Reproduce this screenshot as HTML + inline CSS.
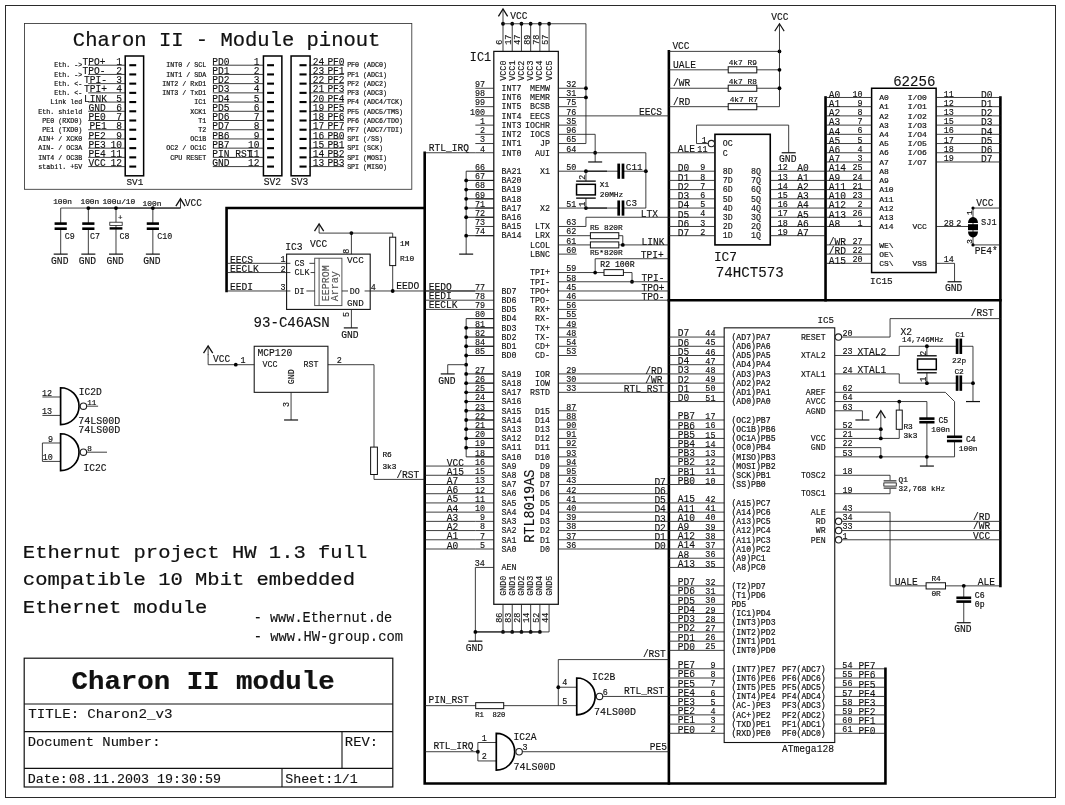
<!DOCTYPE html>
<html><head><meta charset="utf-8"><title>Charon II module</title>
<style>
html,body{margin:0;padding:0;background:#fff}
body{width:1065px;height:805px;overflow:hidden}
svg{display:block;will-change:transform}
svg text{font-family:"Liberation Mono","DejaVu Sans Mono",monospace;fill:#111;white-space:pre;stroke:#111;stroke-width:0.14px}
svg text.b{stroke-width:0.22px}
svg text.m{stroke-width:0.12px}
svg text.t{stroke-width:0.2px}
</style></head><body>
<svg width="1065" height="805" viewBox="0 0 1065 805">
<rect width="1065" height="805" fill="#fff"/>
<rect x="5.5" y="5.5" width="1050" height="792" fill="none" stroke="#2a2a2a" stroke-width="1.0"/>
<rect x="24.5" y="23.5" width="387.3" height="165.8" fill="none" stroke="#333" stroke-width="0.85"/>
<text x="72.89" y="45.7" font-size="20.03" textLength="307.5" lengthAdjust="spacingAndGlyphs" class="b">Charon II - Module pinout</text>
<rect x="125.2" y="56" width="18.43" height="119.8" fill="none" stroke="#000" stroke-width="1.5"/>
<line x1="88.2" y1="65.21" x2="125.2" y2="65.21" stroke="#1c1c1c" stroke-width="0.85" stroke-linecap="butt"/>
<line x1="129.3" y1="65.21" x2="136.2" y2="65.21" stroke="#000" stroke-width="2.1" stroke-linecap="butt"/>
<text x="82.58" y="64.81" font-size="10.09" textLength="23" lengthAdjust="spacingAndGlyphs">TPO+</text>
<text x="122.12" y="64.81" font-size="10.09" textLength="5.75" lengthAdjust="spacingAndGlyphs" text-anchor="end">1</text>
<text x="82.16" y="67.49" font-size="6.9" textLength="28" lengthAdjust="spacingAndGlyphs" text-anchor="end" class="t">Eth. -&gt;</text>
<line x1="88.2" y1="74.43" x2="125.2" y2="74.43" stroke="#1c1c1c" stroke-width="0.85" stroke-linecap="butt"/>
<line x1="129.3" y1="74.43" x2="136.2" y2="74.43" stroke="#000" stroke-width="2.1" stroke-linecap="butt"/>
<text x="82.58" y="74.03" font-size="10.09" textLength="23" lengthAdjust="spacingAndGlyphs">TPO-</text>
<text x="122.12" y="74.03" font-size="10.09" textLength="5.75" lengthAdjust="spacingAndGlyphs" text-anchor="end">2</text>
<text x="82.16" y="76.7" font-size="6.9" textLength="28" lengthAdjust="spacingAndGlyphs" text-anchor="end" class="t">Eth. -&gt;</text>
<line x1="88.2" y1="83.64" x2="125.2" y2="83.64" stroke="#1c1c1c" stroke-width="0.85" stroke-linecap="butt"/>
<line x1="129.3" y1="83.64" x2="136.2" y2="83.64" stroke="#000" stroke-width="2.1" stroke-linecap="butt"/>
<text x="83.98" y="83.24" font-size="10.09" textLength="23" lengthAdjust="spacingAndGlyphs">TPI-</text>
<text x="122.12" y="83.24" font-size="10.09" textLength="5.75" lengthAdjust="spacingAndGlyphs" text-anchor="end">3</text>
<text x="82.16" y="85.92" font-size="6.9" textLength="28" lengthAdjust="spacingAndGlyphs" text-anchor="end" class="t">Eth. &lt;-</text>
<line x1="88.2" y1="92.86" x2="125.2" y2="92.86" stroke="#1c1c1c" stroke-width="0.85" stroke-linecap="butt"/>
<line x1="129.3" y1="92.86" x2="136.2" y2="92.86" stroke="#000" stroke-width="2.1" stroke-linecap="butt"/>
<text x="83.98" y="92.46" font-size="10.09" textLength="23" lengthAdjust="spacingAndGlyphs">TPI+</text>
<text x="122.12" y="92.46" font-size="10.09" textLength="5.75" lengthAdjust="spacingAndGlyphs" text-anchor="end">4</text>
<text x="82.16" y="95.13" font-size="6.9" textLength="28" lengthAdjust="spacingAndGlyphs" text-anchor="end" class="t">Eth. &lt;-</text>
<line x1="88.2" y1="102.07" x2="125.2" y2="102.07" stroke="#1c1c1c" stroke-width="0.85" stroke-linecap="butt"/>
<line x1="129.3" y1="102.07" x2="136.2" y2="102.07" stroke="#000" stroke-width="2.1" stroke-linecap="butt"/>
<text x="83.98" y="101.67" font-size="10.09" textLength="23" lengthAdjust="spacingAndGlyphs">LINK</text>
<text x="122.12" y="101.67" font-size="10.09" textLength="5.75" lengthAdjust="spacingAndGlyphs" text-anchor="end">5</text>
<text x="82.16" y="104.35" font-size="6.9" textLength="32" lengthAdjust="spacingAndGlyphs" text-anchor="end" class="t">Link led</text>
<line x1="88.2" y1="111.29" x2="125.2" y2="111.29" stroke="#1c1c1c" stroke-width="0.85" stroke-linecap="butt"/>
<line x1="129.3" y1="111.29" x2="136.2" y2="111.29" stroke="#000" stroke-width="2.1" stroke-linecap="butt"/>
<text x="88.48" y="110.89" font-size="10.09" textLength="17.25" lengthAdjust="spacingAndGlyphs">GND</text>
<text x="122.12" y="110.89" font-size="10.09" textLength="5.75" lengthAdjust="spacingAndGlyphs" text-anchor="end">6</text>
<text x="82.16" y="113.56" font-size="6.9" textLength="44" lengthAdjust="spacingAndGlyphs" text-anchor="end" class="t">Eth. shield</text>
<line x1="88.2" y1="120.5" x2="125.2" y2="120.5" stroke="#1c1c1c" stroke-width="0.85" stroke-linecap="butt"/>
<line x1="129.3" y1="120.5" x2="136.2" y2="120.5" stroke="#000" stroke-width="2.1" stroke-linecap="butt"/>
<text x="88.48" y="120.1" font-size="10.09" textLength="17.25" lengthAdjust="spacingAndGlyphs">PE0</text>
<text x="122.12" y="120.1" font-size="10.09" textLength="5.75" lengthAdjust="spacingAndGlyphs" text-anchor="end">7</text>
<text x="82.16" y="122.78" font-size="6.9" textLength="40" lengthAdjust="spacingAndGlyphs" text-anchor="end" class="t">PE0 (RXD0)</text>
<line x1="88.2" y1="129.72" x2="125.2" y2="129.72" stroke="#1c1c1c" stroke-width="0.85" stroke-linecap="butt"/>
<line x1="129.3" y1="129.72" x2="136.2" y2="129.72" stroke="#000" stroke-width="2.1" stroke-linecap="butt"/>
<text x="89.48" y="129.32" font-size="10.09" textLength="17.25" lengthAdjust="spacingAndGlyphs">PE1</text>
<text x="122.12" y="129.32" font-size="10.09" textLength="5.75" lengthAdjust="spacingAndGlyphs" text-anchor="end">8</text>
<text x="82.16" y="131.99" font-size="6.9" textLength="40" lengthAdjust="spacingAndGlyphs" text-anchor="end" class="t">PE1 (TXD0)</text>
<line x1="88.2" y1="138.93" x2="125.2" y2="138.93" stroke="#1c1c1c" stroke-width="0.85" stroke-linecap="butt"/>
<line x1="129.3" y1="138.93" x2="136.2" y2="138.93" stroke="#000" stroke-width="2.1" stroke-linecap="butt"/>
<text x="88.48" y="138.53" font-size="10.09" textLength="17.25" lengthAdjust="spacingAndGlyphs">PE2</text>
<text x="122.12" y="138.53" font-size="10.09" textLength="5.75" lengthAdjust="spacingAndGlyphs" text-anchor="end">9</text>
<text x="82.16" y="141.21" font-size="6.9" textLength="44" lengthAdjust="spacingAndGlyphs" text-anchor="end" class="t">AIN+ / XCK0</text>
<line x1="88.2" y1="148.15" x2="125.2" y2="148.15" stroke="#1c1c1c" stroke-width="0.85" stroke-linecap="butt"/>
<line x1="129.3" y1="148.15" x2="136.2" y2="148.15" stroke="#000" stroke-width="2.1" stroke-linecap="butt"/>
<text x="88.48" y="147.75" font-size="10.09" textLength="17.25" lengthAdjust="spacingAndGlyphs">PE3</text>
<text x="122.12" y="147.75" font-size="10.09" textLength="11.5" lengthAdjust="spacingAndGlyphs" text-anchor="end">10</text>
<text x="82.16" y="150.42" font-size="6.9" textLength="44" lengthAdjust="spacingAndGlyphs" text-anchor="end" class="t">AIN- / OC3A</text>
<line x1="88.2" y1="157.36" x2="125.2" y2="157.36" stroke="#1c1c1c" stroke-width="0.85" stroke-linecap="butt"/>
<line x1="129.3" y1="157.36" x2="136.2" y2="157.36" stroke="#000" stroke-width="2.1" stroke-linecap="butt"/>
<text x="88.48" y="156.96" font-size="10.09" textLength="17.25" lengthAdjust="spacingAndGlyphs">PE4</text>
<text x="122.12" y="156.96" font-size="10.09" textLength="11.5" lengthAdjust="spacingAndGlyphs" text-anchor="end">11</text>
<text x="82.16" y="159.64" font-size="6.9" textLength="44" lengthAdjust="spacingAndGlyphs" text-anchor="end" class="t">INT4 / OC3B</text>
<line x1="88.2" y1="166.58" x2="125.2" y2="166.58" stroke="#1c1c1c" stroke-width="0.85" stroke-linecap="butt"/>
<line x1="129.3" y1="166.58" x2="136.2" y2="166.58" stroke="#000" stroke-width="2.1" stroke-linecap="butt"/>
<text x="88.48" y="166.18" font-size="10.09" textLength="17.25" lengthAdjust="spacingAndGlyphs">VCC</text>
<text x="122.12" y="166.18" font-size="10.09" textLength="11.5" lengthAdjust="spacingAndGlyphs" text-anchor="end">12</text>
<text x="82.16" y="168.85" font-size="6.9" textLength="44" lengthAdjust="spacingAndGlyphs" text-anchor="end" class="t">stabil. +5V</text>
<text x="126.5" y="185.4" font-size="9.86" textLength="16.8" lengthAdjust="spacingAndGlyphs">SV1</text>
<rect x="263.43" y="56" width="18.43" height="119.8" fill="none" stroke="#000" stroke-width="1.5"/>
<line x1="212.8" y1="65.21" x2="263.43" y2="65.21" stroke="#1c1c1c" stroke-width="0.85" stroke-linecap="butt"/>
<line x1="267.1" y1="65.21" x2="274" y2="65.21" stroke="#000" stroke-width="2.1" stroke-linecap="butt"/>
<text x="212.28" y="64.81" font-size="10.09" textLength="17.25" lengthAdjust="spacingAndGlyphs">PD0</text>
<text x="259.52" y="64.81" font-size="10.09" textLength="5.75" lengthAdjust="spacingAndGlyphs" text-anchor="end">1</text>
<text x="206.16" y="67.49" font-size="6.9" textLength="40" lengthAdjust="spacingAndGlyphs" text-anchor="end" class="t">INT0 / SCL</text>
<line x1="212.8" y1="74.43" x2="263.43" y2="74.43" stroke="#1c1c1c" stroke-width="0.85" stroke-linecap="butt"/>
<line x1="267.1" y1="74.43" x2="274" y2="74.43" stroke="#000" stroke-width="2.1" stroke-linecap="butt"/>
<text x="212.28" y="74.03" font-size="10.09" textLength="17.25" lengthAdjust="spacingAndGlyphs">PD1</text>
<text x="259.52" y="74.03" font-size="10.09" textLength="5.75" lengthAdjust="spacingAndGlyphs" text-anchor="end">2</text>
<text x="206.16" y="76.7" font-size="6.9" textLength="40" lengthAdjust="spacingAndGlyphs" text-anchor="end" class="t">INT1 / SDA</text>
<line x1="212.8" y1="83.64" x2="263.43" y2="83.64" stroke="#1c1c1c" stroke-width="0.85" stroke-linecap="butt"/>
<line x1="267.1" y1="83.64" x2="274" y2="83.64" stroke="#000" stroke-width="2.1" stroke-linecap="butt"/>
<text x="212.28" y="83.24" font-size="10.09" textLength="17.25" lengthAdjust="spacingAndGlyphs">PD2</text>
<text x="259.52" y="83.24" font-size="10.09" textLength="5.75" lengthAdjust="spacingAndGlyphs" text-anchor="end">3</text>
<text x="206.16" y="85.92" font-size="6.9" textLength="44" lengthAdjust="spacingAndGlyphs" text-anchor="end" class="t">INT2 / RxD1</text>
<line x1="212.8" y1="92.86" x2="263.43" y2="92.86" stroke="#1c1c1c" stroke-width="0.85" stroke-linecap="butt"/>
<line x1="267.1" y1="92.86" x2="274" y2="92.86" stroke="#000" stroke-width="2.1" stroke-linecap="butt"/>
<text x="212.28" y="92.46" font-size="10.09" textLength="17.25" lengthAdjust="spacingAndGlyphs">PD3</text>
<text x="259.52" y="92.46" font-size="10.09" textLength="5.75" lengthAdjust="spacingAndGlyphs" text-anchor="end">4</text>
<text x="206.16" y="95.13" font-size="6.9" textLength="44" lengthAdjust="spacingAndGlyphs" text-anchor="end" class="t">INT3 / TxD1</text>
<line x1="212.8" y1="102.07" x2="263.43" y2="102.07" stroke="#1c1c1c" stroke-width="0.85" stroke-linecap="butt"/>
<line x1="267.1" y1="102.07" x2="274" y2="102.07" stroke="#000" stroke-width="2.1" stroke-linecap="butt"/>
<text x="212.28" y="101.67" font-size="10.09" textLength="17.25" lengthAdjust="spacingAndGlyphs">PD4</text>
<text x="259.52" y="101.67" font-size="10.09" textLength="5.75" lengthAdjust="spacingAndGlyphs" text-anchor="end">5</text>
<text x="206.16" y="104.35" font-size="6.9" textLength="12" lengthAdjust="spacingAndGlyphs" text-anchor="end" class="t">IC1</text>
<line x1="212.8" y1="111.29" x2="263.43" y2="111.29" stroke="#1c1c1c" stroke-width="0.85" stroke-linecap="butt"/>
<line x1="267.1" y1="111.29" x2="274" y2="111.29" stroke="#000" stroke-width="2.1" stroke-linecap="butt"/>
<text x="212.28" y="110.89" font-size="10.09" textLength="17.25" lengthAdjust="spacingAndGlyphs">PD5</text>
<text x="259.52" y="110.89" font-size="10.09" textLength="5.75" lengthAdjust="spacingAndGlyphs" text-anchor="end">6</text>
<text x="206.16" y="113.56" font-size="6.9" textLength="16" lengthAdjust="spacingAndGlyphs" text-anchor="end" class="t">XCK1</text>
<line x1="212.8" y1="120.5" x2="263.43" y2="120.5" stroke="#1c1c1c" stroke-width="0.85" stroke-linecap="butt"/>
<line x1="267.1" y1="120.5" x2="274" y2="120.5" stroke="#000" stroke-width="2.1" stroke-linecap="butt"/>
<text x="212.28" y="120.1" font-size="10.09" textLength="17.25" lengthAdjust="spacingAndGlyphs">PD6</text>
<text x="259.52" y="120.1" font-size="10.09" textLength="5.75" lengthAdjust="spacingAndGlyphs" text-anchor="end">7</text>
<text x="206.16" y="122.78" font-size="6.9" textLength="8" lengthAdjust="spacingAndGlyphs" text-anchor="end" class="t">T1</text>
<line x1="212.8" y1="129.72" x2="263.43" y2="129.72" stroke="#1c1c1c" stroke-width="0.85" stroke-linecap="butt"/>
<line x1="267.1" y1="129.72" x2="274" y2="129.72" stroke="#000" stroke-width="2.1" stroke-linecap="butt"/>
<text x="212.28" y="129.32" font-size="10.09" textLength="17.25" lengthAdjust="spacingAndGlyphs">PD7</text>
<text x="259.52" y="129.32" font-size="10.09" textLength="5.75" lengthAdjust="spacingAndGlyphs" text-anchor="end">8</text>
<text x="206.16" y="131.99" font-size="6.9" textLength="8" lengthAdjust="spacingAndGlyphs" text-anchor="end" class="t">T2</text>
<line x1="212.8" y1="138.93" x2="263.43" y2="138.93" stroke="#1c1c1c" stroke-width="0.85" stroke-linecap="butt"/>
<line x1="267.1" y1="138.93" x2="274" y2="138.93" stroke="#000" stroke-width="2.1" stroke-linecap="butt"/>
<text x="212.28" y="138.53" font-size="10.09" textLength="17.25" lengthAdjust="spacingAndGlyphs">PB6</text>
<text x="259.52" y="138.53" font-size="10.09" textLength="5.75" lengthAdjust="spacingAndGlyphs" text-anchor="end">9</text>
<text x="206.16" y="141.21" font-size="6.9" textLength="16" lengthAdjust="spacingAndGlyphs" text-anchor="end" class="t">OC1B</text>
<line x1="212.8" y1="148.15" x2="263.43" y2="148.15" stroke="#1c1c1c" stroke-width="0.85" stroke-linecap="butt"/>
<line x1="267.1" y1="148.15" x2="274" y2="148.15" stroke="#000" stroke-width="2.1" stroke-linecap="butt"/>
<text x="212.28" y="147.75" font-size="10.09" textLength="17.25" lengthAdjust="spacingAndGlyphs">PB7</text>
<text x="259.52" y="147.75" font-size="10.09" textLength="11.5" lengthAdjust="spacingAndGlyphs" text-anchor="end">10</text>
<text x="206.16" y="150.42" font-size="6.9" textLength="40" lengthAdjust="spacingAndGlyphs" text-anchor="end" class="t">OC2 / OC1C</text>
<line x1="212.8" y1="157.36" x2="263.43" y2="157.36" stroke="#1c1c1c" stroke-width="0.85" stroke-linecap="butt"/>
<line x1="267.1" y1="157.36" x2="274" y2="157.36" stroke="#000" stroke-width="2.1" stroke-linecap="butt"/>
<text x="212.28" y="156.96" font-size="10.09" textLength="40.25" lengthAdjust="spacingAndGlyphs">PIN_RST</text>
<text x="259.52" y="156.96" font-size="10.09" textLength="11.5" lengthAdjust="spacingAndGlyphs" text-anchor="end">11</text>
<text x="206.16" y="159.64" font-size="6.9" textLength="36" lengthAdjust="spacingAndGlyphs" text-anchor="end" class="t">CPU RESET</text>
<line x1="212.8" y1="166.58" x2="263.43" y2="166.58" stroke="#1c1c1c" stroke-width="0.85" stroke-linecap="butt"/>
<line x1="267.1" y1="166.58" x2="274" y2="166.58" stroke="#000" stroke-width="2.1" stroke-linecap="butt"/>
<text x="212.28" y="166.18" font-size="10.09" textLength="17.25" lengthAdjust="spacingAndGlyphs">GND</text>
<text x="259.52" y="166.18" font-size="10.09" textLength="11.5" lengthAdjust="spacingAndGlyphs" text-anchor="end">12</text>
<text x="263.68" y="185.4" font-size="10.17" textLength="17.4" lengthAdjust="spacingAndGlyphs">SV2</text>
<rect x="291.07" y="56" width="19.03" height="119.8" fill="none" stroke="#000" stroke-width="1.5"/>
<line x1="309.5" y1="65.21" x2="344" y2="65.21" stroke="#1c1c1c" stroke-width="0.85" stroke-linecap="butt"/>
<line x1="299.5" y1="65.21" x2="306.6" y2="65.21" stroke="#000" stroke-width="2.1" stroke-linecap="butt"/>
<text x="312.78" y="64.81" font-size="10.09" textLength="11.5" lengthAdjust="spacingAndGlyphs">24</text>
<text x="327.38" y="64.81" font-size="10.09" textLength="17.25" lengthAdjust="spacingAndGlyphs">PF0</text>
<text x="347.14" y="67.49" font-size="6.9" textLength="40" lengthAdjust="spacingAndGlyphs" class="t">PF0 (ADC0)</text>
<line x1="309.5" y1="74.43" x2="344" y2="74.43" stroke="#1c1c1c" stroke-width="0.85" stroke-linecap="butt"/>
<line x1="299.5" y1="74.43" x2="306.6" y2="74.43" stroke="#000" stroke-width="2.1" stroke-linecap="butt"/>
<text x="312.78" y="74.03" font-size="10.09" textLength="11.5" lengthAdjust="spacingAndGlyphs">23</text>
<text x="327.38" y="74.03" font-size="10.09" textLength="17.25" lengthAdjust="spacingAndGlyphs">PF1</text>
<text x="347.14" y="76.7" font-size="6.9" textLength="40" lengthAdjust="spacingAndGlyphs" class="t">PF1 (ADC1)</text>
<line x1="309.5" y1="83.64" x2="344" y2="83.64" stroke="#1c1c1c" stroke-width="0.85" stroke-linecap="butt"/>
<line x1="299.5" y1="83.64" x2="306.6" y2="83.64" stroke="#000" stroke-width="2.1" stroke-linecap="butt"/>
<text x="312.78" y="83.24" font-size="10.09" textLength="11.5" lengthAdjust="spacingAndGlyphs">22</text>
<text x="327.38" y="83.24" font-size="10.09" textLength="17.25" lengthAdjust="spacingAndGlyphs">PF2</text>
<text x="347.14" y="85.92" font-size="6.9" textLength="40" lengthAdjust="spacingAndGlyphs" class="t">PF2 (ADC2)</text>
<line x1="309.5" y1="92.86" x2="344" y2="92.86" stroke="#1c1c1c" stroke-width="0.85" stroke-linecap="butt"/>
<line x1="299.5" y1="92.86" x2="306.6" y2="92.86" stroke="#000" stroke-width="2.1" stroke-linecap="butt"/>
<text x="312.78" y="92.46" font-size="10.09" textLength="11.5" lengthAdjust="spacingAndGlyphs">21</text>
<text x="327.38" y="92.46" font-size="10.09" textLength="17.25" lengthAdjust="spacingAndGlyphs">PF3</text>
<text x="347.14" y="95.13" font-size="6.9" textLength="40" lengthAdjust="spacingAndGlyphs" class="t">PF3 (ADC3)</text>
<line x1="309.5" y1="102.07" x2="344" y2="102.07" stroke="#1c1c1c" stroke-width="0.85" stroke-linecap="butt"/>
<line x1="299.5" y1="102.07" x2="306.6" y2="102.07" stroke="#000" stroke-width="2.1" stroke-linecap="butt"/>
<text x="312.78" y="101.67" font-size="10.09" textLength="11.5" lengthAdjust="spacingAndGlyphs">20</text>
<text x="327.38" y="101.67" font-size="10.09" textLength="17.25" lengthAdjust="spacingAndGlyphs">PF4</text>
<text x="347.14" y="104.35" font-size="6.9" textLength="56" lengthAdjust="spacingAndGlyphs" class="t">PF4 (ADC4/TCK)</text>
<line x1="309.5" y1="111.29" x2="344" y2="111.29" stroke="#1c1c1c" stroke-width="0.85" stroke-linecap="butt"/>
<line x1="299.5" y1="111.29" x2="306.6" y2="111.29" stroke="#000" stroke-width="2.1" stroke-linecap="butt"/>
<text x="312.78" y="110.89" font-size="10.09" textLength="11.5" lengthAdjust="spacingAndGlyphs">19</text>
<text x="327.38" y="110.89" font-size="10.09" textLength="17.25" lengthAdjust="spacingAndGlyphs">PF5</text>
<text x="347.14" y="113.56" font-size="6.9" textLength="56" lengthAdjust="spacingAndGlyphs" class="t">PF5 (ADC5/TMS)</text>
<line x1="309.5" y1="120.5" x2="344" y2="120.5" stroke="#1c1c1c" stroke-width="0.85" stroke-linecap="butt"/>
<line x1="299.5" y1="120.5" x2="306.6" y2="120.5" stroke="#000" stroke-width="2.1" stroke-linecap="butt"/>
<text x="312.78" y="120.1" font-size="10.09" textLength="11.5" lengthAdjust="spacingAndGlyphs">18</text>
<text x="327.38" y="120.1" font-size="10.09" textLength="17.25" lengthAdjust="spacingAndGlyphs">PF6</text>
<text x="347.14" y="122.78" font-size="6.9" textLength="56" lengthAdjust="spacingAndGlyphs" class="t">PF6 (ADC6/TDO)</text>
<line x1="309.5" y1="129.72" x2="344" y2="129.72" stroke="#1c1c1c" stroke-width="0.85" stroke-linecap="butt"/>
<line x1="299.5" y1="129.72" x2="306.6" y2="129.72" stroke="#000" stroke-width="2.1" stroke-linecap="butt"/>
<text x="312.78" y="129.32" font-size="10.09" textLength="11.5" lengthAdjust="spacingAndGlyphs">17</text>
<text x="327.38" y="129.32" font-size="10.09" textLength="17.25" lengthAdjust="spacingAndGlyphs">PF7</text>
<text x="347.14" y="131.99" font-size="6.9" textLength="56" lengthAdjust="spacingAndGlyphs" class="t">PF7 (ADC7/TDI)</text>
<line x1="309.5" y1="138.93" x2="344" y2="138.93" stroke="#1c1c1c" stroke-width="0.85" stroke-linecap="butt"/>
<line x1="299.5" y1="138.93" x2="306.6" y2="138.93" stroke="#000" stroke-width="2.1" stroke-linecap="butt"/>
<text x="312.78" y="138.53" font-size="10.09" textLength="11.5" lengthAdjust="spacingAndGlyphs">16</text>
<text x="327.38" y="138.53" font-size="10.09" textLength="17.25" lengthAdjust="spacingAndGlyphs">PB0</text>
<text x="347.14" y="141.21" font-size="6.9" textLength="36" lengthAdjust="spacingAndGlyphs" class="t">SPI (/SS)</text>
<line x1="309.5" y1="148.15" x2="344" y2="148.15" stroke="#1c1c1c" stroke-width="0.85" stroke-linecap="butt"/>
<line x1="299.5" y1="148.15" x2="306.6" y2="148.15" stroke="#000" stroke-width="2.1" stroke-linecap="butt"/>
<text x="312.78" y="147.75" font-size="10.09" textLength="11.5" lengthAdjust="spacingAndGlyphs">15</text>
<text x="327.38" y="147.75" font-size="10.09" textLength="17.25" lengthAdjust="spacingAndGlyphs">PB1</text>
<text x="347.14" y="150.42" font-size="6.9" textLength="36" lengthAdjust="spacingAndGlyphs" class="t">SPI (SCK)</text>
<line x1="309.5" y1="157.36" x2="344" y2="157.36" stroke="#1c1c1c" stroke-width="0.85" stroke-linecap="butt"/>
<line x1="299.5" y1="157.36" x2="306.6" y2="157.36" stroke="#000" stroke-width="2.1" stroke-linecap="butt"/>
<text x="312.78" y="156.96" font-size="10.09" textLength="11.5" lengthAdjust="spacingAndGlyphs">14</text>
<text x="327.38" y="156.96" font-size="10.09" textLength="17.25" lengthAdjust="spacingAndGlyphs">PB2</text>
<text x="347.14" y="159.64" font-size="6.9" textLength="40" lengthAdjust="spacingAndGlyphs" class="t">SPI (MOSI)</text>
<line x1="309.5" y1="166.58" x2="344" y2="166.58" stroke="#1c1c1c" stroke-width="0.85" stroke-linecap="butt"/>
<line x1="299.5" y1="166.58" x2="306.6" y2="166.58" stroke="#000" stroke-width="2.1" stroke-linecap="butt"/>
<text x="312.78" y="166.18" font-size="10.09" textLength="11.5" lengthAdjust="spacingAndGlyphs">13</text>
<text x="327.38" y="166.18" font-size="10.09" textLength="17.25" lengthAdjust="spacingAndGlyphs">PB3</text>
<text x="347.14" y="168.85" font-size="6.9" textLength="40" lengthAdjust="spacingAndGlyphs" class="t">SPI (MISO)</text>
<text x="290.98" y="185.4" font-size="10.17" textLength="17.4" lengthAdjust="spacingAndGlyphs">SV3</text>
<line x1="60.69" y1="208.05" x2="180.49" y2="208.05" stroke="#1c1c1c" stroke-width="0.85" stroke-linecap="butt"/>
<line x1="88.34" y1="208.05" x2="180.49" y2="208.05" stroke="#1c1c1c" stroke-width="1.0" stroke-linecap="butt"/>
<line x1="60.69" y1="208.05" x2="60.69" y2="254.12" stroke="#1c1c1c" stroke-width="0.85" stroke-linecap="butt"/>
<rect x="58.69" y="223.6" width="4" height="5.1" fill="#fff" stroke="#1c1c1c" stroke-width="0"/>
<rect x="54.59" y="222.3" width="12.2" height="2.6" fill="#000" stroke="#1c1c1c" stroke-width="0"/>
<rect x="54.59" y="227.4" width="12.2" height="2.6" fill="#000" stroke="#1c1c1c" stroke-width="0"/>
<line x1="53.69" y1="254.12" x2="67.69" y2="254.12" stroke="#111" stroke-width="1.2" stroke-linecap="butt"/>
<text x="59.79" y="263.72" font-size="10.17" textLength="17.4" lengthAdjust="spacingAndGlyphs" text-anchor="middle">GND</text>
<text x="53.18" y="203.9" font-size="7.97" textLength="18.8" lengthAdjust="spacingAndGlyphs" class="t">100n</text>
<text x="64.85" y="239" font-size="8.42" textLength="10" lengthAdjust="spacingAndGlyphs">C9</text>
<line x1="88.34" y1="208.05" x2="88.34" y2="254.12" stroke="#1c1c1c" stroke-width="0.85" stroke-linecap="butt"/>
<rect x="86.34" y="223.6" width="4" height="5.1" fill="#fff" stroke="#1c1c1c" stroke-width="0"/>
<rect x="82.24" y="222.3" width="12.2" height="2.6" fill="#000" stroke="#1c1c1c" stroke-width="0"/>
<rect x="82.24" y="227.4" width="12.2" height="2.6" fill="#000" stroke="#1c1c1c" stroke-width="0"/>
<line x1="81.34" y1="254.12" x2="95.34" y2="254.12" stroke="#111" stroke-width="1.2" stroke-linecap="butt"/>
<text x="87.44" y="263.72" font-size="10.17" textLength="17.4" lengthAdjust="spacingAndGlyphs" text-anchor="middle">GND</text>
<text x="80.48" y="203.9" font-size="7.97" textLength="18.8" lengthAdjust="spacingAndGlyphs" class="t">100n</text>
<text x="90.05" y="239" font-size="8.42" textLength="10" lengthAdjust="spacingAndGlyphs">C7</text>
<circle cx="88.34" cy="208.05" r="1.9" fill="#000"/>
<line x1="115.99" y1="208.05" x2="115.99" y2="254.12" stroke="#1c1c1c" stroke-width="0.85" stroke-linecap="butt"/>
<rect x="109.79" y="222.2" width="12.4" height="3.2" fill="#fff" stroke="#1c1c1c" stroke-width="0.8"/>
<rect x="109.59" y="227.2" width="12.8" height="2.4" fill="#000" stroke="#1c1c1c" stroke-width="0"/>
<text x="118.09" y="219.5" font-size="7.66" textLength="4.5" lengthAdjust="spacingAndGlyphs" class="t">+</text>
<line x1="108.99" y1="254.12" x2="122.99" y2="254.12" stroke="#111" stroke-width="1.2" stroke-linecap="butt"/>
<text x="115.09" y="263.72" font-size="10.17" textLength="17.4" lengthAdjust="spacingAndGlyphs" text-anchor="middle">GND</text>
<text x="102.38" y="203.9" font-size="7.97" textLength="32.9" lengthAdjust="spacingAndGlyphs" class="t">100u/10</text>
<text x="119.55" y="239" font-size="8.42" textLength="10" lengthAdjust="spacingAndGlyphs">C8</text>
<circle cx="115.99" cy="208.05" r="1.9" fill="#000"/>
<line x1="152.85" y1="208.05" x2="152.85" y2="254.12" stroke="#1c1c1c" stroke-width="0.85" stroke-linecap="butt"/>
<rect x="150.85" y="223.6" width="4" height="5.1" fill="#fff" stroke="#1c1c1c" stroke-width="0"/>
<rect x="146.75" y="222.3" width="12.2" height="2.6" fill="#000" stroke="#1c1c1c" stroke-width="0"/>
<rect x="146.75" y="227.4" width="12.2" height="2.6" fill="#000" stroke="#1c1c1c" stroke-width="0"/>
<line x1="145.85" y1="254.12" x2="159.85" y2="254.12" stroke="#111" stroke-width="1.2" stroke-linecap="butt"/>
<text x="151.95" y="263.72" font-size="10.17" textLength="17.4" lengthAdjust="spacingAndGlyphs" text-anchor="middle">GND</text>
<text x="142.58" y="205.7" font-size="7.97" textLength="18.8" lengthAdjust="spacingAndGlyphs" class="t">100n</text>
<text x="157.15" y="239" font-size="8.42" textLength="15" lengthAdjust="spacingAndGlyphs">C10</text>
<circle cx="152.85" cy="208.05" r="1.9" fill="#000"/>
<line x1="180.49" y1="198.83" x2="180.49" y2="208.04" stroke="#1c1c1c" stroke-width="0.85" stroke-linecap="butt"/>
<polyline points="175.89,206.13 180.49,198.83 185.09,206.13" fill="none" stroke="#111" stroke-width="1.3" stroke-linejoin="miter" stroke-linecap="butt"/>
<text x="184.68" y="205.7" font-size="10.09" textLength="17.25" lengthAdjust="spacingAndGlyphs">VCC</text>
<polyline points="226.56,290.98 226.56,208.05 424.69,208.05" fill="none" stroke="#000" stroke-width="2.6" stroke-linejoin="miter" stroke-linecap="square"/>
<polyline points="424.69,152.75 424.69,783.5 885.44,783.5 885.44,668.79" fill="none" stroke="#000" stroke-width="2.6" stroke-linejoin="miter" stroke-linecap="square"/>
<polyline points="668.88,51.39 668.88,783.5" fill="none" stroke="#000" stroke-width="2.6" stroke-linejoin="miter" stroke-linecap="square"/>
<polyline points="668.88,300.19 1000.4,300.19" fill="none" stroke="#000" stroke-width="2.6" stroke-linejoin="miter" stroke-linecap="square"/>
<polyline points="825.54,97.47 825.54,300.19" fill="none" stroke="#000" stroke-width="2.6" stroke-linejoin="miter" stroke-linecap="square"/>
<polyline points="1000.4,97.47 1000.4,585.86" fill="none" stroke="#000" stroke-width="2.6" stroke-linejoin="miter" stroke-linecap="square"/>
<rect x="286.6" y="254.12" width="83.6" height="55.29" fill="none" stroke="#111" stroke-width="1.1"/>
<line x1="226.56" y1="263.34" x2="290.4" y2="263.34" stroke="#1c1c1c" stroke-width="0.85" stroke-linecap="butt"/>
<text x="230.08" y="262.74" font-size="10.09" textLength="23" lengthAdjust="spacingAndGlyphs">EECS</text>
<text x="280.55" y="262.34" font-size="8.5" textLength="5.05" lengthAdjust="spacingAndGlyphs">1</text>
<line x1="226.56" y1="272.55" x2="290.4" y2="272.55" stroke="#1c1c1c" stroke-width="0.85" stroke-linecap="butt"/>
<text x="230.08" y="271.95" font-size="10.09" textLength="28.75" lengthAdjust="spacingAndGlyphs">EECLK</text>
<text x="280.55" y="271.55" font-size="8.5" textLength="5.05" lengthAdjust="spacingAndGlyphs">2</text>
<line x1="226.56" y1="290.98" x2="290.4" y2="290.98" stroke="#1c1c1c" stroke-width="0.85" stroke-linecap="butt"/>
<text x="230.08" y="290.38" font-size="10.09" textLength="23" lengthAdjust="spacingAndGlyphs">EEDI</text>
<text x="280.55" y="289.98" font-size="8.5" textLength="5.05" lengthAdjust="spacingAndGlyphs">3</text>
<text x="294.55" y="266.11" font-size="8.42" textLength="10" lengthAdjust="spacingAndGlyphs">CS</text>
<text x="294.55" y="275.32" font-size="8.42" textLength="15" lengthAdjust="spacingAndGlyphs">CLK</text>
<text x="294.55" y="293.75" font-size="8.42" textLength="10" lengthAdjust="spacingAndGlyphs">DI</text>
<text x="349.75" y="293.75" font-size="8.42" textLength="10" lengthAdjust="spacingAndGlyphs">DO</text>
<text x="347" y="263.3" font-size="9.86" textLength="16.8" lengthAdjust="spacingAndGlyphs">VCC</text>
<text x="347" y="306.2" font-size="9.86" textLength="16.8" lengthAdjust="spacingAndGlyphs">GND</text>
<rect x="314.7" y="258.2" width="27.2" height="47.4" fill="none" stroke="#444" stroke-width="0.9"/>
<line x1="319.1" y1="258.2" x2="319.1" y2="305.6" stroke="#444" stroke-width="0.9" stroke-linecap="butt"/>
<line x1="309.4" y1="263.34" x2="314.7" y2="263.34" stroke="#1c1c1c" stroke-width="0.85" stroke-linecap="butt"/>
<line x1="310.6" y1="272.55" x2="314.7" y2="272.55" stroke="#1c1c1c" stroke-width="0.85" stroke-linecap="butt"/>
<line x1="306.4" y1="290.98" x2="314.7" y2="290.98" stroke="#1c1c1c" stroke-width="0.85" stroke-linecap="butt"/>
<line x1="341.9" y1="290.98" x2="348" y2="290.98" stroke="#1c1c1c" stroke-width="0.85" stroke-linecap="butt"/>
<text x="328.46" y="300.6" font-size="10.47" textLength="36" lengthAdjust="spacingAndGlyphs" style="fill:#555;stroke:#555" transform="rotate(-90 329 300.6)">EEPROM</text>
<text x="337.26" y="300.6" font-size="10.47" textLength="30" lengthAdjust="spacingAndGlyphs" style="fill:#555;stroke:#555" transform="rotate(-90 337.8 300.6)">Array</text>
<text x="285.28" y="249.9" font-size="10.17" textLength="17.4" lengthAdjust="spacingAndGlyphs">IC3</text>
<text x="310.08" y="247.4" font-size="10.09" textLength="17.25" lengthAdjust="spacingAndGlyphs">VCC</text>
<text x="253.54" y="327" font-size="14.2" textLength="76.14" lengthAdjust="spacingAndGlyphs" class="m">93-C46ASN</text>
<line x1="351.4" y1="254.12" x2="351.4" y2="233.1" stroke="#1c1c1c" stroke-width="0.85" stroke-linecap="butt"/>
<circle cx="351.4" cy="233.1" r="1.9" fill="#000"/>
<line x1="319.1" y1="233.1" x2="392.7" y2="233.1" stroke="#1c1c1c" stroke-width="0.85" stroke-linecap="butt"/>
<line x1="319.1" y1="223.88" x2="319.1" y2="233.1" stroke="#1c1c1c" stroke-width="0.85" stroke-linecap="butt"/>
<polyline points="314.5,231.19 319.1,223.88 323.7,231.19" fill="none" stroke="#111" stroke-width="1.3" stroke-linejoin="miter" stroke-linecap="butt"/>
<line x1="392.7" y1="233.1" x2="392.7" y2="290.98" stroke="#1c1c1c" stroke-width="0.85" stroke-linecap="butt"/>
<rect x="389.7" y="237.2" width="6" height="28.4" fill="#fff" stroke="#111" stroke-width="1.0"/>
<text x="400.08" y="245.9" font-size="7.97" textLength="9.4" lengthAdjust="spacingAndGlyphs" class="t">1M</text>
<text x="400.08" y="261.1" font-size="7.97" textLength="14.1" lengthAdjust="spacingAndGlyphs" class="t">R10</text>
<text x="348.95" y="253.2" font-size="8.5" textLength="5.05" lengthAdjust="spacingAndGlyphs" transform="rotate(-90 349.4 253.2)">8</text>
<line x1="364.6" y1="290.98" x2="475.37" y2="290.98" stroke="#1c1c1c" stroke-width="0.85" stroke-linecap="butt"/>
<circle cx="392.7" cy="290.98" r="1.9" fill="#000"/>
<text x="370.75" y="289.98" font-size="8.5" textLength="5.05" lengthAdjust="spacingAndGlyphs">4</text>
<text x="396.18" y="289.38" font-size="10.09" textLength="23" lengthAdjust="spacingAndGlyphs">EEDO</text>
<line x1="351.4" y1="309.41" x2="351.4" y2="327.9" stroke="#1c1c1c" stroke-width="0.85" stroke-linecap="butt"/>
<line x1="343.8" y1="327.9" x2="357.8" y2="327.9" stroke="#111" stroke-width="1.2" stroke-linecap="butt"/>
<text x="349.9" y="337.5" font-size="10.17" textLength="17.4" lengthAdjust="spacingAndGlyphs" text-anchor="middle">GND</text>
<text x="348.95" y="316.5" font-size="8.5" textLength="5.05" lengthAdjust="spacingAndGlyphs" transform="rotate(-90 349.4 316.5)">5</text>
<rect x="254.21" y="346.27" width="73.72" height="46.07" fill="none" stroke="#1c1c1c" stroke-width="1.1"/>
<line x1="208.13" y1="345.87" x2="208.13" y2="355.08" stroke="#1c1c1c" stroke-width="0.85" stroke-linecap="butt"/>
<polyline points="203.53,353.17 208.13,345.87 212.73,353.17" fill="none" stroke="#111" stroke-width="1.3" stroke-linejoin="miter" stroke-linecap="butt"/>
<line x1="208.13" y1="354.49" x2="208.13" y2="364.7" stroke="#1c1c1c" stroke-width="0.85" stroke-linecap="butt"/>
<line x1="208.13" y1="364.7" x2="254.21" y2="364.7" stroke="#1c1c1c" stroke-width="0.85" stroke-linecap="butt"/>
<circle cx="235.78" cy="364.7" r="1.9" fill="#000"/>
<text x="213.08" y="361.8" font-size="10.09" textLength="17.25" lengthAdjust="spacingAndGlyphs">VCC</text>
<text x="240.55" y="362.5" font-size="8.5" textLength="5.05" lengthAdjust="spacingAndGlyphs">1</text>
<text x="257.48" y="355.6" font-size="10.17" textLength="34.8" lengthAdjust="spacingAndGlyphs">MCP120</text>
<text x="262.55" y="367.47" font-size="8.42" textLength="15" lengthAdjust="spacingAndGlyphs">VCC</text>
<text x="303.45" y="367.47" font-size="8.42" textLength="15" lengthAdjust="spacingAndGlyphs">RST</text>
<text x="293.75" y="383.7" font-size="8.42" textLength="15" lengthAdjust="spacingAndGlyphs" transform="rotate(-90 294.2 383.7)">GND</text>
<line x1="291.07" y1="392.34" x2="291.07" y2="419.99" stroke="#1c1c1c" stroke-width="0.85" stroke-linecap="butt"/>
<line x1="284.07" y1="419.99" x2="298.07" y2="419.99" stroke="#111" stroke-width="1.2" stroke-linecap="butt"/>
<text x="288.95" y="406.6" font-size="8.5" textLength="5.05" lengthAdjust="spacingAndGlyphs" transform="rotate(-90 289.4 406.6)">3</text>
<line x1="327.93" y1="364.7" x2="374" y2="364.7" stroke="#1c1c1c" stroke-width="0.85" stroke-linecap="butt"/>
<text x="336.65" y="362.5" font-size="8.5" textLength="5.05" lengthAdjust="spacingAndGlyphs">2</text>
<line x1="374" y1="364.7" x2="374" y2="479.4" stroke="#1c1c1c" stroke-width="0.85" stroke-linecap="butt"/>
<line x1="374" y1="479.4" x2="424.69" y2="479.4" stroke="#1c1c1c" stroke-width="0.85" stroke-linecap="butt"/>
<rect x="370.61" y="447.1" width="6.8" height="27.4" fill="#fff" stroke="#111" stroke-width="1.0"/>
<text x="382.38" y="457.2" font-size="7.97" textLength="9.4" lengthAdjust="spacingAndGlyphs" class="t">R6</text>
<text x="382.38" y="469.3" font-size="7.97" textLength="14.1" lengthAdjust="spacingAndGlyphs" class="t">3k3</text>
<text x="396.38" y="477.6" font-size="10.09" textLength="23" lengthAdjust="spacingAndGlyphs">/RST</text>
<line x1="42.4" y1="396.99" x2="60.6" y2="396.99" stroke="#1c1c1c" stroke-width="0.85" stroke-linecap="butt"/>
<line x1="42.4" y1="415.41" x2="60.6" y2="415.41" stroke="#1c1c1c" stroke-width="0.85" stroke-linecap="butt"/>
<path d="M60.6,387.77 A18.43,18.43 0 0 1 60.6,424.63 Z" fill="#fff" stroke="#000" stroke-width="1.7" stroke-linejoin="miter"/>
<circle cx="83.43" cy="406.2" r="3.2" fill="#fff" stroke="#222" stroke-width="1.1"/>
<line x1="86.53" y1="406.2" x2="98.1" y2="406.2" stroke="#1c1c1c" stroke-width="0.85" stroke-linecap="butt"/>
<text x="78.68" y="394.8" font-size="10.17" textLength="23.2" lengthAdjust="spacingAndGlyphs">IC2D</text>
<text x="78.16" y="424" font-size="10.47" textLength="42" lengthAdjust="spacingAndGlyphs">74LS00D</text>
<text x="41.95" y="395.99" font-size="8.5" textLength="10.1" lengthAdjust="spacingAndGlyphs">12</text>
<text x="41.95" y="414.41" font-size="8.5" textLength="10.1" lengthAdjust="spacingAndGlyphs">13</text>
<text x="87.19" y="404.8" font-size="7.81" textLength="9.2" lengthAdjust="spacingAndGlyphs" class="t">11</text>
<polyline points="60.6,442.99 42.4,442.99 42.4,461.41 60.6,461.41" fill="none" stroke="#1c1c1c" stroke-width="0.85" stroke-linejoin="miter" stroke-linecap="butt"/>
<path d="M60.6,433.77 A18.43,18.43 0 0 1 60.6,470.63 Z" fill="#fff" stroke="#000" stroke-width="1.7" stroke-linejoin="miter"/>
<circle cx="83.43" cy="452.2" r="3.2" fill="#fff" stroke="#222" stroke-width="1.1"/>
<line x1="86.53" y1="452.2" x2="107" y2="452.2" stroke="#1c1c1c" stroke-width="0.85" stroke-linecap="butt"/>
<text x="83.38" y="470.6" font-size="10.17" textLength="23.2" lengthAdjust="spacingAndGlyphs">IC2C</text>
<text x="78.16" y="433.2" font-size="10.47" textLength="42" lengthAdjust="spacingAndGlyphs">74LS00D</text>
<text x="48.05" y="441.99" font-size="8.5" textLength="5.05" lengthAdjust="spacingAndGlyphs">9</text>
<text x="42.75" y="460.41" font-size="8.5" textLength="10.1" lengthAdjust="spacingAndGlyphs">10</text>
<text x="87.19" y="450.8" font-size="7.81" textLength="4.6" lengthAdjust="spacingAndGlyphs" class="t">8</text>
<text x="22.89" y="557.8" font-size="19.27" textLength="344.4" lengthAdjust="spacingAndGlyphs" class="b">Ethernut project HW 1.3 full</text>
<text x="22.89" y="585.3" font-size="19.27" textLength="332.1" lengthAdjust="spacingAndGlyphs" class="b">compatible 10 Mbit embedded</text>
<text x="22.89" y="612.8" font-size="19.27" textLength="184.5" lengthAdjust="spacingAndGlyphs" class="b">Ethernet module</text>
<text x="253.67" y="622.2" font-size="13.73" textLength="138.55" lengthAdjust="spacingAndGlyphs" class="m">- www.Ethernut.de</text>
<text x="253.65" y="641.2" font-size="13.96" textLength="149.4" lengthAdjust="spacingAndGlyphs" class="m">- www.HW-group.com</text>
<rect x="24.2" y="658.2" width="368.6" height="128.8" fill="none" stroke="#111" stroke-width="1.2"/>
<line x1="24.2" y1="704" x2="392.8" y2="704" stroke="#111" stroke-width="1.1" stroke-linecap="butt"/>
<line x1="24.2" y1="731.6" x2="392.8" y2="731.6" stroke="#111" stroke-width="1.1" stroke-linecap="butt"/>
<line x1="24.2" y1="768.4" x2="392.8" y2="768.4" stroke="#111" stroke-width="1.1" stroke-linecap="butt"/>
<line x1="342" y1="731.6" x2="342" y2="768.4" stroke="#111" stroke-width="1.1" stroke-linecap="butt"/>
<line x1="282" y1="768.4" x2="282" y2="787" stroke="#111" stroke-width="1.1" stroke-linecap="butt"/>
<text x="71.52" y="688.6" font-size="25.19" textLength="263.2" lengthAdjust="spacingAndGlyphs" font-weight="bold" class="b">Charon II module</text>
<text x="28.23" y="718.2" font-size="13.35" textLength="51" lengthAdjust="spacingAndGlyphs" class="m">TITLE:</text>
<text x="87.23" y="718.2" font-size="13.35" textLength="85.3" lengthAdjust="spacingAndGlyphs" class="m">Charon2_v3</text>
<text x="27.65" y="745.5" font-size="13.35" textLength="132.8" lengthAdjust="spacingAndGlyphs" class="m">Document Number:</text>
<text x="344.85" y="745.5" font-size="13.35" textLength="33.2" lengthAdjust="spacingAndGlyphs" class="m">REV:</text>
<text x="27.68" y="782.5" font-size="13.05" textLength="40" lengthAdjust="spacingAndGlyphs" class="m">Date:</text>
<text x="69.08" y="782.5" font-size="13.05" textLength="152" lengthAdjust="spacingAndGlyphs" class="m">08.11.2003 19:30:59</text>
<text x="285.28" y="782.5" font-size="13.05" textLength="48" lengthAdjust="spacingAndGlyphs" class="m">Sheet:</text>
<text x="333.88" y="782.5" font-size="13.05" textLength="24" lengthAdjust="spacingAndGlyphs" class="m">1/1</text>
<rect x="493.8" y="51.39" width="64.51" height="552.9" fill="none" stroke="#111" stroke-width="1.25"/>
<text x="469.86" y="60.9" font-size="12.14" textLength="21.3" lengthAdjust="spacingAndGlyphs" class="m">IC1</text>
<text x="533.27" y="542.1" font-size="13.73" textLength="73.35" lengthAdjust="spacingAndGlyphs" class="m" transform="rotate(-90 534 542.1)">RTL8019AS</text>
<line x1="475.37" y1="88.25" x2="493.8" y2="88.25" stroke="#1c1c1c" stroke-width="0.85" stroke-linecap="butt"/>
<text x="485.15" y="87.05" font-size="8.5" textLength="10.1" lengthAdjust="spacingAndGlyphs" text-anchor="end">97</text>
<text x="501.55" y="91.03" font-size="8.42" textLength="20" lengthAdjust="spacingAndGlyphs">INT7</text>
<line x1="475.37" y1="97.47" x2="493.8" y2="97.47" stroke="#1c1c1c" stroke-width="0.85" stroke-linecap="butt"/>
<text x="485.15" y="96.27" font-size="8.5" textLength="10.1" lengthAdjust="spacingAndGlyphs" text-anchor="end">98</text>
<text x="501.55" y="100.24" font-size="8.42" textLength="20" lengthAdjust="spacingAndGlyphs">INT6</text>
<line x1="475.37" y1="106.68" x2="493.8" y2="106.68" stroke="#1c1c1c" stroke-width="0.85" stroke-linecap="butt"/>
<text x="485.15" y="105.48" font-size="8.5" textLength="10.1" lengthAdjust="spacingAndGlyphs" text-anchor="end">99</text>
<text x="501.55" y="109.46" font-size="8.42" textLength="20" lengthAdjust="spacingAndGlyphs">INT5</text>
<line x1="475.37" y1="115.89" x2="493.8" y2="115.89" stroke="#1c1c1c" stroke-width="0.85" stroke-linecap="butt"/>
<text x="485.15" y="114.69" font-size="8.5" textLength="15.15" lengthAdjust="spacingAndGlyphs" text-anchor="end">100</text>
<text x="501.55" y="118.67" font-size="8.42" textLength="20" lengthAdjust="spacingAndGlyphs">INT4</text>
<line x1="475.37" y1="125.11" x2="493.8" y2="125.11" stroke="#1c1c1c" stroke-width="0.85" stroke-linecap="butt"/>
<text x="485.15" y="123.91" font-size="8.5" textLength="5.05" lengthAdjust="spacingAndGlyphs" text-anchor="end">1</text>
<text x="501.55" y="127.89" font-size="8.42" textLength="20" lengthAdjust="spacingAndGlyphs">INT3</text>
<line x1="475.37" y1="134.32" x2="493.8" y2="134.32" stroke="#1c1c1c" stroke-width="0.85" stroke-linecap="butt"/>
<text x="485.15" y="133.12" font-size="8.5" textLength="5.05" lengthAdjust="spacingAndGlyphs" text-anchor="end">2</text>
<text x="501.55" y="137.1" font-size="8.42" textLength="20" lengthAdjust="spacingAndGlyphs">INT2</text>
<line x1="475.37" y1="143.54" x2="493.8" y2="143.54" stroke="#1c1c1c" stroke-width="0.85" stroke-linecap="butt"/>
<text x="485.15" y="142.34" font-size="8.5" textLength="5.05" lengthAdjust="spacingAndGlyphs" text-anchor="end">3</text>
<text x="501.55" y="146.31" font-size="8.42" textLength="20" lengthAdjust="spacingAndGlyphs">INT1</text>
<line x1="475.37" y1="152.75" x2="493.8" y2="152.75" stroke="#1c1c1c" stroke-width="0.85" stroke-linecap="butt"/>
<text x="485.15" y="151.56" font-size="8.5" textLength="5.05" lengthAdjust="spacingAndGlyphs" text-anchor="end">4</text>
<text x="501.55" y="155.53" font-size="8.42" textLength="20" lengthAdjust="spacingAndGlyphs">INT0</text>
<line x1="475.37" y1="171.19" x2="493.8" y2="171.19" stroke="#1c1c1c" stroke-width="0.85" stroke-linecap="butt"/>
<text x="485.15" y="169.99" font-size="8.5" textLength="10.1" lengthAdjust="spacingAndGlyphs" text-anchor="end">66</text>
<text x="501.55" y="173.96" font-size="8.42" textLength="20" lengthAdjust="spacingAndGlyphs">BA21</text>
<line x1="475.37" y1="180.4" x2="493.8" y2="180.4" stroke="#1c1c1c" stroke-width="0.85" stroke-linecap="butt"/>
<text x="485.15" y="179.2" font-size="8.5" textLength="10.1" lengthAdjust="spacingAndGlyphs" text-anchor="end">67</text>
<text x="501.55" y="183.18" font-size="8.42" textLength="20" lengthAdjust="spacingAndGlyphs">BA20</text>
<line x1="475.37" y1="189.62" x2="493.8" y2="189.62" stroke="#1c1c1c" stroke-width="0.85" stroke-linecap="butt"/>
<text x="485.15" y="188.42" font-size="8.5" textLength="10.1" lengthAdjust="spacingAndGlyphs" text-anchor="end">68</text>
<text x="501.55" y="192.39" font-size="8.42" textLength="20" lengthAdjust="spacingAndGlyphs">BA19</text>
<line x1="475.37" y1="198.83" x2="493.8" y2="198.83" stroke="#1c1c1c" stroke-width="0.85" stroke-linecap="butt"/>
<text x="485.15" y="197.63" font-size="8.5" textLength="10.1" lengthAdjust="spacingAndGlyphs" text-anchor="end">69</text>
<text x="501.55" y="201.6" font-size="8.42" textLength="20" lengthAdjust="spacingAndGlyphs">BA18</text>
<line x1="475.37" y1="208.05" x2="493.8" y2="208.05" stroke="#1c1c1c" stroke-width="0.85" stroke-linecap="butt"/>
<text x="485.15" y="206.85" font-size="8.5" textLength="10.1" lengthAdjust="spacingAndGlyphs" text-anchor="end">71</text>
<text x="501.55" y="210.82" font-size="8.42" textLength="20" lengthAdjust="spacingAndGlyphs">BA17</text>
<line x1="475.37" y1="217.26" x2="493.8" y2="217.26" stroke="#1c1c1c" stroke-width="0.85" stroke-linecap="butt"/>
<text x="485.15" y="216.06" font-size="8.5" textLength="10.1" lengthAdjust="spacingAndGlyphs" text-anchor="end">72</text>
<text x="501.55" y="220.03" font-size="8.42" textLength="20" lengthAdjust="spacingAndGlyphs">BA16</text>
<line x1="475.37" y1="226.47" x2="493.8" y2="226.47" stroke="#1c1c1c" stroke-width="0.85" stroke-linecap="butt"/>
<text x="485.15" y="225.28" font-size="8.5" textLength="10.1" lengthAdjust="spacingAndGlyphs" text-anchor="end">73</text>
<text x="501.55" y="229.25" font-size="8.42" textLength="20" lengthAdjust="spacingAndGlyphs">BA15</text>
<line x1="475.37" y1="235.69" x2="493.8" y2="235.69" stroke="#1c1c1c" stroke-width="0.85" stroke-linecap="butt"/>
<text x="485.15" y="234.49" font-size="8.5" textLength="10.1" lengthAdjust="spacingAndGlyphs" text-anchor="end">74</text>
<text x="501.55" y="238.47" font-size="8.42" textLength="20" lengthAdjust="spacingAndGlyphs">BA14</text>
<line x1="475.37" y1="290.98" x2="493.8" y2="290.98" stroke="#1c1c1c" stroke-width="0.85" stroke-linecap="butt"/>
<text x="485.15" y="289.78" font-size="8.5" textLength="10.1" lengthAdjust="spacingAndGlyphs" text-anchor="end">77</text>
<text x="501.55" y="293.75" font-size="8.42" textLength="15" lengthAdjust="spacingAndGlyphs">BD7</text>
<line x1="475.37" y1="300.19" x2="493.8" y2="300.19" stroke="#1c1c1c" stroke-width="0.85" stroke-linecap="butt"/>
<text x="485.15" y="299" font-size="8.5" textLength="10.1" lengthAdjust="spacingAndGlyphs" text-anchor="end">78</text>
<text x="501.55" y="302.97" font-size="8.42" textLength="15" lengthAdjust="spacingAndGlyphs">BD6</text>
<line x1="475.37" y1="309.41" x2="493.8" y2="309.41" stroke="#1c1c1c" stroke-width="0.85" stroke-linecap="butt"/>
<text x="485.15" y="308.21" font-size="8.5" textLength="10.1" lengthAdjust="spacingAndGlyphs" text-anchor="end">79</text>
<text x="501.55" y="312.18" font-size="8.42" textLength="15" lengthAdjust="spacingAndGlyphs">BD5</text>
<line x1="475.37" y1="318.62" x2="493.8" y2="318.62" stroke="#1c1c1c" stroke-width="0.85" stroke-linecap="butt"/>
<text x="485.15" y="317.43" font-size="8.5" textLength="10.1" lengthAdjust="spacingAndGlyphs" text-anchor="end">80</text>
<text x="501.55" y="321.4" font-size="8.42" textLength="15" lengthAdjust="spacingAndGlyphs">BD4</text>
<line x1="475.37" y1="327.84" x2="493.8" y2="327.84" stroke="#1c1c1c" stroke-width="0.85" stroke-linecap="butt"/>
<text x="485.15" y="326.64" font-size="8.5" textLength="10.1" lengthAdjust="spacingAndGlyphs" text-anchor="end">81</text>
<text x="501.55" y="330.62" font-size="8.42" textLength="15" lengthAdjust="spacingAndGlyphs">BD3</text>
<line x1="475.37" y1="337.06" x2="493.8" y2="337.06" stroke="#1c1c1c" stroke-width="0.85" stroke-linecap="butt"/>
<text x="485.15" y="335.86" font-size="8.5" textLength="10.1" lengthAdjust="spacingAndGlyphs" text-anchor="end">82</text>
<text x="501.55" y="339.83" font-size="8.42" textLength="15" lengthAdjust="spacingAndGlyphs">BD2</text>
<line x1="475.37" y1="346.27" x2="493.8" y2="346.27" stroke="#1c1c1c" stroke-width="0.85" stroke-linecap="butt"/>
<text x="485.15" y="345.07" font-size="8.5" textLength="10.1" lengthAdjust="spacingAndGlyphs" text-anchor="end">84</text>
<text x="501.55" y="349.04" font-size="8.42" textLength="15" lengthAdjust="spacingAndGlyphs">BD1</text>
<line x1="475.37" y1="355.49" x2="493.8" y2="355.49" stroke="#1c1c1c" stroke-width="0.85" stroke-linecap="butt"/>
<text x="485.15" y="354.29" font-size="8.5" textLength="10.1" lengthAdjust="spacingAndGlyphs" text-anchor="end">85</text>
<text x="501.55" y="358.26" font-size="8.42" textLength="15" lengthAdjust="spacingAndGlyphs">BD0</text>
<line x1="475.37" y1="373.92" x2="493.8" y2="373.92" stroke="#1c1c1c" stroke-width="0.85" stroke-linecap="butt"/>
<text x="485.15" y="372.72" font-size="8.5" textLength="10.1" lengthAdjust="spacingAndGlyphs" text-anchor="end">27</text>
<text x="501.55" y="376.69" font-size="8.42" textLength="20" lengthAdjust="spacingAndGlyphs">SA19</text>
<line x1="475.37" y1="383.13" x2="493.8" y2="383.13" stroke="#1c1c1c" stroke-width="0.85" stroke-linecap="butt"/>
<text x="485.15" y="381.93" font-size="8.5" textLength="10.1" lengthAdjust="spacingAndGlyphs" text-anchor="end">26</text>
<text x="501.55" y="385.9" font-size="8.42" textLength="20" lengthAdjust="spacingAndGlyphs">SA18</text>
<line x1="475.37" y1="392.34" x2="493.8" y2="392.34" stroke="#1c1c1c" stroke-width="0.85" stroke-linecap="butt"/>
<text x="485.15" y="391.14" font-size="8.5" textLength="10.1" lengthAdjust="spacingAndGlyphs" text-anchor="end">25</text>
<text x="501.55" y="395.12" font-size="8.42" textLength="20" lengthAdjust="spacingAndGlyphs">SA17</text>
<line x1="475.37" y1="401.56" x2="493.8" y2="401.56" stroke="#1c1c1c" stroke-width="0.85" stroke-linecap="butt"/>
<text x="485.15" y="400.36" font-size="8.5" textLength="10.1" lengthAdjust="spacingAndGlyphs" text-anchor="end">24</text>
<text x="501.55" y="404.33" font-size="8.42" textLength="20" lengthAdjust="spacingAndGlyphs">SA16</text>
<line x1="475.37" y1="410.77" x2="493.8" y2="410.77" stroke="#1c1c1c" stroke-width="0.85" stroke-linecap="butt"/>
<text x="485.15" y="409.57" font-size="8.5" textLength="10.1" lengthAdjust="spacingAndGlyphs" text-anchor="end">23</text>
<text x="501.55" y="413.55" font-size="8.42" textLength="20" lengthAdjust="spacingAndGlyphs">SA15</text>
<line x1="475.37" y1="419.99" x2="493.8" y2="419.99" stroke="#1c1c1c" stroke-width="0.85" stroke-linecap="butt"/>
<text x="485.15" y="418.79" font-size="8.5" textLength="10.1" lengthAdjust="spacingAndGlyphs" text-anchor="end">22</text>
<text x="501.55" y="422.76" font-size="8.42" textLength="20" lengthAdjust="spacingAndGlyphs">SA14</text>
<line x1="475.37" y1="429.2" x2="493.8" y2="429.2" stroke="#1c1c1c" stroke-width="0.85" stroke-linecap="butt"/>
<text x="485.15" y="428" font-size="8.5" textLength="10.1" lengthAdjust="spacingAndGlyphs" text-anchor="end">21</text>
<text x="501.55" y="431.98" font-size="8.42" textLength="20" lengthAdjust="spacingAndGlyphs">SA13</text>
<line x1="475.37" y1="438.42" x2="493.8" y2="438.42" stroke="#1c1c1c" stroke-width="0.85" stroke-linecap="butt"/>
<text x="485.15" y="437.22" font-size="8.5" textLength="10.1" lengthAdjust="spacingAndGlyphs" text-anchor="end">20</text>
<text x="501.55" y="441.19" font-size="8.42" textLength="20" lengthAdjust="spacingAndGlyphs">SA12</text>
<line x1="475.37" y1="447.63" x2="493.8" y2="447.63" stroke="#1c1c1c" stroke-width="0.85" stroke-linecap="butt"/>
<text x="485.15" y="446.44" font-size="8.5" textLength="10.1" lengthAdjust="spacingAndGlyphs" text-anchor="end">19</text>
<text x="501.55" y="450.41" font-size="8.42" textLength="20" lengthAdjust="spacingAndGlyphs">SA11</text>
<line x1="475.37" y1="456.85" x2="493.8" y2="456.85" stroke="#1c1c1c" stroke-width="0.85" stroke-linecap="butt"/>
<text x="485.15" y="455.65" font-size="8.5" textLength="10.1" lengthAdjust="spacingAndGlyphs" text-anchor="end">18</text>
<text x="501.55" y="459.62" font-size="8.42" textLength="20" lengthAdjust="spacingAndGlyphs">SA10</text>
<line x1="475.37" y1="466.06" x2="493.8" y2="466.06" stroke="#1c1c1c" stroke-width="0.85" stroke-linecap="butt"/>
<text x="485.15" y="464.87" font-size="8.5" textLength="10.1" lengthAdjust="spacingAndGlyphs" text-anchor="end">16</text>
<text x="501.55" y="468.84" font-size="8.42" textLength="15" lengthAdjust="spacingAndGlyphs">SA9</text>
<line x1="475.37" y1="475.28" x2="493.8" y2="475.28" stroke="#1c1c1c" stroke-width="0.85" stroke-linecap="butt"/>
<text x="485.15" y="474.08" font-size="8.5" textLength="10.1" lengthAdjust="spacingAndGlyphs" text-anchor="end">15</text>
<text x="501.55" y="478.05" font-size="8.42" textLength="15" lengthAdjust="spacingAndGlyphs">SA8</text>
<line x1="475.37" y1="484.5" x2="493.8" y2="484.5" stroke="#1c1c1c" stroke-width="0.85" stroke-linecap="butt"/>
<text x="485.15" y="483.3" font-size="8.5" textLength="10.1" lengthAdjust="spacingAndGlyphs" text-anchor="end">13</text>
<text x="501.55" y="487.27" font-size="8.42" textLength="15" lengthAdjust="spacingAndGlyphs">SA7</text>
<line x1="475.37" y1="493.71" x2="493.8" y2="493.71" stroke="#1c1c1c" stroke-width="0.85" stroke-linecap="butt"/>
<text x="485.15" y="492.51" font-size="8.5" textLength="10.1" lengthAdjust="spacingAndGlyphs" text-anchor="end">12</text>
<text x="501.55" y="496.48" font-size="8.42" textLength="15" lengthAdjust="spacingAndGlyphs">SA6</text>
<line x1="475.37" y1="502.93" x2="493.8" y2="502.93" stroke="#1c1c1c" stroke-width="0.85" stroke-linecap="butt"/>
<text x="485.15" y="501.73" font-size="8.5" textLength="10.1" lengthAdjust="spacingAndGlyphs" text-anchor="end">11</text>
<text x="501.55" y="505.7" font-size="8.42" textLength="15" lengthAdjust="spacingAndGlyphs">SA5</text>
<line x1="475.37" y1="512.14" x2="493.8" y2="512.14" stroke="#1c1c1c" stroke-width="0.85" stroke-linecap="butt"/>
<text x="485.15" y="510.94" font-size="8.5" textLength="10.1" lengthAdjust="spacingAndGlyphs" text-anchor="end">10</text>
<text x="501.55" y="514.91" font-size="8.42" textLength="15" lengthAdjust="spacingAndGlyphs">SA4</text>
<line x1="475.37" y1="521.36" x2="493.8" y2="521.36" stroke="#1c1c1c" stroke-width="0.85" stroke-linecap="butt"/>
<text x="485.15" y="520.15" font-size="8.5" textLength="5.05" lengthAdjust="spacingAndGlyphs" text-anchor="end">9</text>
<text x="501.55" y="524.13" font-size="8.42" textLength="15" lengthAdjust="spacingAndGlyphs">SA3</text>
<line x1="475.37" y1="530.57" x2="493.8" y2="530.57" stroke="#1c1c1c" stroke-width="0.85" stroke-linecap="butt"/>
<text x="485.15" y="529.37" font-size="8.5" textLength="5.05" lengthAdjust="spacingAndGlyphs" text-anchor="end">8</text>
<text x="501.55" y="533.34" font-size="8.42" textLength="15" lengthAdjust="spacingAndGlyphs">SA2</text>
<line x1="475.37" y1="539.78" x2="493.8" y2="539.78" stroke="#1c1c1c" stroke-width="0.85" stroke-linecap="butt"/>
<text x="485.15" y="538.58" font-size="8.5" textLength="5.05" lengthAdjust="spacingAndGlyphs" text-anchor="end">7</text>
<text x="501.55" y="542.56" font-size="8.42" textLength="15" lengthAdjust="spacingAndGlyphs">SA1</text>
<line x1="475.37" y1="549" x2="493.8" y2="549" stroke="#1c1c1c" stroke-width="0.85" stroke-linecap="butt"/>
<text x="485.15" y="547.8" font-size="8.5" textLength="5.05" lengthAdjust="spacingAndGlyphs" text-anchor="end">5</text>
<text x="501.55" y="551.77" font-size="8.42" textLength="15" lengthAdjust="spacingAndGlyphs">SA0</text>
<line x1="475.37" y1="567.43" x2="493.8" y2="567.43" stroke="#1c1c1c" stroke-width="0.85" stroke-linecap="butt"/>
<text x="474.75" y="566.23" font-size="8.5" textLength="10.1" lengthAdjust="spacingAndGlyphs">34</text>
<text x="501.55" y="570.21" font-size="8.42" textLength="15" lengthAdjust="spacingAndGlyphs">AEN</text>
<line x1="558.31" y1="88.25" x2="576.74" y2="88.25" stroke="#1c1c1c" stroke-width="0.85" stroke-linecap="butt"/>
<text x="566.25" y="87.05" font-size="8.5" textLength="10.1" lengthAdjust="spacingAndGlyphs">32</text>
<text x="550.05" y="91.03" font-size="8.42" textLength="20" lengthAdjust="spacingAndGlyphs" text-anchor="end">MEMW</text>
<line x1="558.31" y1="97.47" x2="576.74" y2="97.47" stroke="#1c1c1c" stroke-width="0.85" stroke-linecap="butt"/>
<text x="566.25" y="96.27" font-size="8.5" textLength="10.1" lengthAdjust="spacingAndGlyphs">31</text>
<text x="550.05" y="100.24" font-size="8.42" textLength="20" lengthAdjust="spacingAndGlyphs" text-anchor="end">MEMR</text>
<line x1="558.31" y1="106.68" x2="576.74" y2="106.68" stroke="#1c1c1c" stroke-width="0.85" stroke-linecap="butt"/>
<text x="566.25" y="105.48" font-size="8.5" textLength="10.1" lengthAdjust="spacingAndGlyphs">75</text>
<text x="550.05" y="109.46" font-size="8.42" textLength="20" lengthAdjust="spacingAndGlyphs" text-anchor="end">BCSB</text>
<line x1="558.31" y1="115.89" x2="576.74" y2="115.89" stroke="#1c1c1c" stroke-width="0.85" stroke-linecap="butt"/>
<text x="566.25" y="114.69" font-size="8.5" textLength="10.1" lengthAdjust="spacingAndGlyphs">76</text>
<text x="550.05" y="118.67" font-size="8.42" textLength="20" lengthAdjust="spacingAndGlyphs" text-anchor="end">EECS</text>
<line x1="558.31" y1="125.11" x2="576.74" y2="125.11" stroke="#1c1c1c" stroke-width="0.85" stroke-linecap="butt"/>
<text x="566.25" y="123.91" font-size="8.5" textLength="10.1" lengthAdjust="spacingAndGlyphs">35</text>
<text x="550.05" y="127.89" font-size="8.42" textLength="25" lengthAdjust="spacingAndGlyphs" text-anchor="end">IOCHR</text>
<line x1="558.31" y1="134.32" x2="576.74" y2="134.32" stroke="#1c1c1c" stroke-width="0.85" stroke-linecap="butt"/>
<text x="566.25" y="133.12" font-size="8.5" textLength="10.1" lengthAdjust="spacingAndGlyphs">96</text>
<text x="550.05" y="137.1" font-size="8.42" textLength="20" lengthAdjust="spacingAndGlyphs" text-anchor="end">IOCS</text>
<line x1="558.31" y1="143.54" x2="576.74" y2="143.54" stroke="#1c1c1c" stroke-width="0.85" stroke-linecap="butt"/>
<text x="566.25" y="142.34" font-size="8.5" textLength="10.1" lengthAdjust="spacingAndGlyphs">65</text>
<text x="550.05" y="146.31" font-size="8.42" textLength="10" lengthAdjust="spacingAndGlyphs" text-anchor="end">JP</text>
<line x1="558.31" y1="152.75" x2="576.74" y2="152.75" stroke="#1c1c1c" stroke-width="0.85" stroke-linecap="butt"/>
<text x="566.25" y="151.56" font-size="8.5" textLength="10.1" lengthAdjust="spacingAndGlyphs">64</text>
<text x="550.05" y="155.53" font-size="8.42" textLength="15" lengthAdjust="spacingAndGlyphs" text-anchor="end">AUI</text>
<line x1="558.31" y1="171.19" x2="576.74" y2="171.19" stroke="#1c1c1c" stroke-width="0.85" stroke-linecap="butt"/>
<text x="566.25" y="169.99" font-size="8.5" textLength="10.1" lengthAdjust="spacingAndGlyphs">50</text>
<text x="550.05" y="173.96" font-size="8.42" textLength="10" lengthAdjust="spacingAndGlyphs" text-anchor="end">X1</text>
<line x1="558.31" y1="208.05" x2="576.74" y2="208.05" stroke="#1c1c1c" stroke-width="0.85" stroke-linecap="butt"/>
<text x="566.25" y="206.85" font-size="8.5" textLength="10.1" lengthAdjust="spacingAndGlyphs">51</text>
<text x="550.05" y="210.82" font-size="8.42" textLength="10" lengthAdjust="spacingAndGlyphs" text-anchor="end">X2</text>
<line x1="558.31" y1="226.47" x2="576.74" y2="226.47" stroke="#1c1c1c" stroke-width="0.85" stroke-linecap="butt"/>
<text x="566.25" y="225.28" font-size="8.5" textLength="10.1" lengthAdjust="spacingAndGlyphs">63</text>
<text x="550.05" y="229.25" font-size="8.42" textLength="15" lengthAdjust="spacingAndGlyphs" text-anchor="end">LTX</text>
<line x1="558.31" y1="235.69" x2="576.74" y2="235.69" stroke="#1c1c1c" stroke-width="0.85" stroke-linecap="butt"/>
<text x="566.25" y="234.49" font-size="8.5" textLength="10.1" lengthAdjust="spacingAndGlyphs">62</text>
<text x="550.05" y="238.47" font-size="8.42" textLength="15" lengthAdjust="spacingAndGlyphs" text-anchor="end">LRX</text>
<line x1="558.31" y1="244.91" x2="576.74" y2="244.91" stroke="#1c1c1c" stroke-width="0.85" stroke-linecap="butt"/>
<text x="566.25" y="243.71" font-size="8.5" textLength="10.1" lengthAdjust="spacingAndGlyphs">61</text>
<text x="550.05" y="247.68" font-size="8.42" textLength="20" lengthAdjust="spacingAndGlyphs" text-anchor="end">LCOL</text>
<line x1="558.31" y1="254.12" x2="576.74" y2="254.12" stroke="#1c1c1c" stroke-width="0.85" stroke-linecap="butt"/>
<text x="566.25" y="252.92" font-size="8.5" textLength="10.1" lengthAdjust="spacingAndGlyphs">60</text>
<text x="550.05" y="256.89" font-size="8.42" textLength="20" lengthAdjust="spacingAndGlyphs" text-anchor="end">LBNC</text>
<line x1="558.31" y1="272.55" x2="576.74" y2="272.55" stroke="#1c1c1c" stroke-width="0.85" stroke-linecap="butt"/>
<text x="566.25" y="271.35" font-size="8.5" textLength="10.1" lengthAdjust="spacingAndGlyphs">59</text>
<text x="550.05" y="275.32" font-size="8.42" textLength="20" lengthAdjust="spacingAndGlyphs" text-anchor="end">TPI+</text>
<line x1="558.31" y1="281.76" x2="576.74" y2="281.76" stroke="#1c1c1c" stroke-width="0.85" stroke-linecap="butt"/>
<text x="566.25" y="280.56" font-size="8.5" textLength="10.1" lengthAdjust="spacingAndGlyphs">58</text>
<text x="550.05" y="284.54" font-size="8.42" textLength="20" lengthAdjust="spacingAndGlyphs" text-anchor="end">TPI-</text>
<line x1="558.31" y1="290.98" x2="576.74" y2="290.98" stroke="#1c1c1c" stroke-width="0.85" stroke-linecap="butt"/>
<text x="566.25" y="289.78" font-size="8.5" textLength="10.1" lengthAdjust="spacingAndGlyphs">45</text>
<text x="550.05" y="293.75" font-size="8.42" textLength="20" lengthAdjust="spacingAndGlyphs" text-anchor="end">TPO+</text>
<line x1="558.31" y1="300.19" x2="576.74" y2="300.19" stroke="#1c1c1c" stroke-width="0.85" stroke-linecap="butt"/>
<text x="566.25" y="299" font-size="8.5" textLength="10.1" lengthAdjust="spacingAndGlyphs">46</text>
<text x="550.05" y="302.97" font-size="8.42" textLength="20" lengthAdjust="spacingAndGlyphs" text-anchor="end">TPO-</text>
<line x1="558.31" y1="309.41" x2="576.74" y2="309.41" stroke="#1c1c1c" stroke-width="0.85" stroke-linecap="butt"/>
<text x="566.25" y="308.21" font-size="8.5" textLength="10.1" lengthAdjust="spacingAndGlyphs">56</text>
<text x="550.05" y="312.18" font-size="8.42" textLength="15" lengthAdjust="spacingAndGlyphs" text-anchor="end">RX+</text>
<line x1="558.31" y1="318.62" x2="576.74" y2="318.62" stroke="#1c1c1c" stroke-width="0.85" stroke-linecap="butt"/>
<text x="566.25" y="317.43" font-size="8.5" textLength="10.1" lengthAdjust="spacingAndGlyphs">55</text>
<text x="550.05" y="321.4" font-size="8.42" textLength="15" lengthAdjust="spacingAndGlyphs" text-anchor="end">RX-</text>
<line x1="558.31" y1="327.84" x2="576.74" y2="327.84" stroke="#1c1c1c" stroke-width="0.85" stroke-linecap="butt"/>
<text x="566.25" y="326.64" font-size="8.5" textLength="10.1" lengthAdjust="spacingAndGlyphs">49</text>
<text x="550.05" y="330.62" font-size="8.42" textLength="15" lengthAdjust="spacingAndGlyphs" text-anchor="end">TX+</text>
<line x1="558.31" y1="337.06" x2="576.74" y2="337.06" stroke="#1c1c1c" stroke-width="0.85" stroke-linecap="butt"/>
<text x="566.25" y="335.86" font-size="8.5" textLength="10.1" lengthAdjust="spacingAndGlyphs">48</text>
<text x="550.05" y="339.83" font-size="8.42" textLength="15" lengthAdjust="spacingAndGlyphs" text-anchor="end">TX-</text>
<line x1="558.31" y1="346.27" x2="576.74" y2="346.27" stroke="#1c1c1c" stroke-width="0.85" stroke-linecap="butt"/>
<text x="566.25" y="345.07" font-size="8.5" textLength="10.1" lengthAdjust="spacingAndGlyphs">54</text>
<text x="550.05" y="349.04" font-size="8.42" textLength="15" lengthAdjust="spacingAndGlyphs" text-anchor="end">CD+</text>
<line x1="558.31" y1="355.49" x2="576.74" y2="355.49" stroke="#1c1c1c" stroke-width="0.85" stroke-linecap="butt"/>
<text x="566.25" y="354.29" font-size="8.5" textLength="10.1" lengthAdjust="spacingAndGlyphs">53</text>
<text x="550.05" y="358.26" font-size="8.42" textLength="15" lengthAdjust="spacingAndGlyphs" text-anchor="end">CD-</text>
<line x1="558.31" y1="373.92" x2="576.74" y2="373.92" stroke="#1c1c1c" stroke-width="0.85" stroke-linecap="butt"/>
<text x="566.25" y="372.72" font-size="8.5" textLength="10.1" lengthAdjust="spacingAndGlyphs">29</text>
<text x="550.05" y="376.69" font-size="8.42" textLength="15" lengthAdjust="spacingAndGlyphs" text-anchor="end">IOR</text>
<line x1="558.31" y1="383.13" x2="576.74" y2="383.13" stroke="#1c1c1c" stroke-width="0.85" stroke-linecap="butt"/>
<text x="566.25" y="381.93" font-size="8.5" textLength="10.1" lengthAdjust="spacingAndGlyphs">30</text>
<text x="550.05" y="385.9" font-size="8.42" textLength="15" lengthAdjust="spacingAndGlyphs" text-anchor="end">IOW</text>
<line x1="558.31" y1="392.34" x2="576.74" y2="392.34" stroke="#1c1c1c" stroke-width="0.85" stroke-linecap="butt"/>
<text x="566.25" y="391.14" font-size="8.5" textLength="10.1" lengthAdjust="spacingAndGlyphs">33</text>
<text x="550.05" y="395.12" font-size="8.42" textLength="20" lengthAdjust="spacingAndGlyphs" text-anchor="end">RSTD</text>
<line x1="558.31" y1="410.77" x2="576.74" y2="410.77" stroke="#1c1c1c" stroke-width="0.85" stroke-linecap="butt"/>
<text x="566.25" y="409.57" font-size="8.5" textLength="10.1" lengthAdjust="spacingAndGlyphs">87</text>
<text x="550.05" y="413.55" font-size="8.42" textLength="15" lengthAdjust="spacingAndGlyphs" text-anchor="end">D15</text>
<line x1="558.31" y1="419.99" x2="576.74" y2="419.99" stroke="#1c1c1c" stroke-width="0.85" stroke-linecap="butt"/>
<text x="566.25" y="418.79" font-size="8.5" textLength="10.1" lengthAdjust="spacingAndGlyphs">88</text>
<text x="550.05" y="422.76" font-size="8.42" textLength="15" lengthAdjust="spacingAndGlyphs" text-anchor="end">D14</text>
<line x1="558.31" y1="429.2" x2="576.74" y2="429.2" stroke="#1c1c1c" stroke-width="0.85" stroke-linecap="butt"/>
<text x="566.25" y="428" font-size="8.5" textLength="10.1" lengthAdjust="spacingAndGlyphs">90</text>
<text x="550.05" y="431.98" font-size="8.42" textLength="15" lengthAdjust="spacingAndGlyphs" text-anchor="end">D13</text>
<line x1="558.31" y1="438.42" x2="576.74" y2="438.42" stroke="#1c1c1c" stroke-width="0.85" stroke-linecap="butt"/>
<text x="566.25" y="437.22" font-size="8.5" textLength="10.1" lengthAdjust="spacingAndGlyphs">91</text>
<text x="550.05" y="441.19" font-size="8.42" textLength="15" lengthAdjust="spacingAndGlyphs" text-anchor="end">D12</text>
<line x1="558.31" y1="447.63" x2="576.74" y2="447.63" stroke="#1c1c1c" stroke-width="0.85" stroke-linecap="butt"/>
<text x="566.25" y="446.44" font-size="8.5" textLength="10.1" lengthAdjust="spacingAndGlyphs">92</text>
<text x="550.05" y="450.41" font-size="8.42" textLength="15" lengthAdjust="spacingAndGlyphs" text-anchor="end">D11</text>
<line x1="558.31" y1="456.85" x2="576.74" y2="456.85" stroke="#1c1c1c" stroke-width="0.85" stroke-linecap="butt"/>
<text x="566.25" y="455.65" font-size="8.5" textLength="10.1" lengthAdjust="spacingAndGlyphs">93</text>
<text x="550.05" y="459.62" font-size="8.42" textLength="15" lengthAdjust="spacingAndGlyphs" text-anchor="end">D10</text>
<line x1="558.31" y1="466.06" x2="576.74" y2="466.06" stroke="#1c1c1c" stroke-width="0.85" stroke-linecap="butt"/>
<text x="566.25" y="464.87" font-size="8.5" textLength="10.1" lengthAdjust="spacingAndGlyphs">94</text>
<text x="550.05" y="468.84" font-size="8.42" textLength="10" lengthAdjust="spacingAndGlyphs" text-anchor="end">D9</text>
<line x1="558.31" y1="475.28" x2="576.74" y2="475.28" stroke="#1c1c1c" stroke-width="0.85" stroke-linecap="butt"/>
<text x="566.25" y="474.08" font-size="8.5" textLength="10.1" lengthAdjust="spacingAndGlyphs">95</text>
<text x="550.05" y="478.05" font-size="8.42" textLength="10" lengthAdjust="spacingAndGlyphs" text-anchor="end">D8</text>
<line x1="558.31" y1="484.5" x2="576.74" y2="484.5" stroke="#1c1c1c" stroke-width="0.85" stroke-linecap="butt"/>
<text x="566.25" y="483.3" font-size="8.5" textLength="10.1" lengthAdjust="spacingAndGlyphs">43</text>
<text x="550.05" y="487.27" font-size="8.42" textLength="10" lengthAdjust="spacingAndGlyphs" text-anchor="end">D7</text>
<line x1="558.31" y1="493.71" x2="576.74" y2="493.71" stroke="#1c1c1c" stroke-width="0.85" stroke-linecap="butt"/>
<text x="566.25" y="492.51" font-size="8.5" textLength="10.1" lengthAdjust="spacingAndGlyphs">42</text>
<text x="550.05" y="496.48" font-size="8.42" textLength="10" lengthAdjust="spacingAndGlyphs" text-anchor="end">D6</text>
<line x1="558.31" y1="502.93" x2="576.74" y2="502.93" stroke="#1c1c1c" stroke-width="0.85" stroke-linecap="butt"/>
<text x="566.25" y="501.73" font-size="8.5" textLength="10.1" lengthAdjust="spacingAndGlyphs">41</text>
<text x="550.05" y="505.7" font-size="8.42" textLength="10" lengthAdjust="spacingAndGlyphs" text-anchor="end">D5</text>
<line x1="558.31" y1="512.14" x2="576.74" y2="512.14" stroke="#1c1c1c" stroke-width="0.85" stroke-linecap="butt"/>
<text x="566.25" y="510.94" font-size="8.5" textLength="10.1" lengthAdjust="spacingAndGlyphs">40</text>
<text x="550.05" y="514.91" font-size="8.42" textLength="10" lengthAdjust="spacingAndGlyphs" text-anchor="end">D4</text>
<line x1="558.31" y1="521.36" x2="576.74" y2="521.36" stroke="#1c1c1c" stroke-width="0.85" stroke-linecap="butt"/>
<text x="566.25" y="520.15" font-size="8.5" textLength="10.1" lengthAdjust="spacingAndGlyphs">39</text>
<text x="550.05" y="524.13" font-size="8.42" textLength="10" lengthAdjust="spacingAndGlyphs" text-anchor="end">D3</text>
<line x1="558.31" y1="530.57" x2="576.74" y2="530.57" stroke="#1c1c1c" stroke-width="0.85" stroke-linecap="butt"/>
<text x="566.25" y="529.37" font-size="8.5" textLength="10.1" lengthAdjust="spacingAndGlyphs">38</text>
<text x="550.05" y="533.34" font-size="8.42" textLength="10" lengthAdjust="spacingAndGlyphs" text-anchor="end">D2</text>
<line x1="558.31" y1="539.78" x2="576.74" y2="539.78" stroke="#1c1c1c" stroke-width="0.85" stroke-linecap="butt"/>
<text x="566.25" y="538.58" font-size="8.5" textLength="10.1" lengthAdjust="spacingAndGlyphs">37</text>
<text x="550.05" y="542.56" font-size="8.42" textLength="10" lengthAdjust="spacingAndGlyphs" text-anchor="end">D1</text>
<line x1="558.31" y1="549" x2="576.74" y2="549" stroke="#1c1c1c" stroke-width="0.85" stroke-linecap="butt"/>
<text x="566.25" y="547.8" font-size="8.5" textLength="10.1" lengthAdjust="spacingAndGlyphs">36</text>
<text x="550.05" y="551.77" font-size="8.42" textLength="10" lengthAdjust="spacingAndGlyphs" text-anchor="end">D0</text>
<line x1="503.01" y1="23.75" x2="503.01" y2="51.39" stroke="#1c1c1c" stroke-width="0.85" stroke-linecap="butt"/>
<circle cx="503.01" cy="23.75" r="1.9" fill="#000"/>
<text x="501.56" y="44.4" font-size="8.5" textLength="5.05" lengthAdjust="spacingAndGlyphs" transform="rotate(-90 502.01 44.4)">6</text>
<text x="505.16" y="80.3" font-size="8.19" textLength="20.2" lengthAdjust="spacingAndGlyphs" transform="rotate(-90 505.62 80.3)">VCC0</text>
<line x1="512.23" y1="23.75" x2="512.23" y2="51.39" stroke="#1c1c1c" stroke-width="0.85" stroke-linecap="butt"/>
<circle cx="512.23" cy="23.75" r="1.9" fill="#000"/>
<text x="510.78" y="44.4" font-size="8.5" textLength="10.1" lengthAdjust="spacingAndGlyphs" transform="rotate(-90 511.23 44.4)">17</text>
<text x="514.38" y="80.3" font-size="8.19" textLength="20.2" lengthAdjust="spacingAndGlyphs" transform="rotate(-90 514.83 80.3)">VCC1</text>
<line x1="521.45" y1="23.75" x2="521.45" y2="51.39" stroke="#1c1c1c" stroke-width="0.85" stroke-linecap="butt"/>
<circle cx="521.45" cy="23.75" r="1.9" fill="#000"/>
<text x="519.99" y="44.4" font-size="8.5" textLength="10.1" lengthAdjust="spacingAndGlyphs" transform="rotate(-90 520.45 44.4)">47</text>
<text x="523.59" y="80.3" font-size="8.19" textLength="20.2" lengthAdjust="spacingAndGlyphs" transform="rotate(-90 524.05 80.3)">VCC2</text>
<line x1="530.66" y1="23.75" x2="530.66" y2="51.39" stroke="#1c1c1c" stroke-width="0.85" stroke-linecap="butt"/>
<circle cx="530.66" cy="23.75" r="1.9" fill="#000"/>
<text x="529.21" y="44.4" font-size="8.5" textLength="10.1" lengthAdjust="spacingAndGlyphs" transform="rotate(-90 529.66 44.4)">89</text>
<text x="532.81" y="80.3" font-size="8.19" textLength="20.2" lengthAdjust="spacingAndGlyphs" transform="rotate(-90 533.26 80.3)">VCC3</text>
<line x1="539.88" y1="23.75" x2="539.88" y2="51.39" stroke="#1c1c1c" stroke-width="0.85" stroke-linecap="butt"/>
<circle cx="539.88" cy="23.75" r="1.9" fill="#000"/>
<text x="538.42" y="44.4" font-size="8.5" textLength="10.1" lengthAdjust="spacingAndGlyphs" transform="rotate(-90 538.88 44.4)">78</text>
<text x="542.02" y="80.3" font-size="8.19" textLength="20.2" lengthAdjust="spacingAndGlyphs" transform="rotate(-90 542.48 80.3)">VCC4</text>
<line x1="549.09" y1="23.75" x2="549.09" y2="51.39" stroke="#1c1c1c" stroke-width="0.85" stroke-linecap="butt"/>
<circle cx="549.09" cy="23.75" r="1.9" fill="#000"/>
<text x="547.64" y="44.4" font-size="8.5" textLength="10.1" lengthAdjust="spacingAndGlyphs" transform="rotate(-90 548.09 44.4)">57</text>
<text x="551.24" y="80.3" font-size="8.19" textLength="20.2" lengthAdjust="spacingAndGlyphs" transform="rotate(-90 551.69 80.3)">VCC5</text>
<line x1="503.01" y1="23.75" x2="585.95" y2="23.75" stroke="#1c1c1c" stroke-width="0.85" stroke-linecap="butt"/>
<line x1="585.95" y1="23.75" x2="585.95" y2="143.54" stroke="#1c1c1c" stroke-width="0.85" stroke-linecap="butt"/>
<line x1="576.74" y1="143.54" x2="585.95" y2="143.54" stroke="#1c1c1c" stroke-width="0.85" stroke-linecap="butt"/>
<line x1="576.74" y1="88.25" x2="585.95" y2="88.25" stroke="#1c1c1c" stroke-width="0.85" stroke-linecap="butt"/>
<circle cx="585.95" cy="88.25" r="1.9" fill="#000"/>
<line x1="576.74" y1="97.47" x2="585.95" y2="97.47" stroke="#1c1c1c" stroke-width="0.85" stroke-linecap="butt"/>
<circle cx="585.95" cy="97.47" r="1.9" fill="#000"/>
<line x1="503.01" y1="9" x2="503.01" y2="23.75" stroke="#1c1c1c" stroke-width="0.85" stroke-linecap="butt"/>
<polyline points="498.41,16.3 503.01,9 507.62,16.3" fill="none" stroke="#111" stroke-width="1.3" stroke-linejoin="miter" stroke-linecap="butt"/>
<text x="510.18" y="19.1" font-size="10.09" textLength="17.25" lengthAdjust="spacingAndGlyphs">VCC</text>
<line x1="503.01" y1="604.29" x2="503.01" y2="631.93" stroke="#1c1c1c" stroke-width="0.85" stroke-linecap="butt"/>
<circle cx="503.01" cy="631.93" r="1.9" fill="#000"/>
<text x="501.26" y="622.3" font-size="8.5" textLength="10.1" lengthAdjust="spacingAndGlyphs" transform="rotate(-90 501.71 622.3)">86</text>
<text x="505.16" y="595.4" font-size="8.19" textLength="20.2" lengthAdjust="spacingAndGlyphs" transform="rotate(-90 505.62 595.4)">GND0</text>
<line x1="512.23" y1="604.29" x2="512.23" y2="631.93" stroke="#1c1c1c" stroke-width="0.85" stroke-linecap="butt"/>
<circle cx="512.23" cy="631.93" r="1.9" fill="#000"/>
<text x="510.48" y="622.3" font-size="8.5" textLength="10.1" lengthAdjust="spacingAndGlyphs" transform="rotate(-90 510.93 622.3)">83</text>
<text x="514.38" y="595.4" font-size="8.19" textLength="20.2" lengthAdjust="spacingAndGlyphs" transform="rotate(-90 514.83 595.4)">GND1</text>
<line x1="521.45" y1="604.29" x2="521.45" y2="631.93" stroke="#1c1c1c" stroke-width="0.85" stroke-linecap="butt"/>
<circle cx="521.45" cy="631.93" r="1.9" fill="#000"/>
<text x="519.69" y="622.3" font-size="8.5" textLength="10.1" lengthAdjust="spacingAndGlyphs" transform="rotate(-90 520.15 622.3)">28</text>
<text x="523.59" y="595.4" font-size="8.19" textLength="20.2" lengthAdjust="spacingAndGlyphs" transform="rotate(-90 524.05 595.4)">GND2</text>
<line x1="530.66" y1="604.29" x2="530.66" y2="631.93" stroke="#1c1c1c" stroke-width="0.85" stroke-linecap="butt"/>
<circle cx="530.66" cy="631.93" r="1.9" fill="#000"/>
<text x="528.91" y="622.3" font-size="8.5" textLength="10.1" lengthAdjust="spacingAndGlyphs" transform="rotate(-90 529.36 622.3)">14</text>
<text x="532.81" y="595.4" font-size="8.19" textLength="20.2" lengthAdjust="spacingAndGlyphs" transform="rotate(-90 533.26 595.4)">GND3</text>
<line x1="539.88" y1="604.29" x2="539.88" y2="631.93" stroke="#1c1c1c" stroke-width="0.85" stroke-linecap="butt"/>
<circle cx="539.88" cy="631.93" r="1.9" fill="#000"/>
<text x="538.12" y="622.3" font-size="8.5" textLength="10.1" lengthAdjust="spacingAndGlyphs" transform="rotate(-90 538.58 622.3)">52</text>
<text x="542.02" y="595.4" font-size="8.19" textLength="20.2" lengthAdjust="spacingAndGlyphs" transform="rotate(-90 542.48 595.4)">GND4</text>
<line x1="549.09" y1="604.29" x2="549.09" y2="631.93" stroke="#1c1c1c" stroke-width="0.85" stroke-linecap="butt"/>
<text x="547.34" y="622.3" font-size="8.5" textLength="10.1" lengthAdjust="spacingAndGlyphs" transform="rotate(-90 547.79 622.3)">44</text>
<text x="551.24" y="595.4" font-size="8.19" textLength="20.2" lengthAdjust="spacingAndGlyphs" transform="rotate(-90 551.69 595.4)">GND5</text>
<line x1="475.37" y1="631.93" x2="549.09" y2="631.93" stroke="#1c1c1c" stroke-width="0.85" stroke-linecap="butt"/>
<line x1="475.37" y1="631.93" x2="539.88" y2="631.93" stroke="#1c1c1c" stroke-width="1.0" stroke-linecap="butt"/>
<line x1="475.37" y1="567.43" x2="475.37" y2="641.15" stroke="#1c1c1c" stroke-width="0.85" stroke-linecap="butt"/>
<circle cx="475.37" cy="631.93" r="1.9" fill="#000"/>
<line x1="468.37" y1="641.15" x2="482.37" y2="641.15" stroke="#111" stroke-width="1.2" stroke-linecap="butt"/>
<text x="474.47" y="650.75" font-size="10.17" textLength="17.4" lengthAdjust="spacingAndGlyphs" text-anchor="middle">GND</text>
<line x1="424.69" y1="152.75" x2="475.37" y2="152.75" stroke="#1c1c1c" stroke-width="0.85" stroke-linecap="butt"/>
<text x="428.68" y="151.16" font-size="10.09" textLength="40.25" lengthAdjust="spacingAndGlyphs">RTL_IRQ</text>
<line x1="466.16" y1="171.19" x2="466.16" y2="254.12" stroke="#1c1c1c" stroke-width="0.85" stroke-linecap="butt"/>
<line x1="459.16" y1="254.12" x2="473.16" y2="254.12" stroke="#111" stroke-width="1.2" stroke-linecap="butt"/>
<line x1="466.16" y1="171.19" x2="493.8" y2="171.19" stroke="#111" stroke-width="0.9" stroke-linecap="butt"/>
<line x1="466.16" y1="180.4" x2="493.8" y2="180.4" stroke="#111" stroke-width="0.9" stroke-linecap="butt"/>
<line x1="466.16" y1="189.62" x2="493.8" y2="189.62" stroke="#111" stroke-width="0.9" stroke-linecap="butt"/>
<line x1="466.16" y1="198.83" x2="493.8" y2="198.83" stroke="#111" stroke-width="0.9" stroke-linecap="butt"/>
<line x1="466.16" y1="208.05" x2="493.8" y2="208.05" stroke="#111" stroke-width="0.9" stroke-linecap="butt"/>
<line x1="466.16" y1="217.26" x2="493.8" y2="217.26" stroke="#111" stroke-width="0.9" stroke-linecap="butt"/>
<line x1="466.16" y1="235.69" x2="493.8" y2="235.69" stroke="#111" stroke-width="0.9" stroke-linecap="butt"/>
<circle cx="466.16" cy="180.4" r="1.9" fill="#000"/>
<circle cx="466.16" cy="189.62" r="1.9" fill="#000"/>
<circle cx="466.16" cy="198.83" r="1.9" fill="#000"/>
<circle cx="466.16" cy="208.05" r="1.9" fill="#000"/>
<circle cx="466.16" cy="217.26" r="1.9" fill="#000"/>
<circle cx="466.16" cy="235.69" r="1.9" fill="#000"/>
<line x1="424.69" y1="290.98" x2="475.37" y2="290.98" stroke="#1c1c1c" stroke-width="0.85" stroke-linecap="butt"/>
<text x="428.68" y="289.78" font-size="10.09" textLength="23" lengthAdjust="spacingAndGlyphs">EEDO</text>
<line x1="424.69" y1="300.19" x2="475.37" y2="300.19" stroke="#1c1c1c" stroke-width="0.85" stroke-linecap="butt"/>
<text x="428.68" y="299" font-size="10.09" textLength="23" lengthAdjust="spacingAndGlyphs">EEDI</text>
<line x1="424.69" y1="309.41" x2="475.37" y2="309.41" stroke="#1c1c1c" stroke-width="0.85" stroke-linecap="butt"/>
<text x="428.68" y="308.21" font-size="10.09" textLength="28.75" lengthAdjust="spacingAndGlyphs">EECLK</text>
<line x1="466.16" y1="318.62" x2="466.16" y2="456.85" stroke="#1c1c1c" stroke-width="0.85" stroke-linecap="butt"/>
<line x1="466.16" y1="318.62" x2="493.8" y2="318.62" stroke="#111" stroke-width="0.9" stroke-linecap="butt"/>
<line x1="466.16" y1="327.84" x2="493.8" y2="327.84" stroke="#111" stroke-width="0.9" stroke-linecap="butt"/>
<line x1="466.16" y1="337.06" x2="493.8" y2="337.06" stroke="#111" stroke-width="0.9" stroke-linecap="butt"/>
<line x1="466.16" y1="346.27" x2="493.8" y2="346.27" stroke="#111" stroke-width="0.9" stroke-linecap="butt"/>
<line x1="466.16" y1="355.49" x2="493.8" y2="355.49" stroke="#111" stroke-width="0.9" stroke-linecap="butt"/>
<line x1="466.16" y1="373.92" x2="493.8" y2="373.92" stroke="#111" stroke-width="0.9" stroke-linecap="butt"/>
<line x1="466.16" y1="383.13" x2="493.8" y2="383.13" stroke="#111" stroke-width="0.9" stroke-linecap="butt"/>
<line x1="466.16" y1="392.34" x2="493.8" y2="392.34" stroke="#111" stroke-width="0.9" stroke-linecap="butt"/>
<line x1="466.16" y1="401.56" x2="493.8" y2="401.56" stroke="#111" stroke-width="0.9" stroke-linecap="butt"/>
<line x1="466.16" y1="410.77" x2="493.8" y2="410.77" stroke="#111" stroke-width="0.9" stroke-linecap="butt"/>
<line x1="466.16" y1="419.99" x2="493.8" y2="419.99" stroke="#111" stroke-width="0.9" stroke-linecap="butt"/>
<line x1="466.16" y1="429.2" x2="493.8" y2="429.2" stroke="#111" stroke-width="0.9" stroke-linecap="butt"/>
<line x1="466.16" y1="438.42" x2="493.8" y2="438.42" stroke="#111" stroke-width="0.9" stroke-linecap="butt"/>
<line x1="466.16" y1="447.63" x2="493.8" y2="447.63" stroke="#111" stroke-width="0.9" stroke-linecap="butt"/>
<line x1="466.16" y1="456.85" x2="493.8" y2="456.85" stroke="#111" stroke-width="0.9" stroke-linecap="butt"/>
<circle cx="466.16" cy="327.84" r="1.9" fill="#000"/>
<circle cx="466.16" cy="337.06" r="1.9" fill="#000"/>
<circle cx="466.16" cy="346.27" r="1.9" fill="#000"/>
<circle cx="466.16" cy="355.49" r="1.9" fill="#000"/>
<circle cx="466.16" cy="364.7" r="1.9" fill="#000"/>
<circle cx="466.16" cy="373.92" r="1.9" fill="#000"/>
<circle cx="466.16" cy="383.13" r="1.9" fill="#000"/>
<circle cx="466.16" cy="392.34" r="1.9" fill="#000"/>
<circle cx="466.16" cy="401.56" r="1.9" fill="#000"/>
<circle cx="466.16" cy="410.77" r="1.9" fill="#000"/>
<circle cx="466.16" cy="419.99" r="1.9" fill="#000"/>
<circle cx="466.16" cy="429.2" r="1.9" fill="#000"/>
<circle cx="466.16" cy="438.42" r="1.9" fill="#000"/>
<circle cx="466.16" cy="447.63" r="1.9" fill="#000"/>
<polyline points="466.16,364.7 447.73,364.7 447.73,373.92" fill="none" stroke="#1c1c1c" stroke-width="0.85" stroke-linejoin="miter" stroke-linecap="butt"/>
<line x1="440.73" y1="373.92" x2="454.73" y2="373.92" stroke="#111" stroke-width="1.2" stroke-linecap="butt"/>
<text x="446.83" y="383.52" font-size="10.17" textLength="17.4" lengthAdjust="spacingAndGlyphs" text-anchor="middle">GND</text>
<line x1="424.69" y1="466.06" x2="475.37" y2="466.06" stroke="#1c1c1c" stroke-width="0.85" stroke-linecap="butt"/>
<text x="446.78" y="465.56" font-size="10.09" textLength="17.25" lengthAdjust="spacingAndGlyphs">VCC</text>
<line x1="424.69" y1="475.28" x2="475.37" y2="475.28" stroke="#1c1c1c" stroke-width="0.85" stroke-linecap="butt"/>
<text x="446.78" y="474.78" font-size="10.09" textLength="17.25" lengthAdjust="spacingAndGlyphs">A15</text>
<line x1="424.69" y1="484.5" x2="475.37" y2="484.5" stroke="#1c1c1c" stroke-width="0.85" stroke-linecap="butt"/>
<text x="446.78" y="484" font-size="10.09" textLength="11.5" lengthAdjust="spacingAndGlyphs">A7</text>
<line x1="424.69" y1="493.71" x2="475.37" y2="493.71" stroke="#1c1c1c" stroke-width="0.85" stroke-linecap="butt"/>
<text x="446.78" y="493.21" font-size="10.09" textLength="11.5" lengthAdjust="spacingAndGlyphs">A6</text>
<line x1="424.69" y1="502.93" x2="475.37" y2="502.93" stroke="#1c1c1c" stroke-width="0.85" stroke-linecap="butt"/>
<text x="446.78" y="502.43" font-size="10.09" textLength="11.5" lengthAdjust="spacingAndGlyphs">A5</text>
<line x1="424.69" y1="512.14" x2="475.37" y2="512.14" stroke="#1c1c1c" stroke-width="0.85" stroke-linecap="butt"/>
<text x="446.78" y="511.64" font-size="10.09" textLength="11.5" lengthAdjust="spacingAndGlyphs">A4</text>
<line x1="424.69" y1="521.36" x2="475.37" y2="521.36" stroke="#1c1c1c" stroke-width="0.85" stroke-linecap="butt"/>
<text x="446.78" y="520.86" font-size="10.09" textLength="11.5" lengthAdjust="spacingAndGlyphs">A3</text>
<line x1="424.69" y1="530.57" x2="475.37" y2="530.57" stroke="#1c1c1c" stroke-width="0.85" stroke-linecap="butt"/>
<text x="446.78" y="530.07" font-size="10.09" textLength="11.5" lengthAdjust="spacingAndGlyphs">A2</text>
<line x1="424.69" y1="539.78" x2="475.37" y2="539.78" stroke="#1c1c1c" stroke-width="0.85" stroke-linecap="butt"/>
<text x="446.78" y="539.28" font-size="10.09" textLength="11.5" lengthAdjust="spacingAndGlyphs">A1</text>
<line x1="424.69" y1="549" x2="475.37" y2="549" stroke="#1c1c1c" stroke-width="0.85" stroke-linecap="butt"/>
<text x="446.78" y="548.5" font-size="10.09" textLength="11.5" lengthAdjust="spacingAndGlyphs">A0</text>
<line x1="576.74" y1="115.89" x2="668.88" y2="115.89" stroke="#1c1c1c" stroke-width="0.85" stroke-linecap="butt"/>
<text x="638.98" y="114.69" font-size="10.09" textLength="23" lengthAdjust="spacingAndGlyphs">EECS</text>
<polyline points="576.74,134.32 595.16,134.32 595.16,161.97" fill="none" stroke="#1c1c1c" stroke-width="0.85" stroke-linejoin="miter" stroke-linecap="butt"/>
<circle cx="595.16" cy="152.75" r="1.9" fill="#000"/>
<line x1="588.16" y1="161.97" x2="602.16" y2="161.97" stroke="#111" stroke-width="1.2" stroke-linecap="butt"/>
<polyline points="576.74,152.75 645.85,152.75 645.85,208.05 576.74,208.05" fill="none" stroke="#1c1c1c" stroke-width="0.85" stroke-linejoin="miter" stroke-linecap="butt"/>
<circle cx="645.85" cy="171.19" r="1.9" fill="#000"/>
<line x1="576.74" y1="171.19" x2="645.85" y2="171.19" stroke="#1c1c1c" stroke-width="0.85" stroke-linecap="butt"/>
<circle cx="585.95" cy="171.19" r="1.9" fill="#000"/>
<circle cx="585.95" cy="208.05" r="1.9" fill="#000"/>
<line x1="585.95" y1="171.19" x2="607" y2="171.19" stroke="#111" stroke-width="1.1" stroke-linecap="butt"/>
<line x1="585.95" y1="208.05" x2="607" y2="208.05" stroke="#111" stroke-width="1.1" stroke-linecap="butt"/>
<rect x="618.7" y="169.19" width="4.3" height="4" fill="#fff" stroke="#1c1c1c" stroke-width="0"/>
<rect x="617.35" y="163.59" width="2.7" height="15.2" fill="#000" stroke="#1c1c1c" stroke-width="0"/>
<rect x="621.65" y="163.59" width="2.7" height="15.2" fill="#000" stroke="#1c1c1c" stroke-width="0"/>
<rect x="618.7" y="206.05" width="4.3" height="4" fill="#fff" stroke="#1c1c1c" stroke-width="0"/>
<rect x="617.35" y="200.45" width="2.7" height="15.2" fill="#000" stroke="#1c1c1c" stroke-width="0"/>
<rect x="621.65" y="200.45" width="2.7" height="15.2" fill="#000" stroke="#1c1c1c" stroke-width="0"/>
<text x="625.8" y="170.4" font-size="9.86" textLength="16.8" lengthAdjust="spacingAndGlyphs">C11</text>
<text x="625.8" y="205.9" font-size="9.86" textLength="11.2" lengthAdjust="spacingAndGlyphs">C3</text>
<line x1="585.95" y1="171.19" x2="585.95" y2="181.12" stroke="#1c1c1c" stroke-width="0.85" stroke-linecap="butt"/>
<line x1="585.95" y1="198.12" x2="585.95" y2="208.05" stroke="#1c1c1c" stroke-width="0.85" stroke-linecap="butt"/>
<line x1="576.15" y1="181.12" x2="595.75" y2="181.12" stroke="#000" stroke-width="1.3" stroke-linecap="butt"/>
<line x1="576.15" y1="198.12" x2="595.75" y2="198.12" stroke="#000" stroke-width="1.3" stroke-linecap="butt"/>
<rect x="576.55" y="184.31" width="18.8" height="10.6" fill="none" stroke="#000" stroke-width="1.5"/>
<text x="584.75" y="179.4" font-size="8.5" textLength="5.05" lengthAdjust="spacingAndGlyphs" transform="rotate(-90 585.2 179.4)">2</text>
<text x="584.75" y="206.3" font-size="8.5" textLength="5.05" lengthAdjust="spacingAndGlyphs" transform="rotate(-90 585.2 206.3)">1</text>
<text x="599.78" y="186.8" font-size="7.97" textLength="9.4" lengthAdjust="spacingAndGlyphs" class="t">X1</text>
<text x="599.78" y="197.4" font-size="7.97" textLength="23.5" lengthAdjust="spacingAndGlyphs" class="t">20MHz</text>
<polyline points="576.74,226.47 585.95,226.47 585.95,217.26 668.88,217.26" fill="none" stroke="#1c1c1c" stroke-width="0.85" stroke-linejoin="miter" stroke-linecap="butt"/>
<text x="640.68" y="217.16" font-size="10.09" textLength="17.25" lengthAdjust="spacingAndGlyphs">LTX</text>
<polyline points="576.74,235.69 622.81,235.69 622.81,244.91" fill="none" stroke="#1c1c1c" stroke-width="0.85" stroke-linejoin="miter" stroke-linecap="butt"/>
<line x1="576.74" y1="244.91" x2="668.88" y2="244.91" stroke="#1c1c1c" stroke-width="0.85" stroke-linecap="butt"/>
<circle cx="622.81" cy="244.91" r="1.9" fill="#000"/>
<rect x="590.4" y="232.69" width="28.4" height="6" fill="#fff" stroke="#111" stroke-width="1.0"/>
<rect x="590.4" y="241.91" width="28.4" height="6" fill="#fff" stroke="#111" stroke-width="1.0"/>
<text x="589.88" y="230" font-size="7.97" textLength="32.9" lengthAdjust="spacingAndGlyphs" class="t">R5 820R</text>
<text x="589.88" y="254.6" font-size="7.97" textLength="32.9" lengthAdjust="spacingAndGlyphs" class="t">R5*820R</text>
<text x="641.48" y="244.81" font-size="10.09" textLength="23" lengthAdjust="spacingAndGlyphs">LINK</text>
<polyline points="668.88,258.73 595.16,258.73 595.16,272.55" fill="none" stroke="#1c1c1c" stroke-width="0.85" stroke-linejoin="miter" stroke-linecap="butt"/>
<text x="640.68" y="258.03" font-size="10.09" textLength="23" lengthAdjust="spacingAndGlyphs">TPI+</text>
<line x1="576.74" y1="272.55" x2="632.02" y2="272.55" stroke="#1c1c1c" stroke-width="0.85" stroke-linecap="butt"/>
<circle cx="595.16" cy="272.55" r="1.9" fill="#000"/>
<line x1="632.02" y1="272.55" x2="632.02" y2="281.76" stroke="#1c1c1c" stroke-width="0.85" stroke-linecap="butt"/>
<circle cx="632.02" cy="281.76" r="1.9" fill="#000"/>
<rect x="604" y="269.65" width="19.4" height="5.8" fill="#fff" stroke="#111" stroke-width="1.0"/>
<text x="600.26" y="267.3" font-size="8.27" textLength="34.3" lengthAdjust="spacingAndGlyphs" class="t">R2 100R</text>
<line x1="576.74" y1="281.76" x2="668.88" y2="281.76" stroke="#1c1c1c" stroke-width="0.85" stroke-linecap="butt"/>
<text x="641.48" y="281.46" font-size="10.09" textLength="23" lengthAdjust="spacingAndGlyphs">TPI-</text>
<line x1="576.74" y1="290.98" x2="668.88" y2="290.98" stroke="#1c1c1c" stroke-width="0.85" stroke-linecap="butt"/>
<text x="641.48" y="290.68" font-size="10.09" textLength="23" lengthAdjust="spacingAndGlyphs">TPO+</text>
<line x1="576.74" y1="300.19" x2="668.88" y2="300.19" stroke="#1c1c1c" stroke-width="0.85" stroke-linecap="butt"/>
<text x="641.48" y="299.89" font-size="10.09" textLength="23" lengthAdjust="spacingAndGlyphs">TPO-</text>
<line x1="576.74" y1="373.92" x2="668.88" y2="373.92" stroke="#1c1c1c" stroke-width="0.85" stroke-linecap="butt"/>
<text x="645.18" y="373.62" font-size="10.09" textLength="17.25" lengthAdjust="spacingAndGlyphs">/RD</text>
<line x1="576.74" y1="383.13" x2="668.88" y2="383.13" stroke="#1c1c1c" stroke-width="0.85" stroke-linecap="butt"/>
<text x="645.18" y="382.83" font-size="10.09" textLength="17.25" lengthAdjust="spacingAndGlyphs">/WR</text>
<line x1="576.74" y1="392.34" x2="668.88" y2="392.34" stroke="#1c1c1c" stroke-width="0.85" stroke-linecap="butt"/>
<text x="623.78" y="392.04" font-size="10.09" textLength="40.25" lengthAdjust="spacingAndGlyphs">RTL_RST</text>
<line x1="576.74" y1="484.5" x2="668.88" y2="484.5" stroke="#1c1c1c" stroke-width="0.85" stroke-linecap="butt"/>
<text x="654.38" y="484.8" font-size="10.09" textLength="11.5" lengthAdjust="spacingAndGlyphs">D7</text>
<line x1="576.74" y1="493.71" x2="668.88" y2="493.71" stroke="#1c1c1c" stroke-width="0.85" stroke-linecap="butt"/>
<text x="654.38" y="494.01" font-size="10.09" textLength="11.5" lengthAdjust="spacingAndGlyphs">D6</text>
<line x1="576.74" y1="502.93" x2="668.88" y2="502.93" stroke="#1c1c1c" stroke-width="0.85" stroke-linecap="butt"/>
<text x="654.38" y="503.23" font-size="10.09" textLength="11.5" lengthAdjust="spacingAndGlyphs">D5</text>
<line x1="576.74" y1="512.14" x2="668.88" y2="512.14" stroke="#1c1c1c" stroke-width="0.85" stroke-linecap="butt"/>
<text x="654.38" y="512.44" font-size="10.09" textLength="11.5" lengthAdjust="spacingAndGlyphs">D4</text>
<line x1="576.74" y1="521.36" x2="668.88" y2="521.36" stroke="#1c1c1c" stroke-width="0.85" stroke-linecap="butt"/>
<text x="654.38" y="521.65" font-size="10.09" textLength="11.5" lengthAdjust="spacingAndGlyphs">D3</text>
<line x1="576.74" y1="530.57" x2="668.88" y2="530.57" stroke="#1c1c1c" stroke-width="0.85" stroke-linecap="butt"/>
<text x="654.38" y="530.87" font-size="10.09" textLength="11.5" lengthAdjust="spacingAndGlyphs">D2</text>
<line x1="576.74" y1="539.78" x2="668.88" y2="539.78" stroke="#1c1c1c" stroke-width="0.85" stroke-linecap="butt"/>
<text x="654.38" y="540.08" font-size="10.09" textLength="11.5" lengthAdjust="spacingAndGlyphs">D1</text>
<line x1="576.74" y1="549" x2="668.88" y2="549" stroke="#1c1c1c" stroke-width="0.85" stroke-linecap="butt"/>
<text x="654.38" y="549.3" font-size="10.09" textLength="11.5" lengthAdjust="spacingAndGlyphs">D0</text>
<polyline points="668.88,659.58 558.31,659.58 558.31,705.65" fill="none" stroke="#1c1c1c" stroke-width="0.85" stroke-linejoin="miter" stroke-linecap="butt"/>
<circle cx="558.31" cy="687.23" r="1.9" fill="#000"/>
<text x="642.88" y="656.98" font-size="10.09" textLength="23" lengthAdjust="spacingAndGlyphs">/RST</text>
<line x1="558.31" y1="687.23" x2="576.74" y2="687.23" stroke="#1c1c1c" stroke-width="0.85" stroke-linecap="butt"/>
<line x1="424.69" y1="705.65" x2="576.74" y2="705.65" stroke="#1c1c1c" stroke-width="0.85" stroke-linecap="butt"/>
<rect x="475.7" y="702.65" width="28" height="6" fill="#fff" stroke="#111" stroke-width="1.0"/>
<text x="428.48" y="703.25" font-size="10.09" textLength="40.25" lengthAdjust="spacingAndGlyphs">PIN_RST</text>
<text x="475.31" y="717.2" font-size="7.36" textLength="30.1" lengthAdjust="spacingAndGlyphs" class="t">R1  820</text>
<path d="M576.74,678.01 A18.43,18.43 0 0 1 576.74,714.87 Z" fill="#fff" stroke="#000" stroke-width="1.7"/>
<circle cx="599.56" cy="696.44" r="3.2" fill="#fff" stroke="#222" stroke-width="1.1"/>
<line x1="602.66" y1="696.44" x2="668.88" y2="696.44" stroke="#1c1c1c" stroke-width="0.85" stroke-linecap="butt"/>
<text x="592.08" y="679.8" font-size="10.17" textLength="23.2" lengthAdjust="spacingAndGlyphs">IC2B</text>
<text x="594.06" y="714.5" font-size="10.47" textLength="42" lengthAdjust="spacingAndGlyphs">74LS00D</text>
<text x="562.35" y="685.43" font-size="8.5" textLength="5.05" lengthAdjust="spacingAndGlyphs">4</text>
<text x="562.35" y="703.86" font-size="8.5" textLength="5.05" lengthAdjust="spacingAndGlyphs">5</text>
<text x="602.85" y="694.84" font-size="8.5" textLength="5.05" lengthAdjust="spacingAndGlyphs">6</text>
<text x="624.08" y="693.84" font-size="10.09" textLength="40.25" lengthAdjust="spacingAndGlyphs">RTL_RST</text>
<line x1="424.69" y1="751.73" x2="477.86" y2="751.73" stroke="#1c1c1c" stroke-width="0.85" stroke-linecap="butt"/>
<circle cx="477.86" cy="751.73" r="1.9" fill="#000"/>
<polyline points="496.29,742.51 477.86,742.51 477.86,760.94 496.29,760.94" fill="none" stroke="#1c1c1c" stroke-width="0.85" stroke-linejoin="miter" stroke-linecap="butt"/>
<path d="M496.29,733.3 A18.43,18.43 0 0 1 496.29,770.16 Z" fill="#fff" stroke="#000" stroke-width="1.7"/>
<circle cx="519.12" cy="751.73" r="3.2" fill="#fff" stroke="#222" stroke-width="1.1"/>
<line x1="522.22" y1="751.73" x2="668.88" y2="751.73" stroke="#1c1c1c" stroke-width="0.85" stroke-linecap="butt"/>
<text x="513.48" y="739.6" font-size="10.17" textLength="23.2" lengthAdjust="spacingAndGlyphs">IC2A</text>
<text x="513.46" y="769.8" font-size="10.47" textLength="42" lengthAdjust="spacingAndGlyphs">74LS00D</text>
<text x="433.38" y="749.13" font-size="10.09" textLength="40.25" lengthAdjust="spacingAndGlyphs">RTL_IRQ</text>
<text x="481.85" y="740.91" font-size="8.5" textLength="5.05" lengthAdjust="spacingAndGlyphs">1</text>
<text x="481.85" y="759.34" font-size="8.5" textLength="5.05" lengthAdjust="spacingAndGlyphs">2</text>
<text x="522.55" y="749.93" font-size="8.5" textLength="5.05" lengthAdjust="spacingAndGlyphs">3</text>
<text x="649.68" y="750.13" font-size="10.09" textLength="17.25" lengthAdjust="spacingAndGlyphs">PE5</text>
<text x="672.38" y="49.3" font-size="10.09" textLength="17.25" lengthAdjust="spacingAndGlyphs">VCC</text>
<line x1="668.88" y1="51.39" x2="779.47" y2="51.39" stroke="#1c1c1c" stroke-width="0.85" stroke-linecap="butt"/>
<circle cx="779.47" cy="51.39" r="1.9" fill="#000"/>
<line x1="779.47" y1="23.75" x2="779.47" y2="106.68" stroke="#1c1c1c" stroke-width="0.85" stroke-linecap="butt"/>
<polyline points="774.76,31.15 779.47,23.75 784.17,31.15" fill="none" stroke="#111" stroke-width="1.1" stroke-linejoin="miter" stroke-linecap="butt"/>
<text x="771.18" y="19.9" font-size="10.09" textLength="17.25" lengthAdjust="spacingAndGlyphs">VCC</text>
<line x1="668.88" y1="69.82" x2="779.47" y2="69.82" stroke="#1c1c1c" stroke-width="0.85" stroke-linecap="butt"/>
<circle cx="779.47" cy="69.82" r="1.9" fill="#000"/>
<rect x="728.2" y="66.77" width="28.6" height="6.1" fill="#fff" stroke="#111" stroke-width="1.0"/>
<text x="672.98" y="67.82" font-size="10.09" textLength="23" lengthAdjust="spacingAndGlyphs">UALE</text>
<text x="728.68" y="65.12" font-size="7.97" textLength="28.2" lengthAdjust="spacingAndGlyphs" class="t">4k7 R9</text>
<line x1="668.88" y1="88.25" x2="779.47" y2="88.25" stroke="#1c1c1c" stroke-width="0.85" stroke-linecap="butt"/>
<circle cx="779.47" cy="88.25" r="1.9" fill="#000"/>
<rect x="728.2" y="85.2" width="28.6" height="6.1" fill="#fff" stroke="#111" stroke-width="1.0"/>
<text x="672.98" y="86.25" font-size="10.09" textLength="17.25" lengthAdjust="spacingAndGlyphs">/WR</text>
<text x="728.68" y="83.55" font-size="7.97" textLength="28.2" lengthAdjust="spacingAndGlyphs" class="t">4k7 R8</text>
<line x1="668.88" y1="106.68" x2="779.47" y2="106.68" stroke="#1c1c1c" stroke-width="0.85" stroke-linecap="butt"/>
<rect x="728.2" y="103.63" width="28.6" height="6.1" fill="#fff" stroke="#111" stroke-width="1.0"/>
<text x="672.98" y="104.68" font-size="10.09" textLength="17.25" lengthAdjust="spacingAndGlyphs">/RD</text>
<text x="729.68" y="101.98" font-size="7.97" textLength="28.2" lengthAdjust="spacingAndGlyphs" class="t">4k7 R7</text>
<rect x="714.96" y="134.32" width="55.29" height="110.58" fill="none" stroke="#000" stroke-width="1.6"/>
<circle cx="711.4" cy="143.54" r="3.2" fill="#fff" stroke="#222" stroke-width="1.1"/>
<polyline points="708.51,143.54 696.53,143.54 696.53,125.11 788.68,125.11 788.68,152.75" fill="none" stroke="#1c1c1c" stroke-width="0.85" stroke-linejoin="miter" stroke-linecap="butt"/>
<line x1="781.68" y1="152.75" x2="795.68" y2="152.75" stroke="#111" stroke-width="1.2" stroke-linecap="butt"/>
<text x="787.78" y="162.35" font-size="10.17" textLength="17.4" lengthAdjust="spacingAndGlyphs" text-anchor="middle">GND</text>
<text x="701.65" y="142.74" font-size="8.5" textLength="5.05" lengthAdjust="spacingAndGlyphs">1</text>
<line x1="668.88" y1="152.75" x2="714.96" y2="152.75" stroke="#1c1c1c" stroke-width="0.85" stroke-linecap="butt"/>
<text x="677.78" y="151.95" font-size="10.09" textLength="17.25" lengthAdjust="spacingAndGlyphs">ALE</text>
<text x="697.35" y="151.95" font-size="8.5" textLength="10.1" lengthAdjust="spacingAndGlyphs">11</text>
<text x="722.75" y="146.31" font-size="8.42" textLength="10" lengthAdjust="spacingAndGlyphs">OC</text>
<text x="722.75" y="155.53" font-size="8.42" textLength="5" lengthAdjust="spacingAndGlyphs">C</text>
<line x1="668.88" y1="171.19" x2="714.96" y2="171.19" stroke="#1c1c1c" stroke-width="0.85" stroke-linecap="butt"/>
<line x1="770.25" y1="171.19" x2="825.54" y2="171.19" stroke="#1c1c1c" stroke-width="0.85" stroke-linecap="butt"/>
<text x="677.78" y="171.49" font-size="10.09" textLength="11.5" lengthAdjust="spacingAndGlyphs">D0</text>
<text x="700.25" y="170.28" font-size="8.5" textLength="5.05" lengthAdjust="spacingAndGlyphs">9</text>
<text x="722.75" y="173.96" font-size="8.42" textLength="10" lengthAdjust="spacingAndGlyphs">8D</text>
<text x="750.95" y="173.96" font-size="8.42" textLength="10" lengthAdjust="spacingAndGlyphs">8Q</text>
<text x="777.75" y="170.28" font-size="8.5" textLength="10.1" lengthAdjust="spacingAndGlyphs">12</text>
<text x="797.18" y="171.49" font-size="10.09" textLength="11.5" lengthAdjust="spacingAndGlyphs">A0</text>
<line x1="668.88" y1="180.4" x2="714.96" y2="180.4" stroke="#1c1c1c" stroke-width="0.85" stroke-linecap="butt"/>
<line x1="770.25" y1="180.4" x2="825.54" y2="180.4" stroke="#1c1c1c" stroke-width="0.85" stroke-linecap="butt"/>
<text x="677.78" y="180.7" font-size="10.09" textLength="11.5" lengthAdjust="spacingAndGlyphs">D1</text>
<text x="700.25" y="179.5" font-size="8.5" textLength="5.05" lengthAdjust="spacingAndGlyphs">8</text>
<text x="722.75" y="183.18" font-size="8.42" textLength="10" lengthAdjust="spacingAndGlyphs">7D</text>
<text x="750.95" y="183.18" font-size="8.42" textLength="10" lengthAdjust="spacingAndGlyphs">7Q</text>
<text x="777.75" y="179.5" font-size="8.5" textLength="10.1" lengthAdjust="spacingAndGlyphs">13</text>
<text x="797.18" y="180.7" font-size="10.09" textLength="11.5" lengthAdjust="spacingAndGlyphs">A1</text>
<line x1="668.88" y1="189.62" x2="714.96" y2="189.62" stroke="#1c1c1c" stroke-width="0.85" stroke-linecap="butt"/>
<line x1="770.25" y1="189.62" x2="825.54" y2="189.62" stroke="#1c1c1c" stroke-width="0.85" stroke-linecap="butt"/>
<text x="677.78" y="189.92" font-size="10.09" textLength="11.5" lengthAdjust="spacingAndGlyphs">D2</text>
<text x="700.25" y="188.72" font-size="8.5" textLength="5.05" lengthAdjust="spacingAndGlyphs">7</text>
<text x="722.75" y="192.39" font-size="8.42" textLength="10" lengthAdjust="spacingAndGlyphs">6D</text>
<text x="750.95" y="192.39" font-size="8.42" textLength="10" lengthAdjust="spacingAndGlyphs">6Q</text>
<text x="777.75" y="188.72" font-size="8.5" textLength="10.1" lengthAdjust="spacingAndGlyphs">14</text>
<text x="797.18" y="189.92" font-size="10.09" textLength="11.5" lengthAdjust="spacingAndGlyphs">A2</text>
<line x1="668.88" y1="198.83" x2="714.96" y2="198.83" stroke="#1c1c1c" stroke-width="0.85" stroke-linecap="butt"/>
<line x1="770.25" y1="198.83" x2="825.54" y2="198.83" stroke="#1c1c1c" stroke-width="0.85" stroke-linecap="butt"/>
<text x="677.78" y="199.13" font-size="10.09" textLength="11.5" lengthAdjust="spacingAndGlyphs">D3</text>
<text x="700.25" y="197.93" font-size="8.5" textLength="5.05" lengthAdjust="spacingAndGlyphs">6</text>
<text x="722.75" y="201.6" font-size="8.42" textLength="10" lengthAdjust="spacingAndGlyphs">5D</text>
<text x="750.95" y="201.6" font-size="8.42" textLength="10" lengthAdjust="spacingAndGlyphs">5Q</text>
<text x="777.75" y="197.93" font-size="8.5" textLength="10.1" lengthAdjust="spacingAndGlyphs">15</text>
<text x="797.18" y="199.13" font-size="10.09" textLength="11.5" lengthAdjust="spacingAndGlyphs">A3</text>
<line x1="668.88" y1="208.05" x2="714.96" y2="208.05" stroke="#1c1c1c" stroke-width="0.85" stroke-linecap="butt"/>
<line x1="770.25" y1="208.05" x2="825.54" y2="208.05" stroke="#1c1c1c" stroke-width="0.85" stroke-linecap="butt"/>
<text x="677.78" y="208.35" font-size="10.09" textLength="11.5" lengthAdjust="spacingAndGlyphs">D4</text>
<text x="700.25" y="207.15" font-size="8.5" textLength="5.05" lengthAdjust="spacingAndGlyphs">5</text>
<text x="722.75" y="210.82" font-size="8.42" textLength="10" lengthAdjust="spacingAndGlyphs">4D</text>
<text x="750.95" y="210.82" font-size="8.42" textLength="10" lengthAdjust="spacingAndGlyphs">4Q</text>
<text x="777.75" y="207.15" font-size="8.5" textLength="10.1" lengthAdjust="spacingAndGlyphs">16</text>
<text x="797.18" y="208.35" font-size="10.09" textLength="11.5" lengthAdjust="spacingAndGlyphs">A4</text>
<line x1="668.88" y1="217.26" x2="714.96" y2="217.26" stroke="#1c1c1c" stroke-width="0.85" stroke-linecap="butt"/>
<line x1="770.25" y1="217.26" x2="825.54" y2="217.26" stroke="#1c1c1c" stroke-width="0.85" stroke-linecap="butt"/>
<text x="677.78" y="217.56" font-size="10.09" textLength="11.5" lengthAdjust="spacingAndGlyphs">D5</text>
<text x="700.25" y="216.36" font-size="8.5" textLength="5.05" lengthAdjust="spacingAndGlyphs">4</text>
<text x="722.75" y="220.03" font-size="8.42" textLength="10" lengthAdjust="spacingAndGlyphs">3D</text>
<text x="750.95" y="220.03" font-size="8.42" textLength="10" lengthAdjust="spacingAndGlyphs">3Q</text>
<text x="777.75" y="216.36" font-size="8.5" textLength="10.1" lengthAdjust="spacingAndGlyphs">17</text>
<text x="797.18" y="217.56" font-size="10.09" textLength="11.5" lengthAdjust="spacingAndGlyphs">A5</text>
<line x1="668.88" y1="226.47" x2="714.96" y2="226.47" stroke="#1c1c1c" stroke-width="0.85" stroke-linecap="butt"/>
<line x1="770.25" y1="226.47" x2="825.54" y2="226.47" stroke="#1c1c1c" stroke-width="0.85" stroke-linecap="butt"/>
<text x="677.78" y="226.78" font-size="10.09" textLength="11.5" lengthAdjust="spacingAndGlyphs">D6</text>
<text x="700.25" y="225.57" font-size="8.5" textLength="5.05" lengthAdjust="spacingAndGlyphs">3</text>
<text x="722.75" y="229.25" font-size="8.42" textLength="10" lengthAdjust="spacingAndGlyphs">2D</text>
<text x="750.95" y="229.25" font-size="8.42" textLength="10" lengthAdjust="spacingAndGlyphs">2Q</text>
<text x="777.75" y="225.57" font-size="8.5" textLength="10.1" lengthAdjust="spacingAndGlyphs">18</text>
<text x="797.18" y="226.78" font-size="10.09" textLength="11.5" lengthAdjust="spacingAndGlyphs">A6</text>
<line x1="668.88" y1="235.69" x2="714.96" y2="235.69" stroke="#1c1c1c" stroke-width="0.85" stroke-linecap="butt"/>
<line x1="770.25" y1="235.69" x2="825.54" y2="235.69" stroke="#1c1c1c" stroke-width="0.85" stroke-linecap="butt"/>
<text x="677.78" y="235.99" font-size="10.09" textLength="11.5" lengthAdjust="spacingAndGlyphs">D7</text>
<text x="700.25" y="234.79" font-size="8.5" textLength="5.05" lengthAdjust="spacingAndGlyphs">2</text>
<text x="722.75" y="238.47" font-size="8.42" textLength="10" lengthAdjust="spacingAndGlyphs">1D</text>
<text x="750.95" y="238.47" font-size="8.42" textLength="10" lengthAdjust="spacingAndGlyphs">1Q</text>
<text x="777.75" y="234.79" font-size="8.5" textLength="10.1" lengthAdjust="spacingAndGlyphs">19</text>
<text x="797.18" y="235.99" font-size="10.09" textLength="11.5" lengthAdjust="spacingAndGlyphs">A7</text>
<text x="713.91" y="260.8" font-size="13.05" textLength="23.1" lengthAdjust="spacingAndGlyphs" class="m">IC7</text>
<text x="715.84" y="277.1" font-size="14.26" textLength="68" lengthAdjust="spacingAndGlyphs" class="m">74HCT573</text>
<rect x="871.62" y="88.25" width="64.5" height="184.3" fill="none" stroke="#000" stroke-width="1.5"/>
<text x="893.14" y="86.4" font-size="14.19" textLength="42.25" lengthAdjust="spacingAndGlyphs" class="m">62256</text>
<text x="870.09" y="284.2" font-size="9.95" textLength="22.64" lengthAdjust="spacingAndGlyphs">IC15</text>
<line x1="825.54" y1="97.47" x2="871.62" y2="97.47" stroke="#1c1c1c" stroke-width="0.85" stroke-linecap="butt"/>
<text x="828.78" y="97.77" font-size="10.09" textLength="11.5" lengthAdjust="spacingAndGlyphs">A0</text>
<text x="862.65" y="96.56" font-size="8.5" textLength="10.1" lengthAdjust="spacingAndGlyphs" text-anchor="end">10</text>
<text x="879.17" y="100.14" font-size="8.12" textLength="9.6" lengthAdjust="spacingAndGlyphs" class="t">A0</text>
<line x1="825.54" y1="106.68" x2="871.62" y2="106.68" stroke="#1c1c1c" stroke-width="0.85" stroke-linecap="butt"/>
<text x="828.78" y="106.98" font-size="10.09" textLength="11.5" lengthAdjust="spacingAndGlyphs">A1</text>
<text x="862.65" y="105.78" font-size="8.5" textLength="5.05" lengthAdjust="spacingAndGlyphs" text-anchor="end">9</text>
<text x="879.17" y="109.36" font-size="8.12" textLength="9.6" lengthAdjust="spacingAndGlyphs" class="t">A1</text>
<line x1="825.54" y1="115.89" x2="871.62" y2="115.89" stroke="#1c1c1c" stroke-width="0.85" stroke-linecap="butt"/>
<text x="828.78" y="116.19" font-size="10.09" textLength="11.5" lengthAdjust="spacingAndGlyphs">A2</text>
<text x="862.65" y="114.99" font-size="8.5" textLength="5.05" lengthAdjust="spacingAndGlyphs" text-anchor="end">8</text>
<text x="879.17" y="118.57" font-size="8.12" textLength="9.6" lengthAdjust="spacingAndGlyphs" class="t">A2</text>
<line x1="825.54" y1="125.11" x2="871.62" y2="125.11" stroke="#1c1c1c" stroke-width="0.85" stroke-linecap="butt"/>
<text x="828.78" y="125.41" font-size="10.09" textLength="11.5" lengthAdjust="spacingAndGlyphs">A3</text>
<text x="862.65" y="124.21" font-size="8.5" textLength="5.05" lengthAdjust="spacingAndGlyphs" text-anchor="end">7</text>
<text x="879.17" y="127.78" font-size="8.12" textLength="9.6" lengthAdjust="spacingAndGlyphs" class="t">A3</text>
<line x1="825.54" y1="134.32" x2="871.62" y2="134.32" stroke="#1c1c1c" stroke-width="0.85" stroke-linecap="butt"/>
<text x="828.78" y="134.62" font-size="10.09" textLength="11.5" lengthAdjust="spacingAndGlyphs">A4</text>
<text x="862.65" y="133.42" font-size="8.5" textLength="5.05" lengthAdjust="spacingAndGlyphs" text-anchor="end">6</text>
<text x="879.17" y="137" font-size="8.12" textLength="9.6" lengthAdjust="spacingAndGlyphs" class="t">A4</text>
<line x1="825.54" y1="143.54" x2="871.62" y2="143.54" stroke="#1c1c1c" stroke-width="0.85" stroke-linecap="butt"/>
<text x="828.78" y="143.84" font-size="10.09" textLength="11.5" lengthAdjust="spacingAndGlyphs">A5</text>
<text x="862.65" y="142.64" font-size="8.5" textLength="5.05" lengthAdjust="spacingAndGlyphs" text-anchor="end">5</text>
<text x="879.17" y="146.22" font-size="8.12" textLength="9.6" lengthAdjust="spacingAndGlyphs" class="t">A5</text>
<line x1="825.54" y1="152.75" x2="871.62" y2="152.75" stroke="#1c1c1c" stroke-width="0.85" stroke-linecap="butt"/>
<text x="828.78" y="153.06" font-size="10.09" textLength="11.5" lengthAdjust="spacingAndGlyphs">A6</text>
<text x="862.65" y="151.85" font-size="8.5" textLength="5.05" lengthAdjust="spacingAndGlyphs" text-anchor="end">4</text>
<text x="879.17" y="155.43" font-size="8.12" textLength="9.6" lengthAdjust="spacingAndGlyphs" class="t">A6</text>
<line x1="825.54" y1="161.97" x2="871.62" y2="161.97" stroke="#1c1c1c" stroke-width="0.85" stroke-linecap="butt"/>
<text x="828.78" y="162.27" font-size="10.09" textLength="11.5" lengthAdjust="spacingAndGlyphs">A7</text>
<text x="862.65" y="161.07" font-size="8.5" textLength="5.05" lengthAdjust="spacingAndGlyphs" text-anchor="end">3</text>
<text x="879.17" y="164.65" font-size="8.12" textLength="9.6" lengthAdjust="spacingAndGlyphs" class="t">A7</text>
<line x1="825.54" y1="171.19" x2="871.62" y2="171.19" stroke="#1c1c1c" stroke-width="0.85" stroke-linecap="butt"/>
<text x="828.78" y="171.49" font-size="10.09" textLength="17.25" lengthAdjust="spacingAndGlyphs">A14</text>
<text x="862.65" y="170.28" font-size="8.5" textLength="10.1" lengthAdjust="spacingAndGlyphs" text-anchor="end">25</text>
<text x="879.17" y="173.86" font-size="8.12" textLength="9.6" lengthAdjust="spacingAndGlyphs" class="t">A8</text>
<line x1="825.54" y1="180.4" x2="871.62" y2="180.4" stroke="#1c1c1c" stroke-width="0.85" stroke-linecap="butt"/>
<text x="828.78" y="180.7" font-size="10.09" textLength="11.5" lengthAdjust="spacingAndGlyphs">A9</text>
<text x="862.65" y="179.5" font-size="8.5" textLength="10.1" lengthAdjust="spacingAndGlyphs" text-anchor="end">24</text>
<text x="879.17" y="183.08" font-size="8.12" textLength="9.6" lengthAdjust="spacingAndGlyphs" class="t">A9</text>
<line x1="825.54" y1="189.62" x2="871.62" y2="189.62" stroke="#1c1c1c" stroke-width="0.85" stroke-linecap="butt"/>
<text x="828.78" y="189.92" font-size="10.09" textLength="17.25" lengthAdjust="spacingAndGlyphs">A11</text>
<text x="862.65" y="188.72" font-size="8.5" textLength="10.1" lengthAdjust="spacingAndGlyphs" text-anchor="end">21</text>
<text x="879.17" y="192.29" font-size="8.12" textLength="14.4" lengthAdjust="spacingAndGlyphs" class="t">A10</text>
<line x1="825.54" y1="198.83" x2="871.62" y2="198.83" stroke="#1c1c1c" stroke-width="0.85" stroke-linecap="butt"/>
<text x="828.78" y="199.13" font-size="10.09" textLength="17.25" lengthAdjust="spacingAndGlyphs">A10</text>
<text x="862.65" y="197.93" font-size="8.5" textLength="10.1" lengthAdjust="spacingAndGlyphs" text-anchor="end">23</text>
<text x="879.17" y="201.5" font-size="8.12" textLength="14.4" lengthAdjust="spacingAndGlyphs" class="t">A11</text>
<line x1="825.54" y1="208.05" x2="871.62" y2="208.05" stroke="#1c1c1c" stroke-width="0.85" stroke-linecap="butt"/>
<text x="828.78" y="208.35" font-size="10.09" textLength="17.25" lengthAdjust="spacingAndGlyphs">A12</text>
<text x="862.65" y="207.15" font-size="8.5" textLength="5.05" lengthAdjust="spacingAndGlyphs" text-anchor="end">2</text>
<text x="879.17" y="210.72" font-size="8.12" textLength="14.4" lengthAdjust="spacingAndGlyphs" class="t">A12</text>
<line x1="825.54" y1="217.26" x2="871.62" y2="217.26" stroke="#1c1c1c" stroke-width="0.85" stroke-linecap="butt"/>
<text x="828.78" y="217.56" font-size="10.09" textLength="17.25" lengthAdjust="spacingAndGlyphs">A13</text>
<text x="862.65" y="216.36" font-size="8.5" textLength="10.1" lengthAdjust="spacingAndGlyphs" text-anchor="end">26</text>
<text x="879.17" y="219.94" font-size="8.12" textLength="14.4" lengthAdjust="spacingAndGlyphs" class="t">A13</text>
<line x1="825.54" y1="226.47" x2="871.62" y2="226.47" stroke="#1c1c1c" stroke-width="0.85" stroke-linecap="butt"/>
<text x="828.78" y="226.78" font-size="10.09" textLength="11.5" lengthAdjust="spacingAndGlyphs">A8</text>
<text x="862.65" y="225.57" font-size="8.5" textLength="5.05" lengthAdjust="spacingAndGlyphs" text-anchor="end">1</text>
<text x="879.17" y="229.15" font-size="8.12" textLength="14.4" lengthAdjust="spacingAndGlyphs" class="t">A14</text>
<line x1="825.54" y1="244.91" x2="871.62" y2="244.91" stroke="#1c1c1c" stroke-width="0.85" stroke-linecap="butt"/>
<text x="828.78" y="245.21" font-size="10.09" textLength="17.25" lengthAdjust="spacingAndGlyphs">/WR</text>
<text x="862.65" y="244" font-size="8.5" textLength="10.1" lengthAdjust="spacingAndGlyphs" text-anchor="end">27</text>
<text x="879.17" y="247.58" font-size="8.12" textLength="14.4" lengthAdjust="spacingAndGlyphs" class="t">WE\</text>
<line x1="825.54" y1="254.12" x2="871.62" y2="254.12" stroke="#1c1c1c" stroke-width="0.85" stroke-linecap="butt"/>
<text x="828.78" y="254.42" font-size="10.09" textLength="17.25" lengthAdjust="spacingAndGlyphs">/RD</text>
<text x="862.65" y="253.22" font-size="8.5" textLength="10.1" lengthAdjust="spacingAndGlyphs" text-anchor="end">22</text>
<text x="879.17" y="256.8" font-size="8.12" textLength="14.4" lengthAdjust="spacingAndGlyphs" class="t">OE\</text>
<line x1="825.54" y1="263.34" x2="871.62" y2="263.34" stroke="#1c1c1c" stroke-width="0.85" stroke-linecap="butt"/>
<text x="828.78" y="263.64" font-size="10.09" textLength="17.25" lengthAdjust="spacingAndGlyphs">A15</text>
<text x="862.65" y="262.44" font-size="8.5" textLength="10.1" lengthAdjust="spacingAndGlyphs" text-anchor="end">20</text>
<text x="879.17" y="266.01" font-size="8.12" textLength="14.4" lengthAdjust="spacingAndGlyphs" class="t">CS\</text>
<line x1="936.12" y1="97.47" x2="1000.62" y2="97.47" stroke="#1c1c1c" stroke-width="0.85" stroke-linecap="butt"/>
<text x="926.83" y="100.14" font-size="8.12" textLength="19.2" lengthAdjust="spacingAndGlyphs" text-anchor="end" class="t">I/O0</text>
<text x="943.75" y="96.56" font-size="8.5" textLength="10.1" lengthAdjust="spacingAndGlyphs">11</text>
<text x="980.98" y="97.77" font-size="10.09" textLength="11.5" lengthAdjust="spacingAndGlyphs">D0</text>
<line x1="936.12" y1="106.68" x2="1000.62" y2="106.68" stroke="#1c1c1c" stroke-width="0.85" stroke-linecap="butt"/>
<text x="926.83" y="109.36" font-size="8.12" textLength="19.2" lengthAdjust="spacingAndGlyphs" text-anchor="end" class="t">I/O1</text>
<text x="943.75" y="105.78" font-size="8.5" textLength="10.1" lengthAdjust="spacingAndGlyphs">12</text>
<text x="980.98" y="106.98" font-size="10.09" textLength="11.5" lengthAdjust="spacingAndGlyphs">D1</text>
<line x1="936.12" y1="115.89" x2="1000.62" y2="115.89" stroke="#1c1c1c" stroke-width="0.85" stroke-linecap="butt"/>
<text x="926.83" y="118.57" font-size="8.12" textLength="19.2" lengthAdjust="spacingAndGlyphs" text-anchor="end" class="t">I/O2</text>
<text x="943.75" y="114.99" font-size="8.5" textLength="10.1" lengthAdjust="spacingAndGlyphs">13</text>
<text x="980.98" y="116.19" font-size="10.09" textLength="11.5" lengthAdjust="spacingAndGlyphs">D2</text>
<line x1="936.12" y1="125.11" x2="1000.62" y2="125.11" stroke="#1c1c1c" stroke-width="0.85" stroke-linecap="butt"/>
<text x="926.83" y="127.78" font-size="8.12" textLength="19.2" lengthAdjust="spacingAndGlyphs" text-anchor="end" class="t">I/O3</text>
<text x="943.75" y="124.21" font-size="8.5" textLength="10.1" lengthAdjust="spacingAndGlyphs">15</text>
<text x="980.98" y="125.41" font-size="10.09" textLength="11.5" lengthAdjust="spacingAndGlyphs">D3</text>
<line x1="936.12" y1="134.32" x2="1000.62" y2="134.32" stroke="#1c1c1c" stroke-width="0.85" stroke-linecap="butt"/>
<text x="926.83" y="137" font-size="8.12" textLength="19.2" lengthAdjust="spacingAndGlyphs" text-anchor="end" class="t">I/O4</text>
<text x="943.75" y="133.42" font-size="8.5" textLength="10.1" lengthAdjust="spacingAndGlyphs">16</text>
<text x="980.98" y="134.62" font-size="10.09" textLength="11.5" lengthAdjust="spacingAndGlyphs">D4</text>
<line x1="936.12" y1="143.54" x2="1000.62" y2="143.54" stroke="#1c1c1c" stroke-width="0.85" stroke-linecap="butt"/>
<text x="926.83" y="146.22" font-size="8.12" textLength="19.2" lengthAdjust="spacingAndGlyphs" text-anchor="end" class="t">I/O5</text>
<text x="943.75" y="142.64" font-size="8.5" textLength="10.1" lengthAdjust="spacingAndGlyphs">17</text>
<text x="980.98" y="143.84" font-size="10.09" textLength="11.5" lengthAdjust="spacingAndGlyphs">D5</text>
<line x1="936.12" y1="152.75" x2="1000.62" y2="152.75" stroke="#1c1c1c" stroke-width="0.85" stroke-linecap="butt"/>
<text x="926.83" y="155.43" font-size="8.12" textLength="19.2" lengthAdjust="spacingAndGlyphs" text-anchor="end" class="t">I/O6</text>
<text x="943.75" y="151.85" font-size="8.5" textLength="10.1" lengthAdjust="spacingAndGlyphs">18</text>
<text x="980.98" y="153.06" font-size="10.09" textLength="11.5" lengthAdjust="spacingAndGlyphs">D6</text>
<line x1="936.12" y1="161.97" x2="1000.62" y2="161.97" stroke="#1c1c1c" stroke-width="0.85" stroke-linecap="butt"/>
<text x="926.83" y="164.65" font-size="8.12" textLength="19.2" lengthAdjust="spacingAndGlyphs" text-anchor="end" class="t">I/O7</text>
<text x="943.75" y="161.07" font-size="8.5" textLength="10.1" lengthAdjust="spacingAndGlyphs">19</text>
<text x="980.98" y="162.27" font-size="10.09" textLength="11.5" lengthAdjust="spacingAndGlyphs">D7</text>
<text x="926.83" y="229.15" font-size="8.12" textLength="14.4" lengthAdjust="spacingAndGlyphs" text-anchor="end" class="t">VCC</text>
<text x="926.83" y="266.01" font-size="8.12" textLength="14.4" lengthAdjust="spacingAndGlyphs" text-anchor="end" class="t">VSS</text>
<line x1="936.12" y1="226.47" x2="968" y2="226.47" stroke="#1c1c1c" stroke-width="0.85" stroke-linecap="butt"/>
<text x="943.75" y="225.57" font-size="8.5" textLength="10.1" lengthAdjust="spacingAndGlyphs">28</text>
<text x="956.35" y="225.57" font-size="8.5" textLength="5.05" lengthAdjust="spacingAndGlyphs">2</text>
<polyline points="936.12,263.34 954.55,263.34 954.55,281.76" fill="none" stroke="#1c1c1c" stroke-width="0.85" stroke-linejoin="miter" stroke-linecap="butt"/>
<line x1="947.55" y1="281.76" x2="961.55" y2="281.76" stroke="#111" stroke-width="1.2" stroke-linecap="butt"/>
<text x="953.65" y="291.37" font-size="10.17" textLength="17.4" lengthAdjust="spacingAndGlyphs" text-anchor="middle">GND</text>
<text x="943.75" y="262.44" font-size="8.5" textLength="10.1" lengthAdjust="spacingAndGlyphs">14</text>
<line x1="973" y1="208.05" x2="973" y2="244.91" stroke="#1c1c1c" stroke-width="0.85" stroke-linecap="butt"/>
<circle cx="973" cy="208.05" r="1.6" fill="#000"/>
<circle cx="973" cy="244.91" r="1.6" fill="#000"/>
<line x1="972.98" y1="208.05" x2="1000.62" y2="208.05" stroke="#1c1c1c" stroke-width="0.85" stroke-linecap="butt"/>
<line x1="973" y1="208.05" x2="972.98" y2="208.05" stroke="#1c1c1c" stroke-width="0.85" stroke-linecap="butt"/>
<line x1="973" y1="244.91" x2="1000.4" y2="244.91" stroke="#1c1c1c" stroke-width="0.85" stroke-linecap="butt"/>
<path d="M968,223 A5,6 0 0 1 978,223 Z" fill="#000"/>
<rect x="968" y="224.2" width="10" height="6" fill="#000"/>
<path d="M968,231.4 A5,6 0 0 0 978,231.4 Z" fill="#000"/>
<text x="976.28" y="206" font-size="10.09" textLength="17.25" lengthAdjust="spacingAndGlyphs">VCC</text>
<text x="974.68" y="253.8" font-size="10.09" textLength="23" lengthAdjust="spacingAndGlyphs">PE4*</text>
<text x="981.03" y="224.8" font-size="8.73" textLength="15.6" lengthAdjust="spacingAndGlyphs">SJ1</text>
<text x="971.19" y="214.6" font-size="7.81" textLength="4.6" lengthAdjust="spacingAndGlyphs" class="t" transform="rotate(-90 971.6 214.6)">1</text>
<text x="971.19" y="243.4" font-size="7.81" textLength="4.6" lengthAdjust="spacingAndGlyphs" class="t" transform="rotate(-90 971.6 243.4)">3</text>
<rect x="724.17" y="327.84" width="110.58" height="414.67" fill="none" stroke="#111" stroke-width="1.1"/>
<text x="817.5" y="322.8" font-size="9.71" textLength="16.5" lengthAdjust="spacingAndGlyphs">IC5</text>
<text x="781.88" y="751.5" font-size="10.17" textLength="52.2" lengthAdjust="spacingAndGlyphs">ATmega128</text>
<line x1="668.88" y1="337.06" x2="724.17" y2="337.06" stroke="#1c1c1c" stroke-width="0.85" stroke-linecap="butt"/>
<text x="677.78" y="336.45" font-size="10.09" textLength="11.5" lengthAdjust="spacingAndGlyphs">D7</text>
<text x="715.45" y="336.16" font-size="8.5" textLength="10.1" lengthAdjust="spacingAndGlyphs" text-anchor="end">44</text>
<text x="731.46" y="339.78" font-size="8.27" textLength="39.2" lengthAdjust="spacingAndGlyphs" class="t">(AD7)PA7</text>
<line x1="668.88" y1="346.27" x2="724.17" y2="346.27" stroke="#1c1c1c" stroke-width="0.85" stroke-linecap="butt"/>
<text x="677.78" y="345.67" font-size="10.09" textLength="11.5" lengthAdjust="spacingAndGlyphs">D6</text>
<text x="715.45" y="345.37" font-size="8.5" textLength="10.1" lengthAdjust="spacingAndGlyphs" text-anchor="end">45</text>
<text x="731.46" y="349" font-size="8.27" textLength="39.2" lengthAdjust="spacingAndGlyphs" class="t">(AD6)PA6</text>
<line x1="668.88" y1="355.49" x2="724.17" y2="355.49" stroke="#1c1c1c" stroke-width="0.85" stroke-linecap="butt"/>
<text x="677.78" y="354.88" font-size="10.09" textLength="11.5" lengthAdjust="spacingAndGlyphs">D5</text>
<text x="715.45" y="354.59" font-size="8.5" textLength="10.1" lengthAdjust="spacingAndGlyphs" text-anchor="end">46</text>
<text x="731.46" y="358.21" font-size="8.27" textLength="39.2" lengthAdjust="spacingAndGlyphs" class="t">(AD5)PA5</text>
<line x1="668.88" y1="364.7" x2="724.17" y2="364.7" stroke="#1c1c1c" stroke-width="0.85" stroke-linecap="butt"/>
<text x="677.78" y="364.1" font-size="10.09" textLength="11.5" lengthAdjust="spacingAndGlyphs">D4</text>
<text x="715.45" y="363.8" font-size="8.5" textLength="10.1" lengthAdjust="spacingAndGlyphs" text-anchor="end">47</text>
<text x="731.46" y="367.43" font-size="8.27" textLength="39.2" lengthAdjust="spacingAndGlyphs" class="t">(AD4)PA4</text>
<line x1="668.88" y1="373.92" x2="724.17" y2="373.92" stroke="#1c1c1c" stroke-width="0.85" stroke-linecap="butt"/>
<text x="677.78" y="373.31" font-size="10.09" textLength="11.5" lengthAdjust="spacingAndGlyphs">D3</text>
<text x="715.45" y="373.02" font-size="8.5" textLength="10.1" lengthAdjust="spacingAndGlyphs" text-anchor="end">48</text>
<text x="731.46" y="376.64" font-size="8.27" textLength="39.2" lengthAdjust="spacingAndGlyphs" class="t">(AD3)PA3</text>
<line x1="668.88" y1="383.13" x2="724.17" y2="383.13" stroke="#1c1c1c" stroke-width="0.85" stroke-linecap="butt"/>
<text x="677.78" y="382.53" font-size="10.09" textLength="11.5" lengthAdjust="spacingAndGlyphs">D2</text>
<text x="715.45" y="382.23" font-size="8.5" textLength="10.1" lengthAdjust="spacingAndGlyphs" text-anchor="end">49</text>
<text x="731.46" y="385.86" font-size="8.27" textLength="39.2" lengthAdjust="spacingAndGlyphs" class="t">(AD2)PA2</text>
<line x1="668.88" y1="392.34" x2="724.17" y2="392.34" stroke="#1c1c1c" stroke-width="0.85" stroke-linecap="butt"/>
<text x="677.78" y="391.74" font-size="10.09" textLength="11.5" lengthAdjust="spacingAndGlyphs">D1</text>
<text x="715.45" y="391.44" font-size="8.5" textLength="10.1" lengthAdjust="spacingAndGlyphs" text-anchor="end">50</text>
<text x="731.46" y="395.07" font-size="8.27" textLength="39.2" lengthAdjust="spacingAndGlyphs" class="t">(AD1)PA1</text>
<line x1="668.88" y1="401.56" x2="724.17" y2="401.56" stroke="#1c1c1c" stroke-width="0.85" stroke-linecap="butt"/>
<text x="677.78" y="400.96" font-size="10.09" textLength="11.5" lengthAdjust="spacingAndGlyphs">D0</text>
<text x="715.45" y="400.66" font-size="8.5" textLength="10.1" lengthAdjust="spacingAndGlyphs" text-anchor="end">51</text>
<text x="731.46" y="404.29" font-size="8.27" textLength="39.2" lengthAdjust="spacingAndGlyphs" class="t">(AD0)PA0</text>
<line x1="668.88" y1="419.99" x2="724.17" y2="419.99" stroke="#1c1c1c" stroke-width="0.85" stroke-linecap="butt"/>
<text x="677.78" y="419.39" font-size="10.09" textLength="17.25" lengthAdjust="spacingAndGlyphs">PB7</text>
<text x="715.45" y="419.09" font-size="8.5" textLength="10.1" lengthAdjust="spacingAndGlyphs" text-anchor="end">17</text>
<text x="731.46" y="422.72" font-size="8.27" textLength="39.2" lengthAdjust="spacingAndGlyphs" class="t">(OC2)PB7</text>
<line x1="668.88" y1="429.2" x2="724.17" y2="429.2" stroke="#1c1c1c" stroke-width="0.85" stroke-linecap="butt"/>
<text x="677.78" y="428.6" font-size="10.09" textLength="17.25" lengthAdjust="spacingAndGlyphs">PB6</text>
<text x="715.45" y="428.31" font-size="8.5" textLength="10.1" lengthAdjust="spacingAndGlyphs" text-anchor="end">16</text>
<text x="731.46" y="431.93" font-size="8.27" textLength="44.1" lengthAdjust="spacingAndGlyphs" class="t">(OC1B)PB6</text>
<line x1="668.88" y1="438.42" x2="724.17" y2="438.42" stroke="#1c1c1c" stroke-width="0.85" stroke-linecap="butt"/>
<text x="677.78" y="437.82" font-size="10.09" textLength="17.25" lengthAdjust="spacingAndGlyphs">PB5</text>
<text x="715.45" y="437.52" font-size="8.5" textLength="10.1" lengthAdjust="spacingAndGlyphs" text-anchor="end">15</text>
<text x="731.46" y="441.15" font-size="8.27" textLength="44.1" lengthAdjust="spacingAndGlyphs" class="t">(OC1A)PB5</text>
<line x1="668.88" y1="447.63" x2="724.17" y2="447.63" stroke="#1c1c1c" stroke-width="0.85" stroke-linecap="butt"/>
<text x="677.78" y="447.03" font-size="10.09" textLength="17.25" lengthAdjust="spacingAndGlyphs">PB4</text>
<text x="715.45" y="446.74" font-size="8.5" textLength="10.1" lengthAdjust="spacingAndGlyphs" text-anchor="end">14</text>
<text x="731.46" y="450.36" font-size="8.27" textLength="39.2" lengthAdjust="spacingAndGlyphs" class="t">(OC0)PB4</text>
<line x1="668.88" y1="456.85" x2="724.17" y2="456.85" stroke="#1c1c1c" stroke-width="0.85" stroke-linecap="butt"/>
<text x="677.78" y="456.25" font-size="10.09" textLength="17.25" lengthAdjust="spacingAndGlyphs">PB3</text>
<text x="715.45" y="455.95" font-size="8.5" textLength="10.1" lengthAdjust="spacingAndGlyphs" text-anchor="end">13</text>
<text x="731.46" y="459.58" font-size="8.27" textLength="44.1" lengthAdjust="spacingAndGlyphs" class="t">(MISO)PB3</text>
<line x1="668.88" y1="466.06" x2="724.17" y2="466.06" stroke="#1c1c1c" stroke-width="0.85" stroke-linecap="butt"/>
<text x="677.78" y="465.46" font-size="10.09" textLength="17.25" lengthAdjust="spacingAndGlyphs">PB2</text>
<text x="715.45" y="465.17" font-size="8.5" textLength="10.1" lengthAdjust="spacingAndGlyphs" text-anchor="end">12</text>
<text x="731.46" y="468.79" font-size="8.27" textLength="44.1" lengthAdjust="spacingAndGlyphs" class="t">(MOSI)PB2</text>
<line x1="668.88" y1="475.28" x2="724.17" y2="475.28" stroke="#1c1c1c" stroke-width="0.85" stroke-linecap="butt"/>
<text x="677.78" y="474.68" font-size="10.09" textLength="17.25" lengthAdjust="spacingAndGlyphs">PB1</text>
<text x="715.45" y="474.38" font-size="8.5" textLength="10.1" lengthAdjust="spacingAndGlyphs" text-anchor="end">11</text>
<text x="731.46" y="478" font-size="8.27" textLength="39.2" lengthAdjust="spacingAndGlyphs" class="t">(SCK)PB1</text>
<line x1="668.88" y1="484.5" x2="724.17" y2="484.5" stroke="#1c1c1c" stroke-width="0.85" stroke-linecap="butt"/>
<text x="677.78" y="483.89" font-size="10.09" textLength="17.25" lengthAdjust="spacingAndGlyphs">PB0</text>
<text x="715.45" y="483.6" font-size="8.5" textLength="10.1" lengthAdjust="spacingAndGlyphs" text-anchor="end">10</text>
<text x="731.46" y="487.22" font-size="8.27" textLength="34.3" lengthAdjust="spacingAndGlyphs" class="t">(SS)PB0</text>
<line x1="668.88" y1="502.93" x2="724.17" y2="502.93" stroke="#1c1c1c" stroke-width="0.85" stroke-linecap="butt"/>
<text x="677.78" y="502.32" font-size="10.09" textLength="17.25" lengthAdjust="spacingAndGlyphs">A15</text>
<text x="715.45" y="502.03" font-size="8.5" textLength="10.1" lengthAdjust="spacingAndGlyphs" text-anchor="end">42</text>
<text x="731.46" y="505.65" font-size="8.27" textLength="39.2" lengthAdjust="spacingAndGlyphs" class="t">(A15)PC7</text>
<line x1="668.88" y1="512.14" x2="724.17" y2="512.14" stroke="#1c1c1c" stroke-width="0.85" stroke-linecap="butt"/>
<text x="677.78" y="511.54" font-size="10.09" textLength="17.25" lengthAdjust="spacingAndGlyphs">A11</text>
<text x="715.45" y="511.24" font-size="8.5" textLength="10.1" lengthAdjust="spacingAndGlyphs" text-anchor="end">41</text>
<text x="731.46" y="514.87" font-size="8.27" textLength="39.2" lengthAdjust="spacingAndGlyphs" class="t">(A14)PC6</text>
<line x1="668.88" y1="521.36" x2="724.17" y2="521.36" stroke="#1c1c1c" stroke-width="0.85" stroke-linecap="butt"/>
<text x="677.78" y="520.75" font-size="10.09" textLength="17.25" lengthAdjust="spacingAndGlyphs">A10</text>
<text x="715.45" y="520.46" font-size="8.5" textLength="10.1" lengthAdjust="spacingAndGlyphs" text-anchor="end">40</text>
<text x="731.46" y="524.08" font-size="8.27" textLength="39.2" lengthAdjust="spacingAndGlyphs" class="t">(A13)PC5</text>
<line x1="668.88" y1="530.57" x2="724.17" y2="530.57" stroke="#1c1c1c" stroke-width="0.85" stroke-linecap="butt"/>
<text x="677.78" y="529.97" font-size="10.09" textLength="11.5" lengthAdjust="spacingAndGlyphs">A9</text>
<text x="715.45" y="529.67" font-size="8.5" textLength="10.1" lengthAdjust="spacingAndGlyphs" text-anchor="end">39</text>
<text x="731.46" y="533.29" font-size="8.27" textLength="39.2" lengthAdjust="spacingAndGlyphs" class="t">(A12)PC4</text>
<line x1="668.88" y1="539.78" x2="724.17" y2="539.78" stroke="#1c1c1c" stroke-width="0.85" stroke-linecap="butt"/>
<text x="677.78" y="539.18" font-size="10.09" textLength="17.25" lengthAdjust="spacingAndGlyphs">A12</text>
<text x="715.45" y="538.88" font-size="8.5" textLength="10.1" lengthAdjust="spacingAndGlyphs" text-anchor="end">38</text>
<text x="731.46" y="542.51" font-size="8.27" textLength="39.2" lengthAdjust="spacingAndGlyphs" class="t">(A11)PC3</text>
<line x1="668.88" y1="549" x2="724.17" y2="549" stroke="#1c1c1c" stroke-width="0.85" stroke-linecap="butt"/>
<text x="677.78" y="548.4" font-size="10.09" textLength="17.25" lengthAdjust="spacingAndGlyphs">A14</text>
<text x="715.45" y="548.1" font-size="8.5" textLength="10.1" lengthAdjust="spacingAndGlyphs" text-anchor="end">37</text>
<text x="731.46" y="551.73" font-size="8.27" textLength="39.2" lengthAdjust="spacingAndGlyphs" class="t">(A10)PC2</text>
<line x1="668.88" y1="558.21" x2="724.17" y2="558.21" stroke="#1c1c1c" stroke-width="0.85" stroke-linecap="butt"/>
<text x="677.78" y="557.61" font-size="10.09" textLength="11.5" lengthAdjust="spacingAndGlyphs">A8</text>
<text x="715.45" y="557.31" font-size="8.5" textLength="10.1" lengthAdjust="spacingAndGlyphs" text-anchor="end">36</text>
<text x="731.46" y="560.94" font-size="8.27" textLength="34.3" lengthAdjust="spacingAndGlyphs" class="t">(A9)PC1</text>
<line x1="668.88" y1="567.43" x2="724.17" y2="567.43" stroke="#1c1c1c" stroke-width="0.85" stroke-linecap="butt"/>
<text x="677.78" y="566.83" font-size="10.09" textLength="17.25" lengthAdjust="spacingAndGlyphs">A13</text>
<text x="715.45" y="566.53" font-size="8.5" textLength="10.1" lengthAdjust="spacingAndGlyphs" text-anchor="end">35</text>
<text x="731.46" y="570.16" font-size="8.27" textLength="34.3" lengthAdjust="spacingAndGlyphs" class="t">(A8)PC0</text>
<line x1="668.88" y1="585.86" x2="724.17" y2="585.86" stroke="#1c1c1c" stroke-width="0.85" stroke-linecap="butt"/>
<text x="677.78" y="585.26" font-size="10.09" textLength="17.25" lengthAdjust="spacingAndGlyphs">PD7</text>
<text x="715.45" y="584.96" font-size="8.5" textLength="10.1" lengthAdjust="spacingAndGlyphs" text-anchor="end">32</text>
<text x="731.46" y="588.59" font-size="8.27" textLength="34.3" lengthAdjust="spacingAndGlyphs" class="t">(T2)PD7</text>
<line x1="668.88" y1="595.08" x2="724.17" y2="595.08" stroke="#1c1c1c" stroke-width="0.85" stroke-linecap="butt"/>
<text x="677.78" y="594.48" font-size="10.09" textLength="17.25" lengthAdjust="spacingAndGlyphs">PD6</text>
<text x="715.45" y="594.18" font-size="8.5" textLength="10.1" lengthAdjust="spacingAndGlyphs" text-anchor="end">31</text>
<text x="731.46" y="597.8" font-size="8.27" textLength="34.3" lengthAdjust="spacingAndGlyphs" class="t">(T1)PD6</text>
<line x1="668.88" y1="604.29" x2="724.17" y2="604.29" stroke="#1c1c1c" stroke-width="0.85" stroke-linecap="butt"/>
<text x="677.78" y="603.69" font-size="10.09" textLength="17.25" lengthAdjust="spacingAndGlyphs">PD5</text>
<text x="715.45" y="603.39" font-size="8.5" textLength="10.1" lengthAdjust="spacingAndGlyphs" text-anchor="end">30</text>
<text x="731.46" y="607.01" font-size="8.27" textLength="14.7" lengthAdjust="spacingAndGlyphs" class="t">PD5</text>
<line x1="668.88" y1="613.5" x2="724.17" y2="613.5" stroke="#1c1c1c" stroke-width="0.85" stroke-linecap="butt"/>
<text x="677.78" y="612.9" font-size="10.09" textLength="17.25" lengthAdjust="spacingAndGlyphs">PD4</text>
<text x="715.45" y="612.61" font-size="8.5" textLength="10.1" lengthAdjust="spacingAndGlyphs" text-anchor="end">29</text>
<text x="731.46" y="616.23" font-size="8.27" textLength="39.2" lengthAdjust="spacingAndGlyphs" class="t">(IC1)PD4</text>
<line x1="668.88" y1="622.72" x2="724.17" y2="622.72" stroke="#1c1c1c" stroke-width="0.85" stroke-linecap="butt"/>
<text x="677.78" y="622.12" font-size="10.09" textLength="17.25" lengthAdjust="spacingAndGlyphs">PD3</text>
<text x="715.45" y="621.82" font-size="8.5" textLength="10.1" lengthAdjust="spacingAndGlyphs" text-anchor="end">28</text>
<text x="731.46" y="625.45" font-size="8.27" textLength="44.1" lengthAdjust="spacingAndGlyphs" class="t">(INT3)PD3</text>
<line x1="668.88" y1="631.93" x2="724.17" y2="631.93" stroke="#1c1c1c" stroke-width="0.85" stroke-linecap="butt"/>
<text x="677.78" y="631.33" font-size="10.09" textLength="17.25" lengthAdjust="spacingAndGlyphs">PD2</text>
<text x="715.45" y="631.03" font-size="8.5" textLength="10.1" lengthAdjust="spacingAndGlyphs" text-anchor="end">27</text>
<text x="731.46" y="634.66" font-size="8.27" textLength="44.1" lengthAdjust="spacingAndGlyphs" class="t">(INT2)PD2</text>
<line x1="668.88" y1="641.15" x2="724.17" y2="641.15" stroke="#1c1c1c" stroke-width="0.85" stroke-linecap="butt"/>
<text x="677.78" y="640.55" font-size="10.09" textLength="17.25" lengthAdjust="spacingAndGlyphs">PD1</text>
<text x="715.45" y="640.25" font-size="8.5" textLength="10.1" lengthAdjust="spacingAndGlyphs" text-anchor="end">26</text>
<text x="731.46" y="643.88" font-size="8.27" textLength="44.1" lengthAdjust="spacingAndGlyphs" class="t">(INT1)PD1</text>
<line x1="668.88" y1="650.37" x2="724.17" y2="650.37" stroke="#1c1c1c" stroke-width="0.85" stroke-linecap="butt"/>
<text x="677.78" y="649.76" font-size="10.09" textLength="17.25" lengthAdjust="spacingAndGlyphs">PD0</text>
<text x="715.45" y="649.47" font-size="8.5" textLength="10.1" lengthAdjust="spacingAndGlyphs" text-anchor="end">25</text>
<text x="731.46" y="653.09" font-size="8.27" textLength="44.1" lengthAdjust="spacingAndGlyphs" class="t">(INT0)PD0</text>
<line x1="668.88" y1="668.79" x2="724.17" y2="668.79" stroke="#1c1c1c" stroke-width="0.85" stroke-linecap="butt"/>
<text x="677.78" y="668.19" font-size="10.09" textLength="17.25" lengthAdjust="spacingAndGlyphs">PE7</text>
<text x="715.45" y="667.89" font-size="8.5" textLength="5.05" lengthAdjust="spacingAndGlyphs" text-anchor="end">9</text>
<text x="731.46" y="671.52" font-size="8.27" textLength="44.1" lengthAdjust="spacingAndGlyphs" class="t">(INT7)PE7</text>
<line x1="668.88" y1="678.01" x2="724.17" y2="678.01" stroke="#1c1c1c" stroke-width="0.85" stroke-linecap="butt"/>
<text x="677.78" y="677.41" font-size="10.09" textLength="17.25" lengthAdjust="spacingAndGlyphs">PE6</text>
<text x="715.45" y="677.11" font-size="8.5" textLength="5.05" lengthAdjust="spacingAndGlyphs" text-anchor="end">8</text>
<text x="731.46" y="680.74" font-size="8.27" textLength="44.1" lengthAdjust="spacingAndGlyphs" class="t">(INT6)PE6</text>
<line x1="668.88" y1="687.23" x2="724.17" y2="687.23" stroke="#1c1c1c" stroke-width="0.85" stroke-linecap="butt"/>
<text x="677.78" y="686.62" font-size="10.09" textLength="17.25" lengthAdjust="spacingAndGlyphs">PE5</text>
<text x="715.45" y="686.33" font-size="8.5" textLength="5.05" lengthAdjust="spacingAndGlyphs" text-anchor="end">7</text>
<text x="731.46" y="689.95" font-size="8.27" textLength="44.1" lengthAdjust="spacingAndGlyphs" class="t">(INT5)PE5</text>
<line x1="668.88" y1="696.44" x2="724.17" y2="696.44" stroke="#1c1c1c" stroke-width="0.85" stroke-linecap="butt"/>
<text x="677.78" y="695.84" font-size="10.09" textLength="17.25" lengthAdjust="spacingAndGlyphs">PE4</text>
<text x="715.45" y="695.54" font-size="8.5" textLength="5.05" lengthAdjust="spacingAndGlyphs" text-anchor="end">6</text>
<text x="731.46" y="699.16" font-size="8.27" textLength="44.1" lengthAdjust="spacingAndGlyphs" class="t">(INT4)PE4</text>
<line x1="668.88" y1="705.65" x2="724.17" y2="705.65" stroke="#1c1c1c" stroke-width="0.85" stroke-linecap="butt"/>
<text x="677.78" y="705.05" font-size="10.09" textLength="17.25" lengthAdjust="spacingAndGlyphs">PE3</text>
<text x="715.45" y="704.75" font-size="8.5" textLength="5.05" lengthAdjust="spacingAndGlyphs" text-anchor="end">5</text>
<text x="731.46" y="708.38" font-size="8.27" textLength="39.2" lengthAdjust="spacingAndGlyphs" class="t">(AC-)PE3</text>
<line x1="668.88" y1="714.87" x2="724.17" y2="714.87" stroke="#1c1c1c" stroke-width="0.85" stroke-linecap="butt"/>
<text x="677.78" y="714.27" font-size="10.09" textLength="17.25" lengthAdjust="spacingAndGlyphs">PE2</text>
<text x="715.45" y="713.97" font-size="8.5" textLength="5.05" lengthAdjust="spacingAndGlyphs" text-anchor="end">4</text>
<text x="731.46" y="717.6" font-size="8.27" textLength="39.2" lengthAdjust="spacingAndGlyphs" class="t">(AC+)PE2</text>
<line x1="668.88" y1="724.09" x2="724.17" y2="724.09" stroke="#1c1c1c" stroke-width="0.85" stroke-linecap="butt"/>
<text x="677.78" y="723.49" font-size="10.09" textLength="17.25" lengthAdjust="spacingAndGlyphs">PE1</text>
<text x="715.45" y="723.19" font-size="8.5" textLength="5.05" lengthAdjust="spacingAndGlyphs" text-anchor="end">3</text>
<text x="731.46" y="726.81" font-size="8.27" textLength="39.2" lengthAdjust="spacingAndGlyphs" class="t">(TXD)PE1</text>
<line x1="668.88" y1="733.3" x2="724.17" y2="733.3" stroke="#1c1c1c" stroke-width="0.85" stroke-linecap="butt"/>
<text x="677.78" y="732.7" font-size="10.09" textLength="17.25" lengthAdjust="spacingAndGlyphs">PE0</text>
<text x="715.45" y="732.4" font-size="8.5" textLength="5.05" lengthAdjust="spacingAndGlyphs" text-anchor="end">2</text>
<text x="731.46" y="736.02" font-size="8.27" textLength="39.2" lengthAdjust="spacingAndGlyphs" class="t">(RXD)PE0</text>
<text x="825.65" y="339.81" font-size="8.35" textLength="24.75" lengthAdjust="spacingAndGlyphs" text-anchor="end">RESET</text>
<text x="825.65" y="358.24" font-size="8.35" textLength="24.75" lengthAdjust="spacingAndGlyphs" text-anchor="end">XTAL2</text>
<text x="825.65" y="376.67" font-size="8.35" textLength="24.75" lengthAdjust="spacingAndGlyphs" text-anchor="end">XTAL1</text>
<text x="825.65" y="395.09" font-size="8.35" textLength="19.8" lengthAdjust="spacingAndGlyphs" text-anchor="end">AREF</text>
<text x="825.65" y="404.31" font-size="8.35" textLength="19.8" lengthAdjust="spacingAndGlyphs" text-anchor="end">AVCC</text>
<text x="825.65" y="413.52" font-size="8.35" textLength="19.8" lengthAdjust="spacingAndGlyphs" text-anchor="end">AGND</text>
<text x="825.65" y="441.17" font-size="8.35" textLength="14.85" lengthAdjust="spacingAndGlyphs" text-anchor="end">VCC</text>
<text x="825.65" y="450.38" font-size="8.35" textLength="14.85" lengthAdjust="spacingAndGlyphs" text-anchor="end">GND</text>
<text x="825.65" y="478.03" font-size="8.35" textLength="24.75" lengthAdjust="spacingAndGlyphs" text-anchor="end">TOSC2</text>
<text x="825.65" y="496.46" font-size="8.35" textLength="24.75" lengthAdjust="spacingAndGlyphs" text-anchor="end">TOSC1</text>
<text x="825.65" y="514.89" font-size="8.35" textLength="14.85" lengthAdjust="spacingAndGlyphs" text-anchor="end">ALE</text>
<text x="825.65" y="524.11" font-size="8.35" textLength="9.9" lengthAdjust="spacingAndGlyphs" text-anchor="end">RD</text>
<text x="825.65" y="533.32" font-size="8.35" textLength="9.9" lengthAdjust="spacingAndGlyphs" text-anchor="end">WR</text>
<text x="825.65" y="542.53" font-size="8.35" textLength="14.85" lengthAdjust="spacingAndGlyphs" text-anchor="end">PEN</text>
<text x="825.64" y="671.5" font-size="8.19" textLength="43.65" lengthAdjust="spacingAndGlyphs" text-anchor="end" class="t">PF7(ADC7)</text>
<line x1="834.75" y1="668.79" x2="885.44" y2="668.79" stroke="#1c1c1c" stroke-width="0.85" stroke-linecap="butt"/>
<text x="842.35" y="667.89" font-size="8.5" textLength="10.1" lengthAdjust="spacingAndGlyphs">54</text>
<text x="858.38" y="669.09" font-size="10.09" textLength="17.25" lengthAdjust="spacingAndGlyphs">PF7</text>
<text x="825.64" y="680.71" font-size="8.19" textLength="43.65" lengthAdjust="spacingAndGlyphs" text-anchor="end" class="t">PF6(ADC6)</text>
<line x1="834.75" y1="678.01" x2="885.44" y2="678.01" stroke="#1c1c1c" stroke-width="0.85" stroke-linecap="butt"/>
<text x="842.35" y="677.11" font-size="8.5" textLength="10.1" lengthAdjust="spacingAndGlyphs">55</text>
<text x="858.38" y="678.31" font-size="10.09" textLength="17.25" lengthAdjust="spacingAndGlyphs">PF6</text>
<text x="825.64" y="689.93" font-size="8.19" textLength="43.65" lengthAdjust="spacingAndGlyphs" text-anchor="end" class="t">PF5(ADC5)</text>
<line x1="834.75" y1="687.23" x2="885.44" y2="687.23" stroke="#1c1c1c" stroke-width="0.85" stroke-linecap="butt"/>
<text x="842.35" y="686.33" font-size="8.5" textLength="10.1" lengthAdjust="spacingAndGlyphs">56</text>
<text x="858.38" y="687.52" font-size="10.09" textLength="17.25" lengthAdjust="spacingAndGlyphs">PF5</text>
<text x="825.64" y="699.14" font-size="8.19" textLength="43.65" lengthAdjust="spacingAndGlyphs" text-anchor="end" class="t">PF4(ADC4)</text>
<line x1="834.75" y1="696.44" x2="885.44" y2="696.44" stroke="#1c1c1c" stroke-width="0.85" stroke-linecap="butt"/>
<text x="842.35" y="695.54" font-size="8.5" textLength="10.1" lengthAdjust="spacingAndGlyphs">57</text>
<text x="858.38" y="696.74" font-size="10.09" textLength="17.25" lengthAdjust="spacingAndGlyphs">PF4</text>
<text x="825.64" y="708.36" font-size="8.19" textLength="43.65" lengthAdjust="spacingAndGlyphs" text-anchor="end" class="t">PF3(ADC3)</text>
<line x1="834.75" y1="705.65" x2="885.44" y2="705.65" stroke="#1c1c1c" stroke-width="0.85" stroke-linecap="butt"/>
<text x="842.35" y="704.75" font-size="8.5" textLength="10.1" lengthAdjust="spacingAndGlyphs">58</text>
<text x="858.38" y="705.95" font-size="10.09" textLength="17.25" lengthAdjust="spacingAndGlyphs">PF3</text>
<text x="825.64" y="717.57" font-size="8.19" textLength="43.65" lengthAdjust="spacingAndGlyphs" text-anchor="end" class="t">PF2(ADC2)</text>
<line x1="834.75" y1="714.87" x2="885.44" y2="714.87" stroke="#1c1c1c" stroke-width="0.85" stroke-linecap="butt"/>
<text x="842.35" y="713.97" font-size="8.5" textLength="10.1" lengthAdjust="spacingAndGlyphs">59</text>
<text x="858.38" y="715.17" font-size="10.09" textLength="17.25" lengthAdjust="spacingAndGlyphs">PF2</text>
<text x="825.64" y="726.79" font-size="8.19" textLength="43.65" lengthAdjust="spacingAndGlyphs" text-anchor="end" class="t">PF1(ADC1)</text>
<line x1="834.75" y1="724.09" x2="885.44" y2="724.09" stroke="#1c1c1c" stroke-width="0.85" stroke-linecap="butt"/>
<text x="842.35" y="723.19" font-size="8.5" textLength="10.1" lengthAdjust="spacingAndGlyphs">60</text>
<text x="858.38" y="724.38" font-size="10.09" textLength="17.25" lengthAdjust="spacingAndGlyphs">PF1</text>
<text x="825.64" y="736" font-size="8.19" textLength="43.65" lengthAdjust="spacingAndGlyphs" text-anchor="end" class="t">PF0(ADC0)</text>
<line x1="834.75" y1="733.3" x2="885.44" y2="733.3" stroke="#1c1c1c" stroke-width="0.85" stroke-linecap="butt"/>
<text x="842.35" y="732.4" font-size="8.5" textLength="10.1" lengthAdjust="spacingAndGlyphs">61</text>
<text x="858.38" y="733.6" font-size="10.09" textLength="17.25" lengthAdjust="spacingAndGlyphs">PF0</text>
<text x="842.55" y="335.86" font-size="8.5" textLength="10.1" lengthAdjust="spacingAndGlyphs">20</text>
<text x="842.55" y="354.29" font-size="8.5" textLength="10.1" lengthAdjust="spacingAndGlyphs">23</text>
<text x="842.55" y="372.72" font-size="8.5" textLength="10.1" lengthAdjust="spacingAndGlyphs">24</text>
<text x="842.55" y="391.14" font-size="8.5" textLength="10.1" lengthAdjust="spacingAndGlyphs">62</text>
<text x="842.55" y="400.36" font-size="8.5" textLength="10.1" lengthAdjust="spacingAndGlyphs">64</text>
<text x="842.55" y="409.57" font-size="8.5" textLength="10.1" lengthAdjust="spacingAndGlyphs">63</text>
<text x="842.55" y="428" font-size="8.5" textLength="10.1" lengthAdjust="spacingAndGlyphs">52</text>
<text x="842.55" y="437.22" font-size="8.5" textLength="10.1" lengthAdjust="spacingAndGlyphs">21</text>
<text x="842.55" y="446.44" font-size="8.5" textLength="10.1" lengthAdjust="spacingAndGlyphs">22</text>
<text x="842.55" y="455.65" font-size="8.5" textLength="10.1" lengthAdjust="spacingAndGlyphs">53</text>
<text x="842.55" y="474.08" font-size="8.5" textLength="10.1" lengthAdjust="spacingAndGlyphs">18</text>
<text x="842.55" y="492.51" font-size="8.5" textLength="10.1" lengthAdjust="spacingAndGlyphs">19</text>
<text x="842.55" y="510.94" font-size="8.5" textLength="10.1" lengthAdjust="spacingAndGlyphs">43</text>
<text x="842.55" y="520.15" font-size="8.5" textLength="10.1" lengthAdjust="spacingAndGlyphs">34</text>
<text x="842.55" y="529.37" font-size="8.5" textLength="10.1" lengthAdjust="spacingAndGlyphs">33</text>
<text x="842.55" y="538.58" font-size="8.5" textLength="5.05" lengthAdjust="spacingAndGlyphs">1</text>
<polyline points="841.67,337.06 890.05,337.06 890.05,318.62 1000.62,318.62" fill="none" stroke="#1c1c1c" stroke-width="0.85" stroke-linejoin="miter" stroke-linecap="butt"/>
<circle cx="838.4" cy="337.06" r="3.2" fill="#fff" stroke="#222" stroke-width="1.1"/>
<text x="970.78" y="315.7" font-size="10.09" textLength="23" lengthAdjust="spacingAndGlyphs">/RST</text>
<polyline points="834.75,355.49 899.26,355.49 899.26,346.27 972.98,346.27 972.98,401.56" fill="none" stroke="#1c1c1c" stroke-width="0.85" stroke-linejoin="miter" stroke-linecap="butt"/>
<circle cx="926.9" cy="346.27" r="1.9" fill="#000"/>
<text x="857.48" y="354.59" font-size="10.09" textLength="28.75" lengthAdjust="spacingAndGlyphs">XTAL2</text>
<polyline points="834.75,373.92 899.26,373.92 899.26,383.13 972.98,383.13" fill="none" stroke="#1c1c1c" stroke-width="0.85" stroke-linejoin="miter" stroke-linecap="butt"/>
<circle cx="926.9" cy="383.13" r="1.9" fill="#000"/>
<circle cx="972.98" cy="383.13" r="1.9" fill="#000"/>
<text x="857.48" y="373.02" font-size="10.09" textLength="28.75" lengthAdjust="spacingAndGlyphs">XTAL1</text>
<line x1="965.98" y1="401.56" x2="979.98" y2="401.56" stroke="#111" stroke-width="1.2" stroke-linecap="butt"/>
<rect x="957.1" y="344.27" width="3.7" height="4" fill="#fff" stroke="#1c1c1c" stroke-width="0"/>
<rect x="955.75" y="338.57" width="2.7" height="15.4" fill="#000" stroke="#1c1c1c" stroke-width="0"/>
<rect x="959.45" y="338.57" width="2.7" height="15.4" fill="#000" stroke="#1c1c1c" stroke-width="0"/>
<rect x="957.1" y="381.13" width="3.7" height="4" fill="#fff" stroke="#1c1c1c" stroke-width="0"/>
<rect x="955.75" y="375.43" width="2.7" height="15.4" fill="#000" stroke="#1c1c1c" stroke-width="0"/>
<rect x="959.45" y="375.43" width="2.7" height="15.4" fill="#000" stroke="#1c1c1c" stroke-width="0"/>
<line x1="926.9" y1="346.27" x2="926.9" y2="355.8" stroke="#1c1c1c" stroke-width="0.85" stroke-linecap="butt"/>
<line x1="926.9" y1="372.8" x2="926.9" y2="383.13" stroke="#1c1c1c" stroke-width="0.85" stroke-linecap="butt"/>
<line x1="917.11" y1="355.8" x2="936.7" y2="355.8" stroke="#000" stroke-width="1.3" stroke-linecap="butt"/>
<line x1="917.11" y1="372.8" x2="936.7" y2="372.8" stroke="#000" stroke-width="1.3" stroke-linecap="butt"/>
<rect x="917.5" y="359" width="18.8" height="10.6" fill="none" stroke="#000" stroke-width="1.5"/>
<text x="925.75" y="355.3" font-size="8.5" textLength="5.05" lengthAdjust="spacingAndGlyphs" transform="rotate(-90 926.2 355.3)">2</text>
<text x="925.75" y="381.4" font-size="8.5" textLength="5.05" lengthAdjust="spacingAndGlyphs" transform="rotate(-90 926.2 381.4)">1</text>
<text x="900.58" y="334.5" font-size="10.17" textLength="11.6" lengthAdjust="spacingAndGlyphs">X2</text>
<text x="902.08" y="341.8" font-size="7.86" textLength="41.67" lengthAdjust="spacingAndGlyphs" class="t">14,746MHz</text>
<text x="955.28" y="336.9" font-size="7.97" textLength="9.4" lengthAdjust="spacingAndGlyphs" class="t">C1</text>
<text x="952.08" y="363.3" font-size="7.97" textLength="14.1" lengthAdjust="spacingAndGlyphs" class="t">22p</text>
<text x="954.38" y="373.8" font-size="7.97" textLength="9.4" lengthAdjust="spacingAndGlyphs" class="t">C2</text>
<polyline points="834.75,392.34 945.34,392.34 954.55,401.56 954.55,456.85" fill="none" stroke="#1c1c1c" stroke-width="0.85" stroke-linejoin="miter" stroke-linecap="butt"/>
<line x1="834.75" y1="401.56" x2="926.9" y2="401.56" stroke="#1c1c1c" stroke-width="0.85" stroke-linecap="butt"/>
<circle cx="899.26" cy="401.56" r="1.9" fill="#000"/>
<polyline points="926.9,401.56 926.9,466.06" fill="none" stroke="#1c1c1c" stroke-width="0.85" stroke-linejoin="miter" stroke-linecap="butt"/>
<line x1="919.9" y1="466.06" x2="933.9" y2="466.06" stroke="#111" stroke-width="1.2" stroke-linecap="butt"/>
<polyline points="899.26,401.56 899.26,438.42 834.75,438.42" fill="none" stroke="#1c1c1c" stroke-width="0.85" stroke-linejoin="miter" stroke-linecap="butt"/>
<rect x="896.26" y="410.1" width="6" height="19.2" fill="#fff" stroke="#111" stroke-width="1.0"/>
<text x="903.38" y="429.2" font-size="7.97" textLength="9.4" lengthAdjust="spacingAndGlyphs" class="t">R3</text>
<text x="903.38" y="438.4" font-size="7.97" textLength="14.1" lengthAdjust="spacingAndGlyphs" class="t">3k3</text>
<rect x="924.9" y="418.6" width="4" height="3.6" fill="#fff" stroke="#1c1c1c" stroke-width="0"/>
<rect x="919.3" y="417.3" width="15.2" height="2.6" fill="#000" stroke="#1c1c1c" stroke-width="0"/>
<rect x="919.3" y="420.9" width="15.2" height="2.6" fill="#000" stroke="#1c1c1c" stroke-width="0"/>
<text x="938.46" y="423.2" font-size="8.27" textLength="9.8" lengthAdjust="spacingAndGlyphs" class="t">C5</text>
<text x="931.28" y="432" font-size="7.97" textLength="18.8" lengthAdjust="spacingAndGlyphs" class="t">100n</text>
<rect x="952.55" y="436.8" width="4" height="4.2" fill="#fff" stroke="#1c1c1c" stroke-width="0"/>
<rect x="946.95" y="435.5" width="15.2" height="2.6" fill="#000" stroke="#1c1c1c" stroke-width="0"/>
<rect x="946.95" y="439.7" width="15.2" height="2.6" fill="#000" stroke="#1c1c1c" stroke-width="0"/>
<text x="965.96" y="441.7" font-size="8.27" textLength="9.8" lengthAdjust="spacingAndGlyphs" class="t">C4</text>
<text x="958.78" y="450.5" font-size="7.97" textLength="18.8" lengthAdjust="spacingAndGlyphs" class="t">100n</text>
<polyline points="834.75,410.77 862.4,410.77 862.4,419.99" fill="none" stroke="#1c1c1c" stroke-width="0.85" stroke-linejoin="miter" stroke-linecap="butt"/>
<line x1="855.4" y1="419.99" x2="869.4" y2="419.99" stroke="#111" stroke-width="1.2" stroke-linecap="butt"/>
<line x1="880.83" y1="410.77" x2="880.83" y2="419.99" stroke="#1c1c1c" stroke-width="0.85" stroke-linecap="butt"/>
<polyline points="876.23,418.07 880.83,410.77 885.43,418.07" fill="none" stroke="#111" stroke-width="1.3" stroke-linejoin="miter" stroke-linecap="butt"/>
<line x1="880.83" y1="419.99" x2="880.83" y2="438.42" stroke="#1c1c1c" stroke-width="0.85" stroke-linecap="butt"/>
<circle cx="880.83" cy="429.2" r="1.9" fill="#000"/>
<circle cx="880.83" cy="438.42" r="1.9" fill="#000"/>
<line x1="834.75" y1="429.2" x2="880.83" y2="429.2" stroke="#1c1c1c" stroke-width="0.85" stroke-linecap="butt"/>
<polyline points="834.75,447.63 880.83,447.63 880.83,456.85" fill="none" stroke="#1c1c1c" stroke-width="0.85" stroke-linejoin="miter" stroke-linecap="butt"/>
<line x1="834.75" y1="456.85" x2="954.55" y2="456.85" stroke="#1c1c1c" stroke-width="0.85" stroke-linecap="butt"/>
<circle cx="880.83" cy="456.85" r="1.9" fill="#000"/>
<circle cx="926.9" cy="456.85" r="1.9" fill="#000"/>
<polyline points="834.75,475.28 890.05,475.28 890.05,493.71 834.75,493.71" fill="none" stroke="#1c1c1c" stroke-width="0.85" stroke-linejoin="miter" stroke-linecap="butt"/>
<rect x="883.05" y="480.1" width="14" height="8.8" fill="#fff"/>
<line x1="883.65" y1="480.89" x2="896.45" y2="480.89" stroke="#000" stroke-width="1.0" stroke-linecap="butt"/>
<line x1="883.65" y1="488.1" x2="896.45" y2="488.1" stroke="#000" stroke-width="1.0" stroke-linecap="butt"/>
<rect x="883.85" y="482.89" width="12.4" height="3.2" fill="none" stroke="#000" stroke-width="0.8"/>
<text x="898.58" y="482.3" font-size="7.97" textLength="9.4" lengthAdjust="spacingAndGlyphs" class="t">Q1</text>
<text x="898.58" y="491.2" font-size="7.89" textLength="46.5" lengthAdjust="spacingAndGlyphs" class="t">32,768 kHz</text>
<polyline points="834.75,512.14 890.05,512.14 890.05,585.86 1000.62,585.86" fill="none" stroke="#1c1c1c" stroke-width="0.85" stroke-linejoin="miter" stroke-linecap="butt"/>
<circle cx="963.76" cy="585.86" r="1.9" fill="#000"/>
<rect x="926.1" y="582.76" width="19.4" height="6.2" fill="#fff" stroke="#111" stroke-width="1.0"/>
<text x="894.78" y="584.56" font-size="10.09" textLength="23" lengthAdjust="spacingAndGlyphs">UALE</text>
<text x="977.78" y="584.56" font-size="10.09" textLength="17.25" lengthAdjust="spacingAndGlyphs">ALE</text>
<text x="931.38" y="580.9" font-size="7.97" textLength="9.4" lengthAdjust="spacingAndGlyphs" class="t">R4</text>
<text x="931.38" y="595.8" font-size="7.97" textLength="9.4" lengthAdjust="spacingAndGlyphs" class="t">0R</text>
<line x1="963.76" y1="585.86" x2="963.76" y2="622.72" stroke="#1c1c1c" stroke-width="0.85" stroke-linecap="butt"/>
<rect x="961.76" y="597.8" width="4" height="3.8" fill="#fff" stroke="#1c1c1c" stroke-width="0"/>
<rect x="956.37" y="596.5" width="14.8" height="2.6" fill="#000" stroke="#1c1c1c" stroke-width="0"/>
<rect x="956.37" y="600.3" width="14.8" height="2.6" fill="#000" stroke="#1c1c1c" stroke-width="0"/>
<line x1="956.76" y1="622.72" x2="970.76" y2="622.72" stroke="#111" stroke-width="1.2" stroke-linecap="butt"/>
<text x="962.87" y="632.32" font-size="10.17" textLength="17.4" lengthAdjust="spacingAndGlyphs" text-anchor="middle">GND</text>
<text x="974.86" y="597.8" font-size="8.27" textLength="9.8" lengthAdjust="spacingAndGlyphs" class="t">C6</text>
<text x="974.86" y="607.2" font-size="8.27" textLength="9.8" lengthAdjust="spacingAndGlyphs" class="t">0p</text>
<line x1="841.67" y1="521.36" x2="1000.4" y2="521.36" stroke="#1c1c1c" stroke-width="0.85" stroke-linecap="butt"/>
<circle cx="838.6" cy="521.36" r="3.2" fill="#fff" stroke="#222" stroke-width="1.1"/>
<text x="973.08" y="520.25" font-size="10.09" textLength="17.25" lengthAdjust="spacingAndGlyphs">/RD</text>
<line x1="841.67" y1="530.57" x2="1000.4" y2="530.57" stroke="#1c1c1c" stroke-width="0.85" stroke-linecap="butt"/>
<circle cx="838.6" cy="530.57" r="3.2" fill="#fff" stroke="#222" stroke-width="1.1"/>
<text x="973.08" y="529.47" font-size="10.09" textLength="17.25" lengthAdjust="spacingAndGlyphs">/WR</text>
<line x1="841.67" y1="539.78" x2="1000.4" y2="539.78" stroke="#1c1c1c" stroke-width="0.85" stroke-linecap="butt"/>
<circle cx="838.6" cy="539.78" r="3.2" fill="#fff" stroke="#222" stroke-width="1.1"/>
<text x="973.08" y="538.68" font-size="10.09" textLength="17.25" lengthAdjust="spacingAndGlyphs">VCC</text>
</svg>
</body></html>
